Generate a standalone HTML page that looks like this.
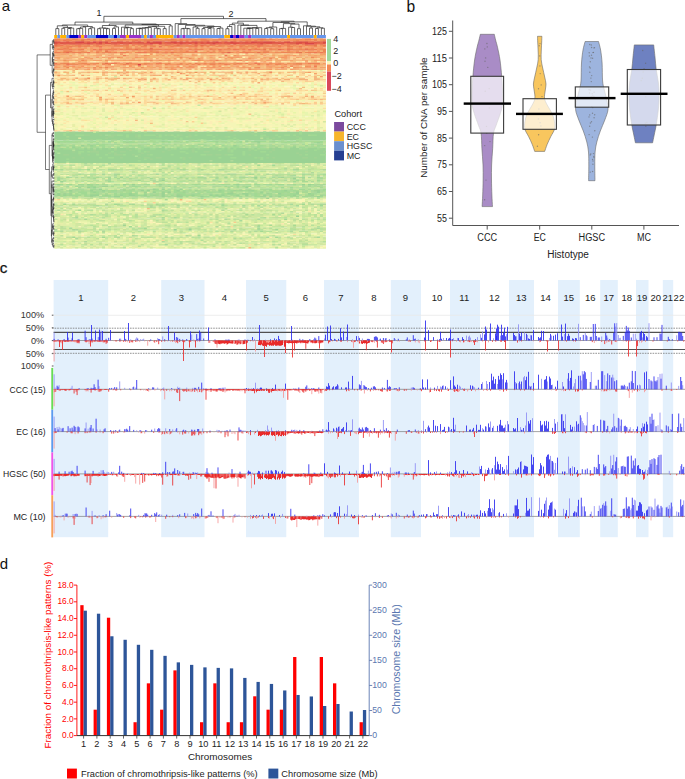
<!DOCTYPE html><html><head><meta charset="utf-8"><style>html,body{margin:0;padding:0;background:#fff;}svg{display:block;}text{font-family:"Liberation Sans",sans-serif;}</style></head><body>
<svg width="685" height="779" viewBox="0 0 685 779">
<rect width="685" height="779" fill="#fff"/>
<g font-family='"Liberation Sans", sans-serif' fill="#111">
<text x="1.80" y="11.20" font-size="15" text-anchor="start" fill="#111" >a</text>
<text x="406.60" y="11.60" font-size="15.6" text-anchor="start" fill="#111" >b</text>
<text x="-0.20" y="272.70" font-size="15.3" text-anchor="start" fill="#111" stroke="#111" stroke-width="0.25">c</text>
<text x="-0.30" y="569.00" font-size="15" text-anchor="start" fill="#111" >d</text>
</g>
<g transform="translate(54.3,38.6) scale(2.98462,1.50000)">
<path stroke="#ee8c5b" stroke-width="1" d="M0 0.5h91M0 1.5h91M0 5.5h91M0 17.5h91"/>
<path stroke="#e05b4d" stroke-width="1" d="M0 2.5h91"/>
<path stroke="#e05446" stroke-width="1" d="M0 3.5h91"/>
<path stroke="#ee8554" stroke-width="1" d="M0 4.5h91M0 9.5h91"/>
<path stroke="#f5a169" stroke-width="1" d="M0 6.5h91M0 8.5h91M0 12.5h91M0 14.5h91M0 18.5h91M0 19.5h91"/>
<path stroke="#ee7e54" stroke-width="1" d="M0 7.5h91"/>
<path stroke="#f5bd7e" stroke-width="1" d="M0 10.5h91"/>
<path stroke="#f5a870" stroke-width="1" d="M0 11.5h91M0 20.5h91"/>
<path stroke="#f5b67e" stroke-width="1" d="M0 13.5h91"/>
<path stroke="#fcd293" stroke-width="1" d="M0 15.5h91"/>
<path stroke="#f59a62" stroke-width="1" d="M0 16.5h91"/>
<path stroke="#f5f5b6" stroke-width="1" d="M0 21.5h91M0 30.5h91M0 31.5h91M0 33.5h91M0 35.5h91M0 41.5h91M0 44.5h91M0 45.5h91M0 47.5h91M0 48.5h91M0 49.5h91M0 50.5h91M0 52.5h91M0 53.5h91M0 54.5h91M0 55.5h91M0 56.5h91M0 57.5h91M0 58.5h91M0 60.5h91M0 107.5h91M0 115.5h91"/>
<path stroke="#f5c485" stroke-width="1" d="M0 22.5h91M0 24.5h91"/>
<path stroke="#fcf5b6" stroke-width="1" d="M0 23.5h91M0 25.5h91M0 28.5h91M0 29.5h91M0 32.5h91M0 36.5h91M0 37.5h91"/>
<path stroke="#fcd99a" stroke-width="1" d="M0 26.5h91M0 27.5h91M0 38.5h91"/>
<path stroke="#fceeaf" stroke-width="1" d="M0 34.5h91"/>
<path stroke="#fce7a8" stroke-width="1" d="M0 39.5h91M0 40.5h91M0 61.5h91"/>
<path stroke="#fce0a1" stroke-width="1" d="M0 42.5h91M0 43.5h91"/>
<path stroke="#eef5af" stroke-width="1" d="M0 46.5h91M0 51.5h91M0 59.5h91M0 108.5h91M0 130.5h91M0 138.5h91"/>
<path stroke="#9ad293" stroke-width="1" d="M0 62.5h91M0 63.5h91M0 64.5h91M0 65.5h91M0 66.5h91M0 67.5h91M0 73.5h91M0 74.5h91M0 75.5h91M0 76.5h91M0 77.5h91M0 78.5h91M0 79.5h91M0 80.5h91M0 81.5h91M0 82.5h91"/>
<path stroke="#a1d993" stroke-width="1" d="M0 68.5h91M0 71.5h91M0 72.5h91M0 101.5h91M0 102.5h91M0 103.5h91M0 104.5h91"/>
<path stroke="#b6e09a" stroke-width="1" d="M0 69.5h91M0 94.5h91M0 95.5h91M0 128.5h91"/>
<path stroke="#afd99a" stroke-width="1" d="M0 70.5h91M0 92.5h91M0 100.5h91"/>
<path stroke="#d2e7a1" stroke-width="1" d="M0 83.5h91M0 85.5h91M0 86.5h91M0 88.5h91M0 91.5h91M0 106.5h91M0 120.5h91M0 125.5h91M0 135.5h91M0 137.5h91"/>
<path stroke="#cbe7a1" stroke-width="1" d="M0 84.5h91M0 110.5h91M0 112.5h91M0 114.5h91M0 116.5h91M0 117.5h91M0 118.5h91M0 119.5h91M0 126.5h91M0 127.5h91M0 132.5h91"/>
<path stroke="#bde09a" stroke-width="1" d="M0 87.5h91M0 90.5h91M0 93.5h91M0 98.5h91M0 99.5h91M0 111.5h91"/>
<path stroke="#e0eea8" stroke-width="1" d="M0 89.5h91M0 96.5h91M0 109.5h91M0 121.5h91M0 122.5h91M0 123.5h91M0 124.5h91M0 129.5h91M0 131.5h91M0 133.5h91M0 134.5h91M0 136.5h91M0 139.5h91"/>
<path stroke="#a8d993" stroke-width="1" d="M0 97.5h91M0 105.5h91"/>
<path stroke="#e7eea8" stroke-width="1" d="M0 113.5h91"/>
<path stroke="#ee8554" stroke-width="1" d="M0 0.5h2M7 0.5h1M13 0.5h1M21 0.5h1M23 0.5h1M30 0.5h1M40 0.5h1M44 0.5h2M65 0.5h1M68 0.5h1M72 0.5h1M78 0.5h1M84 0.5h2M87 0.5h1M4 1.5h2M17 1.5h1M26 1.5h1M30 1.5h1M38 1.5h3M49 1.5h1M60 1.5h1M63 1.5h1M65 1.5h1M69 1.5h1M81 1.5h1M87 1.5h1M90 1.5h1M4 5.5h1M10 5.5h1M14 5.5h1M24 5.5h1M29 5.5h2M33 5.5h1M45 5.5h2M49 5.5h1M51 5.5h1M59 5.5h1M66 5.5h1M79 5.5h1M87 5.5h1M4 6.5h1M24 6.5h1M58 6.5h1M67 6.5h1M78 6.5h1M8 7.5h1M17 7.5h1M19 7.5h1M26 7.5h1M28 7.5h2M31 7.5h1M33 7.5h1M38 7.5h1M48 7.5h1M72 7.5h1M82 7.5h1M85 7.5h2M90 7.5h1M3 8.5h2M32 8.5h1M90 8.5h1M9 14.5h1M3 16.5h1M9 16.5h2M14 16.5h1M18 16.5h1M25 16.5h1M30 16.5h1M38 16.5h1M42 16.5h1M50 16.5h1M62 16.5h1M81 16.5h2M86 16.5h2M11 17.5h1M18 17.5h1M23 17.5h1M37 17.5h1M52 17.5h2M71 17.5h1M74 17.5h1M4 19.5h1M17 19.5h1"/>
<path stroke="#f59a62" stroke-width="1" d="M2 0.5h1M12 0.5h1M17 0.5h1M41 0.5h1M46 0.5h1M52 0.5h1M74 0.5h1M11 1.5h1M14 1.5h1M25 1.5h1M48 1.5h1M73 1.5h1M75 1.5h1M77 1.5h1M5 4.5h1M29 4.5h1M35 4.5h1M57 4.5h1M79 4.5h1M81 4.5h2M16 5.5h1M18 5.5h1M25 5.5h1M60 5.5h1M67 5.5h1M80 5.5h1M83 5.5h1M89 5.5h1M5 6.5h1M8 6.5h3M12 6.5h1M23 6.5h1M34 6.5h1M38 6.5h1M49 6.5h1M53 6.5h2M68 6.5h1M71 6.5h1M73 6.5h1M75 6.5h1M81 6.5h1M85 6.5h1M88 6.5h1M12 7.5h1M43 7.5h1M54 7.5h1M64 7.5h1M88 7.5h1M0 8.5h1M12 8.5h1M15 8.5h1M31 8.5h1M40 8.5h1M43 8.5h1M56 8.5h1M65 8.5h1M79 8.5h1M15 9.5h1M25 9.5h1M48 9.5h1M60 9.5h1M72 9.5h2M32 10.5h1M31 11.5h1M40 11.5h1M77 11.5h1M80 11.5h1M22 12.5h1M58 12.5h2M77 12.5h1M12 13.5h1M59 13.5h1M10 14.5h1M23 14.5h1M25 14.5h2M28 14.5h1M49 14.5h1M17 17.5h1M22 17.5h1M25 17.5h2M29 17.5h1M34 17.5h1M39 17.5h2M55 17.5h2M62 17.5h1M72 17.5h1M76 17.5h1M87 17.5h2M14 18.5h1M25 18.5h1M28 18.5h1M46 18.5h1M53 18.5h1M0 19.5h1M8 19.5h1M39 19.5h1M44 19.5h1M52 19.5h1M56 19.5h1M58 19.5h1M63 19.5h1M65 19.5h1M81 19.5h1M7 20.5h1M11 20.5h1M27 20.5h1M39 20.5h1M72 20.5h1M79 20.5h1M85 22.5h1M1 24.5h1M44 24.5h1M26 38.5h1"/>
<path stroke="#ee935b" stroke-width="1" d="M3 0.5h1M5 0.5h1M15 0.5h1M28 0.5h1M37 0.5h1M48 0.5h1M51 0.5h1M56 0.5h1M63 0.5h1M76 0.5h1M80 0.5h1M89 0.5h1M12 1.5h1M21 1.5h1M29 1.5h1M56 1.5h1M58 1.5h1M68 1.5h1M71 1.5h1M80 1.5h1M84 1.5h1M89 1.5h1M6 4.5h1M9 4.5h1M16 4.5h1M28 4.5h1M33 4.5h1M39 4.5h1M46 4.5h1M66 4.5h1M89 4.5h1M2 5.5h2M7 5.5h1M23 5.5h1M38 5.5h1M43 5.5h1M56 5.5h1M63 5.5h1M65 5.5h1M70 5.5h1M1 6.5h2M62 6.5h1M66 6.5h1M79 6.5h1M82 6.5h1M6 7.5h1M16 7.5h1M40 7.5h1M46 7.5h1M74 7.5h1M89 7.5h1M9 8.5h1M33 8.5h1M42 8.5h1M51 8.5h1M53 8.5h1M55 8.5h1M78 8.5h1M81 8.5h1M2 9.5h1M38 9.5h1M67 9.5h1M69 9.5h1M75 9.5h1M30 11.5h1M60 11.5h1M3 14.5h1M17 14.5h1M35 14.5h1M61 14.5h1M6 16.5h1M8 16.5h1M12 16.5h1M37 16.5h1M48 16.5h1M60 16.5h1M78 16.5h1M27 17.5h1M65 17.5h1M81 17.5h1M3 18.5h1M45 18.5h1M84 18.5h1M15 19.5h1M29 19.5h1M37 19.5h1M67 19.5h1M80 19.5h1M47 22.5h1M11 26.5h1"/>
<path stroke="#ee7e54" stroke-width="1" d="M4 0.5h1M6 0.5h1M9 0.5h1M20 0.5h1M32 0.5h1M34 0.5h1M42 0.5h1M49 0.5h2M55 0.5h1M60 0.5h1M70 0.5h1M0 1.5h1M18 1.5h1M31 1.5h2M42 1.5h1M44 1.5h1M50 1.5h2M64 1.5h1M67 1.5h1M30 2.5h1M1 4.5h1M8 4.5h1M14 4.5h1M20 4.5h1M24 4.5h1M37 4.5h1M40 4.5h1M52 4.5h1M69 4.5h1M78 4.5h1M84 4.5h1M90 4.5h1M0 5.5h1M5 5.5h1M8 5.5h1M39 5.5h1M62 5.5h1M75 5.5h1M78 5.5h1M82 5.5h1M3 6.5h1M5 8.5h1M44 8.5h1M0 9.5h2M3 9.5h1M6 9.5h1M8 9.5h1M14 9.5h1M18 9.5h1M20 9.5h1M22 9.5h2M29 9.5h1M37 9.5h1M52 9.5h1M56 9.5h1M63 9.5h1M70 9.5h1M85 9.5h1M23 11.5h1M54 14.5h1M4 16.5h1M20 16.5h1M34 16.5h2M47 16.5h1M55 16.5h1M61 16.5h1M64 16.5h1M68 16.5h1M85 16.5h1M88 16.5h1M48 17.5h1M57 17.5h1M68 17.5h1M87 18.5h1"/>
<path stroke="#f59362" stroke-width="1" d="M8 0.5h1M16 0.5h1M19 0.5h1M43 0.5h1M61 0.5h2M64 0.5h1M66 0.5h2M83 0.5h1M2 1.5h1M6 1.5h1M10 1.5h1M23 1.5h2M45 1.5h1M52 1.5h1M55 1.5h1M59 1.5h1M61 1.5h1M66 1.5h1M74 1.5h1M76 1.5h1M78 1.5h2M82 1.5h2M85 1.5h1M3 4.5h1M15 4.5h1M19 4.5h1M31 4.5h1M48 4.5h1M58 4.5h1M60 4.5h1M76 4.5h1M83 4.5h1M12 5.5h2M19 5.5h1M27 5.5h1M74 5.5h1M76 5.5h1M86 5.5h1M0 6.5h1M15 6.5h1M20 6.5h2M30 6.5h1M40 6.5h1M45 6.5h1M60 6.5h1M64 6.5h1M89 6.5h1M0 7.5h1M7 7.5h1M14 7.5h1M21 7.5h1M41 7.5h1M44 7.5h1M56 7.5h1M59 7.5h1M62 7.5h1M77 7.5h1M18 8.5h1M30 8.5h1M37 8.5h1M61 8.5h1M88 8.5h1M35 9.5h1M51 9.5h1M55 9.5h1M61 9.5h1M80 9.5h1M41 11.5h1M27 12.5h1M76 12.5h1M48 13.5h1M65 13.5h1M30 14.5h1M38 14.5h1M52 14.5h1M64 14.5h1M21 16.5h1M26 16.5h2M49 16.5h1M57 16.5h1M74 16.5h1M76 16.5h1M84 16.5h1M0 17.5h2M10 17.5h1M13 17.5h1M38 17.5h1M50 17.5h1M80 17.5h1M6 18.5h1M9 18.5h1M41 18.5h1M55 18.5h1M77 18.5h1M85 18.5h1M42 19.5h1M46 19.5h1M53 19.5h1M40 20.5h1M55 20.5h1M42 23.5h1M52 27.5h1M28 42.5h1"/>
<path stroke="#ee7754" stroke-width="1" d="M11 0.5h1M39 0.5h1M3 1.5h1M27 1.5h1M18 2.5h1M77 3.5h1M2 4.5h1M68 4.5h1M15 5.5h1M47 5.5h1M68 5.5h1M13 7.5h1M15 7.5h1M55 7.5h1M60 7.5h1M65 7.5h1M78 7.5h1M47 8.5h1M11 9.5h1M28 9.5h1M30 9.5h1M64 9.5h1M81 9.5h1M87 9.5h1M89 9.5h1M57 11.5h1M0 16.5h1M19 16.5h1M67 16.5h1M4 17.5h1"/>
<path stroke="#f5a169" stroke-width="1" d="M14 0.5h1M36 0.5h1M88 0.5h1M86 1.5h1M88 1.5h1M27 4.5h1M34 4.5h1M54 4.5h1M64 4.5h1M17 5.5h1M36 5.5h1M48 5.5h1M50 5.5h1M53 5.5h1M77 5.5h1M88 5.5h1M50 7.5h1M12 9.5h2M54 9.5h1M69 10.5h1M89 10.5h2M9 11.5h1M34 11.5h1M36 11.5h1M38 11.5h1M46 11.5h2M52 11.5h1M61 11.5h1M66 11.5h1M78 11.5h1M87 11.5h1M18 13.5h1M30 13.5h1M40 13.5h1M42 13.5h1M57 13.5h1M77 13.5h1M89 13.5h1M8 15.5h1M53 15.5h1M1 16.5h1M7 16.5h1M23 16.5h1M33 16.5h1M41 16.5h1M43 16.5h2M65 16.5h1M70 16.5h1M3 17.5h1M9 17.5h1M12 17.5h1M35 17.5h1M47 17.5h1M54 17.5h1M61 17.5h1M66 17.5h1M69 17.5h1M79 17.5h1M85 17.5h1M35 20.5h1M51 20.5h1M66 20.5h2M24 22.5h1M87 23.5h1M9 24.5h1M89 25.5h1M28 27.5h1M30 27.5h1M4 38.5h1M15 39.5h1M70 42.5h1"/>
<path stroke="#e77754" stroke-width="1" d="M33 0.5h1M69 0.5h1M35 5.5h1M32 7.5h1M84 7.5h1M34 9.5h1"/>
<path stroke="#f59a69" stroke-width="1" d="M79 0.5h1M20 1.5h1M72 1.5h1M72 4.5h1M85 5.5h1M36 6.5h1M39 6.5h1M38 8.5h1M21 9.5h1M22 10.5h1M10 12.5h1M14 12.5h1M19 12.5h1M61 12.5h1M31 14.5h1M46 14.5h1M53 14.5h1M71 14.5h1M87 14.5h1M90 14.5h1M58 16.5h1M66 16.5h1M83 16.5h1M8 17.5h1M31 17.5h2M45 19.5h1M13 20.5h1M87 20.5h1M32 22.5h1"/>
<path stroke="#e7774d" stroke-width="1" d="M9 1.5h1M30 4.5h1M87 4.5h1M70 7.5h1M17 8.5h1M82 9.5h1"/>
<path stroke="#f5a869" stroke-width="1" d="M16 1.5h1M12 4.5h1M25 4.5h1M28 5.5h1M37 5.5h1M57 5.5h1M6 6.5h1M17 6.5h1M69 6.5h1M83 9.5h1M5 11.5h1M73 11.5h1M29 12.5h2M75 12.5h1M87 12.5h1M1 13.5h1M9 13.5h1M46 13.5h1M83 13.5h1M7 14.5h1M68 14.5h1M89 14.5h1M43 17.5h1M45 17.5h1M51 17.5h1M84 17.5h1M76 18.5h1M6 19.5h1M32 19.5h1M38 19.5h1M57 19.5h1M62 19.5h1M3 20.5h1M28 20.5h1M30 20.5h1M71 20.5h1M74 20.5h1M21 22.5h1M33 26.5h1"/>
<path stroke="#d94d46" stroke-width="1" d="M0 2.5h1M7 2.5h1M17 2.5h1M33 2.5h1M39 2.5h1M42 2.5h1M47 2.5h1M51 2.5h1M67 2.5h1M70 2.5h3M78 2.5h1M82 2.5h1M84 2.5h1M90 2.5h1M11 3.5h1M15 3.5h1M42 3.5h1M47 3.5h1M60 3.5h1M69 3.5h1M81 3.5h1"/>
<path stroke="#e05446" stroke-width="1" d="M1 2.5h1M4 2.5h1M11 2.5h1M21 2.5h2M28 2.5h1M44 2.5h1M46 2.5h1M49 2.5h1M57 2.5h1M60 2.5h1M64 2.5h1M68 2.5h2M73 2.5h1M77 2.5h1M81 2.5h1M83 2.5h1"/>
<path stroke="#e7624d" stroke-width="1" d="M6 2.5h1M14 2.5h1M50 2.5h1M65 2.5h1M86 2.5h1M9 3.5h1M21 3.5h1M30 3.5h1M41 3.5h1M44 3.5h1M55 3.5h1M62 3.5h1M66 3.5h1M87 3.5h1"/>
<path stroke="#d94646" stroke-width="1" d="M8 2.5h2M13 2.5h1M15 2.5h1M31 2.5h1M34 2.5h2M40 2.5h1M54 2.5h1M59 2.5h1M66 2.5h1M32 3.5h1M35 3.5h1M53 3.5h1M84 3.5h3M28 17.5h1"/>
<path stroke="#e7694d" stroke-width="1" d="M10 2.5h1M56 2.5h1M85 2.5h1M89 2.5h1M1 3.5h1M13 3.5h1M26 3.5h2M37 3.5h1M39 3.5h1M46 3.5h1M56 3.5h1M67 3.5h1M78 3.5h1M83 3.5h1M88 3.5h2M75 7.5h1M4 9.5h1"/>
<path stroke="#e0624d" stroke-width="1" d="M16 2.5h1M24 2.5h1M26 2.5h1M48 2.5h1M62 2.5h1M75 2.5h1M80 2.5h1M88 2.5h1M19 3.5h1M23 3.5h2M28 3.5h2M38 3.5h1M50 3.5h1M54 3.5h1M57 3.5h1M63 3.5h1M68 3.5h1M70 3.5h1M73 3.5h2M79 3.5h2M58 9.5h1"/>
<path stroke="#e7704d" stroke-width="1" d="M36 2.5h1M16 3.5h1M36 3.5h1M48 3.5h1M0 4.5h1M41 4.5h1M47 4.5h1M49 4.5h1M32 6.5h1M27 7.5h1M39 9.5h1M68 9.5h1M17 16.5h1M24 16.5h1"/>
<path stroke="#d95446" stroke-width="1" d="M53 2.5h1M0 3.5h1"/>
<path stroke="#e05b4d" stroke-width="1" d="M3 3.5h6M10 3.5h1M12 3.5h1M14 3.5h1M20 3.5h1M31 3.5h1M43 3.5h1M52 3.5h1M58 3.5h1M64 3.5h2M76 3.5h1"/>
<path stroke="#ee8c5b" stroke-width="1" d="M4 4.5h1M10 4.5h1M13 4.5h1M17 4.5h2M36 4.5h1M43 4.5h1M51 4.5h1M56 4.5h1M61 4.5h1M65 4.5h1M70 4.5h2M73 4.5h2M77 4.5h1M80 4.5h1M19 6.5h1M25 6.5h1M27 6.5h2M42 6.5h1M47 6.5h1M52 6.5h1M63 6.5h1M70 6.5h1M72 6.5h1M84 6.5h1M86 6.5h1M3 7.5h2M23 7.5h1M36 7.5h1M42 7.5h1M53 7.5h1M57 7.5h2M66 7.5h1M69 7.5h1M73 7.5h1M80 7.5h2M83 7.5h1M14 8.5h1M34 8.5h1M63 8.5h1M70 8.5h2M5 9.5h1M9 9.5h1M16 9.5h1M19 9.5h1M31 9.5h2M36 9.5h1M41 9.5h2M49 9.5h2M53 9.5h1M74 9.5h1M79 9.5h1M88 9.5h1M90 9.5h1M21 12.5h1M42 12.5h1M86 12.5h1M45 13.5h1M72 13.5h1M32 14.5h1M47 14.5h2M62 14.5h1M2 16.5h1M13 16.5h1M16 16.5h1M31 16.5h1M45 16.5h1M52 16.5h2M56 16.5h1M72 16.5h1M75 16.5h1M79 18.5h1M13 19.5h1M68 19.5h1M76 19.5h1M65 20.5h1M41 22.5h1M72 22.5h1"/>
<path stroke="#f5a870" stroke-width="1" d="M88 4.5h1M31 5.5h1M34 5.5h1M61 5.5h1M84 5.5h1M13 6.5h2M43 6.5h1M48 6.5h1M55 6.5h1M65 6.5h1M80 6.5h1M87 6.5h1M51 7.5h1M2 8.5h1M20 8.5h1M36 8.5h1M52 8.5h1M57 8.5h1M60 8.5h1M68 8.5h1M72 8.5h1M74 8.5h1M87 8.5h1M2 10.5h2M39 10.5h1M42 10.5h1M46 10.5h1M11 12.5h1M49 12.5h1M62 12.5h1M65 12.5h1M4 13.5h1M11 13.5h1M26 13.5h1M34 13.5h1M38 13.5h1M49 13.5h1M66 13.5h1M69 13.5h1M20 14.5h1M33 14.5h1M43 14.5h1M50 14.5h1M57 14.5h1M60 14.5h1M63 14.5h1M69 14.5h1M75 14.5h3M88 14.5h1M70 15.5h1M84 15.5h1M39 16.5h2M2 17.5h1M21 17.5h1M49 17.5h1M73 17.5h1M78 17.5h1M35 18.5h1M39 18.5h1M43 18.5h1M47 18.5h1M51 18.5h1M73 18.5h1M7 19.5h1M18 19.5h1M54 19.5h1M61 19.5h1M71 19.5h1M16 22.5h1M30 22.5h1M45 22.5h1M64 22.5h1M22 24.5h1M24 24.5h1M33 24.5h1M35 24.5h1M70 24.5h1M7 26.5h1M23 26.5h1M44 26.5h1M56 26.5h1M44 27.5h1M69 27.5h1M78 27.5h1M68 29.5h1M86 38.5h1M24 39.5h1"/>
<path stroke="#f5af70" stroke-width="1" d="M26 5.5h1M11 7.5h1M71 7.5h1M50 8.5h1M66 8.5h1M77 8.5h1M35 10.5h1M13 11.5h1M75 11.5h2M86 11.5h1M88 11.5h2M31 12.5h1M41 12.5h1M71 12.5h1M37 13.5h1M70 13.5h1M74 13.5h1M40 14.5h1M65 14.5h1M74 14.5h1M43 15.5h1M50 15.5h1M46 16.5h1M14 17.5h1M59 17.5h1M70 17.5h1M86 17.5h1M89 17.5h1M8 18.5h1M21 18.5h1M32 18.5h1M59 18.5h1M16 19.5h1M31 19.5h1M23 20.5h1M56 20.5h1M70 20.5h1M23 21.5h1M0 22.5h1M14 22.5h1M84 22.5h1M43 23.5h1M17 26.5h1M77 27.5h1M82 27.5h1M15 40.5h1"/>
<path stroke="#f5af77" stroke-width="1" d="M52 5.5h1M1 8.5h1M7 8.5h1M25 8.5h1M29 8.5h1M59 8.5h1M82 8.5h1M1 10.5h1M4 10.5h1M15 10.5h1M19 10.5h1M27 10.5h1M82 10.5h1M85 10.5h1M1 11.5h1M19 11.5h1M29 11.5h1M42 11.5h1M51 11.5h1M67 11.5h1M4 12.5h4M17 12.5h1M24 12.5h1M43 12.5h1M45 12.5h1M66 12.5h1M78 12.5h1M82 12.5h1M84 12.5h1M88 12.5h1M3 13.5h1M8 13.5h1M32 13.5h1M53 13.5h1M80 13.5h1M2 14.5h1M5 14.5h1M8 14.5h1M18 14.5h1M44 14.5h1M59 14.5h1M83 14.5h1M9 15.5h2M74 15.5h1M77 16.5h1M33 17.5h1M83 17.5h1M90 17.5h1M7 18.5h1M17 18.5h2M20 18.5h1M44 18.5h1M60 18.5h1M81 18.5h1M3 19.5h1M9 19.5h1M19 19.5h1M22 19.5h1M25 19.5h1M30 19.5h1M55 19.5h1M77 19.5h1M86 19.5h1M14 20.5h1M17 20.5h1M20 20.5h1M32 20.5h1M52 20.5h1M57 20.5h1M77 20.5h1M81 20.5h1M89 20.5h1M11 22.5h1M17 22.5h1M22 22.5h1M44 22.5h1M53 22.5h1M59 22.5h1M61 22.5h1M67 22.5h1M23 23.5h1M68 23.5h1M34 24.5h1M14 26.5h1M21 26.5h1M29 26.5h1M45 26.5h1M38 27.5h1M43 27.5h1M83 27.5h2M33 33.5h1M62 37.5h1M78 38.5h1M84 38.5h1M60 39.5h1"/>
<path stroke="#ee8c54" stroke-width="1" d="M64 5.5h1"/>
<path stroke="#ee9362" stroke-width="1" d="M81 5.5h1M74 6.5h1M80 16.5h1"/>
<path stroke="#f5b677" stroke-width="1" d="M11 6.5h1M10 7.5h1M16 8.5h1M27 8.5h1M54 8.5h1M62 8.5h1M89 8.5h1M26 9.5h1M34 10.5h1M40 10.5h2M73 10.5h1M78 10.5h1M84 10.5h1M32 11.5h2M35 11.5h1M49 11.5h1M58 11.5h1M65 11.5h1M83 11.5h1M2 12.5h2M25 12.5h2M32 12.5h2M37 12.5h1M39 12.5h1M46 12.5h1M53 12.5h1M67 12.5h2M22 13.5h1M24 13.5h1M44 13.5h1M52 13.5h1M58 13.5h1M76 13.5h1M6 14.5h1M12 14.5h1M29 14.5h1M56 14.5h1M58 14.5h1M70 14.5h1M78 14.5h1M80 14.5h1M86 14.5h1M3 15.5h2M17 15.5h1M52 15.5h1M75 15.5h1M87 15.5h1M15 16.5h1M20 17.5h1M63 17.5h1M67 17.5h1M1 18.5h1M15 18.5h1M26 18.5h1M37 18.5h1M54 18.5h1M66 18.5h3M74 18.5h1M12 19.5h1M14 19.5h1M73 19.5h1M1 20.5h1M4 20.5h1M42 20.5h1M47 20.5h1M49 20.5h1M59 20.5h1M88 20.5h1M6 21.5h1M3 22.5h2M13 22.5h1M50 22.5h1M78 22.5h1M29 23.5h1M59 23.5h1M32 24.5h1M39 25.5h1M81 25.5h1M2 26.5h2M20 26.5h1M51 26.5h1M66 26.5h1M74 26.5h1M6 27.5h1M19 27.5h1M71 27.5h1M87 27.5h1M51 38.5h1M77 38.5h1M55 39.5h1M83 43.5h1M42 107.5h1"/>
<path stroke="#f5c485" stroke-width="1" d="M11 8.5h1M5 10.5h1M38 10.5h1M50 10.5h1M55 10.5h1M70 10.5h1M74 10.5h1M87 10.5h2M37 11.5h1M43 11.5h1M54 11.5h1M68 11.5h2M72 11.5h1M8 12.5h1M23 12.5h1M38 12.5h1M48 12.5h1M57 12.5h1M89 12.5h2M19 13.5h1M21 13.5h1M47 13.5h1M84 13.5h2M42 14.5h1M45 14.5h1M85 14.5h1M16 15.5h1M48 15.5h1M57 15.5h1M80 15.5h1M86 15.5h1M90 15.5h1M36 17.5h1M64 17.5h1M22 18.5h1M29 18.5h1M70 18.5h1M78 18.5h1M20 19.5h1M70 19.5h1M6 20.5h1M26 20.5h1M63 20.5h1M83 20.5h1M4 23.5h1M8 23.5h1M45 23.5h1M50 23.5h1M53 23.5h1M75 23.5h1M83 23.5h1M15 26.5h1M19 26.5h1M24 26.5h1M30 26.5h1M37 26.5h1M49 26.5h1M52 26.5h1M69 26.5h1M88 26.5h1M18 27.5h1M20 27.5h1M32 28.5h1M66 28.5h1M10 32.5h1M75 34.5h1M86 34.5h1M7 38.5h1M45 38.5h1M8 40.5h1M19 40.5h1M71 40.5h1M81 40.5h1M24 42.5h1M40 43.5h1M84 43.5h1M23 61.5h1M67 61.5h1M50 107.5h1"/>
<path stroke="#f5b67e" stroke-width="1" d="M13 8.5h1M75 8.5h1M84 8.5h1M0 10.5h1M6 10.5h1M14 10.5h1M2 11.5h1M20 11.5h1M26 11.5h1M28 11.5h1M44 11.5h1M62 11.5h1M81 11.5h1M90 11.5h1M20 12.5h1M35 12.5h1M40 12.5h1M56 12.5h1M1 14.5h1M81 14.5h2M51 15.5h1M66 15.5h1M69 15.5h1M89 16.5h1M23 18.5h1M38 18.5h1M80 18.5h1M2 19.5h1M47 19.5h1M83 19.5h1M0 20.5h1M15 20.5h1M29 20.5h1M31 20.5h1M33 20.5h1M58 20.5h1M62 20.5h1M84 20.5h1M19 22.5h1M39 22.5h1M49 22.5h1M58 22.5h1M66 22.5h1M80 22.5h1M6 24.5h1M87 25.5h1M10 26.5h1M40 26.5h1M42 26.5h1M57 26.5h1M71 26.5h1M87 26.5h1M10 27.5h1M29 27.5h1M32 27.5h1M75 27.5h1M88 27.5h1M76 28.5h1M86 39.5h1M17 40.5h1M69 40.5h1M87 40.5h1M89 40.5h1M4 43.5h1M24 43.5h1M39 43.5h1M67 43.5h1M27 54.5h1M65 139.5h1"/>
<path stroke="#f5bd7e" stroke-width="1" d="M21 8.5h1M23 8.5h1M49 8.5h1M73 8.5h1M3 11.5h1M8 11.5h1M11 11.5h2M21 11.5h2M25 11.5h1M39 11.5h1M50 11.5h1M74 11.5h1M15 12.5h1M34 12.5h1M36 12.5h1M51 12.5h1M85 12.5h1M23 13.5h1M27 13.5h2M36 13.5h1M39 13.5h1M51 13.5h1M60 13.5h1M71 13.5h1M86 13.5h1M11 14.5h1M16 14.5h1M38 15.5h1M79 15.5h1M15 17.5h1M11 18.5h1M40 18.5h1M64 18.5h1M69 18.5h1M75 18.5h1M88 18.5h2M27 19.5h2M36 19.5h1M69 19.5h1M88 19.5h1M5 20.5h1M8 20.5h1M34 20.5h1M43 20.5h1M82 20.5h1M90 20.5h1M6 22.5h1M29 22.5h1M36 22.5h1M52 22.5h1M71 22.5h1M75 22.5h1M16 23.5h1M28 23.5h1M16 24.5h1M37 24.5h1M60 24.5h1M78 24.5h1M25 26.5h1M54 26.5h1M58 26.5h1M76 26.5h1M83 26.5h1M2 27.5h1M4 27.5h1M33 27.5h1M49 27.5h1M55 27.5h1M67 27.5h1M48 28.5h1M83 32.5h1M39 34.5h1M52 34.5h1M4 35.5h1M60 38.5h1M65 38.5h1M6 40.5h1M9 40.5h1M4 42.5h1M19 42.5h1M19 43.5h1M70 43.5h1M32 56.5h1M5 61.5h1"/>
<path stroke="#f5bd85" stroke-width="1" d="M22 8.5h1M9 10.5h1M11 10.5h1M17 10.5h2M57 10.5h1M67 10.5h1M79 10.5h1M4 11.5h1M17 11.5h1M45 11.5h1M55 11.5h1M12 12.5h2M15 13.5h1M25 13.5h1M32 15.5h1M63 15.5h1M2 18.5h1M33 18.5h1M57 18.5h1M82 18.5h1M86 18.5h1M34 19.5h1M43 19.5h1M59 19.5h2M9 20.5h1M25 20.5h1M37 20.5h1M44 20.5h1M85 20.5h1M9 22.5h1M23 22.5h1M26 22.5h1M42 22.5h1M57 22.5h1M62 22.5h1M21 23.5h1M36 23.5h1M62 23.5h1M64 23.5h1M82 26.5h1M14 27.5h1M58 27.5h1M70 27.5h1M45 28.5h1M82 33.5h1M14 34.5h1M51 34.5h1M59 36.5h1M8 38.5h1M48 38.5h1M67 38.5h1M76 38.5h1M79 38.5h1M34 40.5h1M26 42.5h1M33 42.5h1M63 42.5h1M66 42.5h1M71 42.5h1M22 43.5h1M34 43.5h1M76 43.5h1M82 43.5h1M31 113.5h1"/>
<path stroke="#f5cb8c" stroke-width="1" d="M48 8.5h1M83 12.5h1M14 13.5h1M17 13.5h1M54 15.5h3M58 18.5h1M21 19.5h1M66 19.5h1M22 20.5h1M57 23.5h1M71 23.5h1M4 24.5h1M48 24.5h1M79 24.5h1M90 24.5h1M18 26.5h1M79 26.5h1M42 27.5h1M47 27.5h1M0 29.5h1M87 34.5h1M90 36.5h1M50 38.5h1M76 39.5h1M83 39.5h1M64 40.5h1M69 41.5h1M31 42.5h1M89 42.5h1M59 61.5h1"/>
<path stroke="#fccb8c" stroke-width="1" d="M7 10.5h1M23 10.5h1M51 10.5h4M58 10.5h2M65 10.5h1M75 10.5h2M48 11.5h1M69 12.5h1M80 12.5h1M2 13.5h1M6 13.5h1M29 13.5h1M35 13.5h1M87 13.5h1M1 15.5h1M28 15.5h1M36 15.5h1M42 15.5h1M89 15.5h1M10 18.5h1M36 18.5h1M52 18.5h1M65 18.5h1M24 20.5h1M36 20.5h1M61 20.5h1M73 20.5h1M1 22.5h1M12 22.5h1M25 22.5h1M76 22.5h1M82 22.5h1M0 23.5h1M26 23.5h1M33 23.5h1M72 23.5h1M2 24.5h1M20 24.5h1M26 24.5h1M30 24.5h1M53 24.5h1M74 24.5h1M55 25.5h1M9 26.5h1M27 26.5h1M39 26.5h1M48 26.5h1M61 26.5h1M63 26.5h1M81 26.5h1M1 27.5h1M8 27.5h2M37 27.5h1M72 27.5h1M74 27.5h1M53 29.5h1M9 34.5h1M43 34.5h1M67 37.5h1M14 38.5h1M43 38.5h1M52 38.5h1M58 38.5h1M61 38.5h1M63 38.5h1M66 38.5h1M5 39.5h1M32 39.5h1M64 39.5h1M5 40.5h1M36 40.5h1M48 40.5h1M86 40.5h1M90 40.5h1M15 41.5h1M7 42.5h1M49 42.5h1M72 42.5h1M87 42.5h1M5 43.5h1M53 43.5h1M89 43.5h1M49 56.5h1M60 122.5h1"/>
<path stroke="#fcd99a" stroke-width="1" d="M10 10.5h1M21 10.5h1M33 10.5h1M72 10.5h1M80 10.5h2M50 12.5h1M7 13.5h1M16 13.5h1M82 13.5h1M88 13.5h1M19 15.5h1M24 15.5h1M26 15.5h2M30 15.5h1M44 15.5h1M58 15.5h1M24 18.5h1M30 18.5h1M56 18.5h1M62 18.5h1M48 20.5h1M60 20.5h1M31 21.5h1M41 21.5h1M44 21.5h1M82 21.5h1M15 22.5h1M31 22.5h1M54 22.5h1M65 22.5h1M86 22.5h1M37 23.5h1M61 23.5h1M63 23.5h1M76 23.5h1M82 23.5h1M10 24.5h1M23 24.5h1M27 24.5h1M41 24.5h1M45 24.5h1M57 24.5h1M82 24.5h2M1 25.5h1M15 25.5h1M40 25.5h1M57 25.5h1M70 25.5h1M17 28.5h1M59 28.5h1M63 28.5h1M73 28.5h1M86 28.5h1M13 29.5h2M81 29.5h1M30 30.5h1M5 32.5h1M56 32.5h1M18 33.5h1M69 33.5h1M87 33.5h1M89 33.5h1M10 34.5h1M22 34.5h1M25 34.5h1M31 34.5h1M35 34.5h1M62 34.5h1M82 34.5h1M22 35.5h1M68 35.5h1M1 36.5h1M27 36.5h1M77 36.5h2M14 37.5h1M69 37.5h1M1 39.5h1M4 39.5h1M9 39.5h2M37 39.5h1M45 39.5h1M82 39.5h1M0 40.5h1M37 40.5h1M41 40.5h1M44 40.5h1M50 40.5h1M67 40.5h1M25 41.5h1M27 41.5h1M30 41.5h1M67 41.5h1M12 42.5h1M18 42.5h1M30 42.5h1M34 42.5h1M50 42.5h1M61 42.5h1M64 42.5h1M68 42.5h1M77 42.5h1M81 42.5h1M2 43.5h1M17 43.5h1M25 43.5h1M30 43.5h1M33 43.5h1M55 43.5h1M60 43.5h1M74 43.5h1M80 43.5h1M80 44.5h1M1 45.5h1M31 47.5h1M76 52.5h1M82 54.5h1M9 58.5h1M0 61.5h1M3 61.5h1M13 61.5h1M33 61.5h1M74 61.5h1M45 108.5h1M59 125.5h1M36 134.5h1"/>
<path stroke="#fcd293" stroke-width="1" d="M12 10.5h2M20 10.5h1M24 10.5h1M28 10.5h1M44 10.5h2M60 10.5h1M66 10.5h1M7 11.5h1M47 12.5h1M64 12.5h1M43 13.5h1M54 13.5h1M56 13.5h1M62 13.5h1M79 13.5h1M81 13.5h1M27 18.5h1M5 19.5h1M12 20.5h1M16 20.5h1M18 20.5h1M21 20.5h1M53 20.5h1M64 20.5h1M16 21.5h1M33 22.5h1M40 22.5h1M69 22.5h1M73 22.5h1M1 23.5h1M22 23.5h1M24 23.5h1M30 23.5h2M46 23.5h1M48 23.5h1M58 23.5h1M67 23.5h1M80 23.5h1M0 24.5h1M19 24.5h1M49 24.5h1M52 24.5h1M65 24.5h1M71 24.5h1M87 24.5h1M14 25.5h1M46 25.5h1M56 25.5h1M77 25.5h1M4 26.5h1M6 26.5h1M8 26.5h1M47 26.5h1M78 26.5h1M80 26.5h1M11 27.5h1M54 27.5h1M56 27.5h2M73 27.5h1M80 27.5h1M89 27.5h2M25 28.5h1M28 28.5h1M34 28.5h1M56 28.5h1M67 28.5h1M69 28.5h1M85 28.5h1M50 29.5h1M66 29.5h1M22 32.5h1M65 32.5h1M28 33.5h1M11 34.5h1M13 34.5h1M53 34.5h1M58 34.5h1M63 34.5h1M81 34.5h1M84 34.5h1M69 35.5h1M63 36.5h2M18 37.5h1M23 37.5h1M68 37.5h1M84 37.5h1M0 38.5h1M9 38.5h1M22 38.5h2M30 38.5h1M32 38.5h1M39 38.5h1M62 38.5h1M70 38.5h1M26 39.5h1M39 39.5h1M42 39.5h1M78 39.5h1M7 40.5h1M18 40.5h1M38 40.5h1M42 40.5h2M54 40.5h3M61 40.5h1M65 40.5h1M68 40.5h1M79 40.5h2M85 40.5h1M88 40.5h1M17 41.5h1M47 41.5h1M0 42.5h1M3 42.5h1M17 42.5h1M22 42.5h1M37 42.5h2M45 42.5h1M48 42.5h1M67 42.5h1M69 42.5h1M78 42.5h1M23 43.5h1M41 43.5h1M43 43.5h1M54 43.5h1M69 43.5h1M85 43.5h1M47 52.5h1M18 53.5h1M46 55.5h1M4 61.5h1M25 61.5h1M45 61.5h1M47 61.5h1M73 61.5h1M90 61.5h1M33 96.5h1M1 107.5h1M30 108.5h1M33 109.5h1"/>
<path stroke="#fce0a1" stroke-width="1" d="M29 10.5h1M16 11.5h1M56 11.5h1M54 12.5h1M74 12.5h1M20 13.5h1M33 13.5h1M41 13.5h1M61 13.5h1M75 13.5h1M5 15.5h1M14 15.5h1M29 15.5h1M37 15.5h1M39 15.5h1M45 15.5h1M59 15.5h1M62 15.5h1M78 15.5h1M82 15.5h1M85 15.5h1M48 18.5h2M48 19.5h1M46 20.5h1M10 21.5h2M18 21.5h1M32 21.5h1M43 22.5h1M81 22.5h1M89 22.5h1M5 23.5h1M11 23.5h1M66 23.5h1M70 23.5h1M89 23.5h1M31 24.5h1M47 24.5h1M50 24.5h1M66 24.5h2M72 24.5h1M89 24.5h1M4 25.5h1M48 25.5h1M51 25.5h1M71 25.5h2M86 25.5h1M5 26.5h1M13 26.5h1M64 26.5h1M67 26.5h2M70 26.5h1M89 26.5h1M17 27.5h1M27 27.5h1M36 27.5h1M59 27.5h1M62 27.5h1M66 27.5h1M81 27.5h1M11 28.5h1M14 28.5h1M23 28.5h1M26 28.5h1M36 28.5h1M52 28.5h1M58 28.5h1M64 28.5h1M77 28.5h2M3 29.5h1M10 29.5h1M55 29.5h1M62 29.5h1M87 30.5h1M2 31.5h1M17 31.5h1M23 31.5h1M28 31.5h1M47 31.5h1M8 32.5h2M26 32.5h1M30 32.5h1M35 32.5h1M63 32.5h1M69 32.5h1M28 34.5h1M46 34.5h1M50 34.5h1M69 34.5h1M72 34.5h1M83 34.5h1M89 34.5h1M30 35.5h1M32 35.5h2M55 35.5h1M66 35.5h1M90 35.5h1M28 36.5h1M40 36.5h1M44 36.5h1M71 36.5h1M82 36.5h1M85 36.5h1M0 37.5h1M39 37.5h2M42 37.5h1M53 37.5h1M77 37.5h1M12 38.5h1M24 38.5h1M29 38.5h1M35 38.5h1M49 38.5h1M54 38.5h1M59 38.5h1M68 38.5h1M82 38.5h2M85 38.5h1M3 39.5h1M30 39.5h1M34 39.5h1M43 39.5h1M46 39.5h2M53 39.5h1M57 39.5h2M67 39.5h1M85 39.5h1M87 39.5h2M16 40.5h1M20 40.5h1M28 40.5h1M31 40.5h1M40 40.5h1M59 40.5h1M62 40.5h1M66 40.5h1M72 40.5h1M75 40.5h1M77 40.5h2M82 40.5h1M0 41.5h1M4 41.5h1M8 41.5h1M50 41.5h1M60 41.5h1M71 41.5h1M4 45.5h1M38 45.5h1M71 45.5h1M90 46.5h1M0 48.5h1M19 52.5h1M9 54.5h1M20 54.5h1M24 54.5h1M79 54.5h1M6 61.5h1M9 61.5h1M11 61.5h1M14 61.5h1M16 61.5h1M21 61.5h1M24 61.5h1M58 61.5h1M44 108.5h1M52 122.5h1M80 130.5h1M65 137.5h1"/>
<path stroke="#fcd29a" stroke-width="1" d="M30 10.5h1M50 13.5h1M68 13.5h1M50 20.5h1M17 23.5h1M23 27.5h1M51 35.5h1M90 38.5h1"/>
<path stroke="#fce7a1" stroke-width="1" d="M31 10.5h1M49 15.5h1M74 22.5h1M63 24.5h1M83 28.5h1M8 29.5h1M37 32.5h1M2 34.5h1M74 36.5h1M64 37.5h1M42 38.5h1M44 38.5h1M19 39.5h1M24 40.5h1M27 40.5h1M35 40.5h1M30 44.5h1M87 48.5h1M71 54.5h1M87 54.5h1"/>
<path stroke="#f5c48c" stroke-width="1" d="M43 10.5h1M49 10.5h1M68 10.5h1M6 11.5h1M10 11.5h1M71 11.5h1M84 11.5h1M13 13.5h1M34 15.5h1M12 18.5h1M90 18.5h1M41 20.5h1M48 22.5h1M55 22.5h2M83 22.5h1M39 23.5h1M56 24.5h1M73 26.5h1M48 27.5h1M53 27.5h1M47 29.5h1M25 32.5h1M28 32.5h1M17 34.5h1M21 34.5h1M40 34.5h1M34 38.5h1M38 38.5h1M72 38.5h1M4 40.5h1M39 40.5h1M49 40.5h1M44 42.5h1M52 42.5h1M9 43.5h1M65 50.5h1M44 55.5h1M12 61.5h1M81 61.5h1"/>
<path stroke="#fceeb6" stroke-width="1" d="M48 10.5h1M13 15.5h1M18 15.5h1M47 15.5h1M68 15.5h1M83 15.5h1M1 21.5h1M8 21.5h2M15 21.5h1M43 21.5h1M56 23.5h1M13 24.5h1M39 24.5h2M68 24.5h1M81 24.5h1M0 25.5h1M5 25.5h1M8 25.5h2M25 25.5h1M27 25.5h1M33 25.5h1M42 25.5h1M74 25.5h1M76 25.5h1M41 26.5h1M25 27.5h2M35 27.5h1M46 27.5h1M51 27.5h1M7 28.5h1M13 28.5h1M18 28.5h1M21 28.5h1M24 28.5h1M47 28.5h1M49 28.5h1M74 28.5h1M11 29.5h1M25 29.5h1M27 29.5h1M29 29.5h1M37 29.5h1M60 29.5h1M87 29.5h1M32 30.5h2M35 30.5h1M47 30.5h1M78 30.5h1M83 30.5h1M35 31.5h1M48 31.5h1M67 31.5h1M39 32.5h1M57 32.5h1M1 33.5h1M8 33.5h1M22 33.5h1M29 33.5h1M31 33.5h1M51 33.5h1M56 33.5h1M66 33.5h1M71 33.5h1M78 33.5h1M3 34.5h1M6 34.5h1M8 34.5h1M15 34.5h1M26 34.5h1M38 34.5h1M56 34.5h1M64 34.5h3M9 35.5h1M23 35.5h1M39 35.5h1M42 35.5h1M45 35.5h1M58 35.5h1M70 35.5h1M78 35.5h2M81 35.5h1M10 36.5h1M18 36.5h1M24 36.5h1M33 36.5h1M35 36.5h1M37 36.5h1M46 36.5h1M53 36.5h1M87 36.5h1M5 37.5h1M21 37.5h1M35 37.5h1M50 37.5h1M56 37.5h1M60 37.5h1M66 37.5h1M71 37.5h1M73 37.5h1M2 38.5h1M13 38.5h1M16 38.5h1M74 38.5h1M80 38.5h1M87 38.5h1M89 38.5h1M17 39.5h1M31 39.5h1M44 39.5h1M50 39.5h1M56 39.5h1M63 39.5h1M69 39.5h1M72 39.5h1M29 40.5h1M58 40.5h1M70 40.5h1M7 41.5h1M10 41.5h1M14 41.5h1M19 41.5h1M33 41.5h2M58 41.5h1M72 41.5h1M74 41.5h1M84 41.5h1M88 41.5h1M29 42.5h1M83 42.5h1M90 42.5h1M20 43.5h1M32 43.5h1M34 44.5h1M50 44.5h1M68 44.5h1M64 45.5h1M35 47.5h1M44 47.5h1M82 47.5h1M3 48.5h1M19 48.5h1M33 48.5h1M21 50.5h1M28 50.5h1M59 50.5h1M70 50.5h1M15 51.5h1M13 52.5h1M25 52.5h1M43 52.5h1M71 52.5h1M26 53.5h1M30 53.5h1M68 53.5h1M78 53.5h1M12 54.5h1M30 54.5h1M49 54.5h1M51 54.5h1M58 54.5h1M64 54.5h2M69 54.5h1M81 54.5h1M84 54.5h2M19 55.5h1M27 55.5h1M30 55.5h1M52 55.5h1M54 55.5h1M59 55.5h1M74 55.5h1M43 56.5h1M52 56.5h1M76 56.5h1M82 56.5h1M34 57.5h1M14 58.5h1M37 58.5h1M55 58.5h1M70 58.5h1M10 61.5h1M19 61.5h1M36 61.5h1M39 61.5h1M69 61.5h1M85 61.5h1M20 107.5h1M74 107.5h1M57 108.5h1M75 118.5h1M32 122.5h1M14 130.5h1M53 131.5h1M55 139.5h1"/>
<path stroke="#fce7a8" stroke-width="1" d="M62 10.5h1M59 11.5h1M55 13.5h1M0 15.5h1M6 15.5h1M12 15.5h1M31 15.5h1M61 15.5h1M76 15.5h2M81 15.5h1M88 15.5h1M42 18.5h1M50 18.5h1M83 18.5h1M5 21.5h1M12 21.5h1M39 21.5h1M42 21.5h1M49 21.5h1M61 21.5h1M67 21.5h1M35 22.5h1M63 22.5h1M68 22.5h1M88 22.5h1M9 23.5h2M19 23.5h1M35 23.5h1M44 23.5h1M69 23.5h1M77 23.5h2M88 23.5h1M25 24.5h1M38 24.5h1M76 24.5h2M3 25.5h1M13 25.5h1M21 25.5h1M26 25.5h1M29 25.5h1M32 25.5h1M49 25.5h2M61 25.5h1M66 25.5h1M1 26.5h1M22 26.5h1M26 26.5h1M50 26.5h1M53 26.5h1M62 26.5h1M85 26.5h1M12 27.5h1M15 27.5h1M41 27.5h1M64 27.5h1M79 27.5h1M86 27.5h1M1 28.5h1M41 28.5h1M79 28.5h1M1 29.5h1M9 29.5h1M16 29.5h1M48 29.5h1M70 29.5h1M72 29.5h1M78 29.5h2M83 29.5h1M1 30.5h1M15 30.5h1M17 30.5h1M25 30.5h1M31 30.5h1M55 30.5h1M70 30.5h1M40 31.5h1M11 32.5h1M18 32.5h1M33 32.5h1M45 32.5h1M47 32.5h1M51 32.5h1M53 32.5h1M62 32.5h1M70 32.5h1M90 32.5h1M10 33.5h1M21 33.5h1M23 33.5h1M32 33.5h1M35 33.5h1M40 33.5h1M47 33.5h1M55 33.5h1M7 34.5h1M12 34.5h1M16 34.5h1M19 34.5h1M34 34.5h1M48 34.5h1M55 34.5h1M59 34.5h1M68 34.5h1M70 34.5h2M77 34.5h1M88 34.5h1M0 35.5h1M3 35.5h1M12 35.5h1M19 35.5h1M25 35.5h1M38 35.5h1M47 35.5h1M49 35.5h2M53 35.5h1M59 35.5h1M82 35.5h1M9 36.5h1M13 36.5h2M38 36.5h2M45 36.5h1M56 36.5h1M58 36.5h1M68 36.5h1M70 36.5h1M84 36.5h1M86 36.5h1M10 37.5h1M24 37.5h1M36 37.5h2M48 37.5h2M57 37.5h1M74 37.5h1M76 37.5h1M3 38.5h1M5 38.5h1M17 38.5h1M25 38.5h1M28 38.5h1M31 38.5h1M36 38.5h1M57 38.5h1M64 38.5h1M81 38.5h1M2 41.5h2M5 41.5h1M9 41.5h1M38 41.5h1M77 41.5h1M89 41.5h1M1 42.5h1M5 42.5h2M14 42.5h1M16 42.5h1M40 42.5h1M54 42.5h2M59 42.5h2M62 42.5h1M74 42.5h1M0 43.5h1M3 43.5h1M14 43.5h1M16 43.5h1M21 43.5h1M26 43.5h2M35 43.5h2M45 43.5h1M47 43.5h1M51 43.5h1M68 43.5h1M72 43.5h2M86 43.5h1M41 44.5h1M7 45.5h1M9 45.5h1M32 45.5h1M20 47.5h1M1 48.5h1M44 48.5h1M0 52.5h1M75 52.5h1M77 52.5h1M14 53.5h1M0 54.5h1M3 54.5h1M11 54.5h1M32 54.5h1M42 54.5h1M4 55.5h1M55 55.5h1M3 56.5h1M33 58.5h1M9 59.5h1M84 59.5h1M46 60.5h1M82 60.5h1M64 85.5h1M0 107.5h1M55 107.5h1M24 108.5h1M85 115.5h1M55 130.5h1"/>
<path stroke="#fceeaf" stroke-width="1" d="M63 10.5h1M19 17.5h1M4 21.5h1M14 21.5h1M19 21.5h1M25 21.5h1M33 21.5h1M38 21.5h1M51 21.5h1M58 21.5h1M65 21.5h1M74 21.5h1M85 21.5h1M2 22.5h1M34 22.5h1M77 22.5h1M6 23.5h1M14 23.5h1M20 23.5h1M25 23.5h1M38 23.5h1M41 23.5h1M65 23.5h1M8 24.5h1M12 24.5h1M18 24.5h1M21 24.5h1M42 24.5h2M64 24.5h1M37 25.5h1M41 25.5h1M52 25.5h1M63 25.5h1M82 25.5h1M38 26.5h1M43 26.5h1M55 26.5h1M75 26.5h1M86 26.5h1M0 27.5h1M39 27.5h1M65 27.5h1M85 27.5h1M0 28.5h1M37 28.5h1M40 28.5h1M53 28.5h1M68 28.5h1M18 29.5h1M22 29.5h1M32 29.5h1M36 29.5h1M38 29.5h1M40 29.5h1M43 29.5h1M52 29.5h1M4 30.5h2M45 30.5h1M79 30.5h1M14 32.5h1M38 32.5h1M43 32.5h1M59 32.5h1M74 32.5h1M76 32.5h1M3 33.5h1M20 33.5h1M34 33.5h1M38 33.5h1M49 33.5h1M53 33.5h1M57 33.5h1M59 33.5h1M63 33.5h1M74 33.5h2M77 33.5h1M8 35.5h1M26 35.5h1M52 35.5h1M54 35.5h1M74 35.5h1M83 35.5h1M15 36.5h1M17 36.5h1M23 36.5h1M31 36.5h1M51 36.5h1M55 36.5h1M1 37.5h1M8 37.5h1M13 37.5h1M17 37.5h1M20 37.5h1M28 37.5h1M32 37.5h1M65 37.5h1M80 37.5h2M87 37.5h1M18 38.5h1M27 38.5h1M40 38.5h1M0 39.5h1M8 39.5h1M21 39.5h1M35 39.5h1M81 39.5h1M84 39.5h1M3 40.5h1M25 40.5h1M32 40.5h1M73 40.5h1M76 40.5h1M16 41.5h1M22 41.5h1M37 41.5h1M43 41.5h1M51 41.5h1M53 41.5h1M57 41.5h1M78 41.5h1M21 42.5h1M47 42.5h1M65 42.5h1M73 42.5h1M85 42.5h2M29 43.5h1M42 43.5h1M62 43.5h1M88 43.5h1M39 44.5h1M51 44.5h1M19 45.5h1M26 45.5h1M47 45.5h1M54 45.5h1M59 45.5h1M55 47.5h1M59 47.5h1M74 47.5h1M14 48.5h1M18 48.5h1M27 48.5h1M74 48.5h1M59 49.5h1M22 52.5h1M45 52.5h1M38 54.5h3M59 54.5h1M21 55.5h1M31 55.5h1M15 56.5h1M19 56.5h1M27 56.5h1M30 56.5h1M70 56.5h1M25 57.5h1M3 58.5h1M48 58.5h1M67 58.5h1M30 59.5h1M25 60.5h1M45 60.5h1M63 60.5h1M87 60.5h1M2 61.5h1M15 61.5h1M17 61.5h1M35 61.5h1M41 61.5h1M44 61.5h1M68 61.5h1M71 61.5h1M80 61.5h1M72 107.5h1M9 131.5h1M72 132.5h1"/>
<path stroke="#fce09a" stroke-width="1" d="M9 12.5h1M78 20.5h1M87 22.5h1M40 23.5h1M68 25.5h1M9 28.5h1M30 34.5h1M74 34.5h1M45 37.5h1M61 37.5h1M30 40.5h1M24 41.5h1M10 54.5h1M22 61.5h1M65 61.5h1"/>
<path stroke="#fcf5b6" stroke-width="1" d="M63 12.5h1M46 15.5h1M7 21.5h1M22 21.5h1M28 21.5h1M30 21.5h1M35 21.5h1M40 21.5h1M45 21.5h2M53 21.5h1M57 21.5h1M62 21.5h1M66 21.5h1M69 21.5h2M73 21.5h1M75 21.5h4M84 21.5h1M7 22.5h1M51 22.5h1M14 24.5h2M28 24.5h1M36 24.5h1M58 24.5h1M61 24.5h1M84 24.5h1M90 26.5h1M16 27.5h1M45 27.5h1M60 27.5h1M68 27.5h1M0 30.5h1M3 30.5h1M9 30.5h1M11 30.5h2M26 30.5h1M28 30.5h1M39 30.5h1M41 30.5h1M43 30.5h1M49 30.5h1M54 30.5h1M58 30.5h1M60 30.5h1M71 30.5h1M74 30.5h1M90 30.5h1M0 31.5h1M4 31.5h1M15 31.5h1M20 31.5h1M27 31.5h1M36 31.5h1M49 31.5h1M53 31.5h1M56 31.5h1M59 31.5h1M84 31.5h1M0 33.5h1M6 33.5h1M9 33.5h1M17 33.5h1M25 33.5h2M37 33.5h1M39 33.5h1M46 33.5h1M48 33.5h1M54 33.5h1M65 33.5h1M72 33.5h1M76 33.5h1M88 33.5h1M1 34.5h1M5 34.5h1M20 34.5h1M32 34.5h2M41 34.5h1M49 34.5h1M76 34.5h1M79 34.5h2M6 35.5h1M11 35.5h1M14 35.5h1M16 35.5h3M21 35.5h1M34 35.5h1M41 35.5h1M44 35.5h1M46 35.5h1M62 35.5h1M64 35.5h1M84 35.5h1M89 35.5h1M1 38.5h1M10 38.5h2M33 38.5h1M41 38.5h1M55 38.5h1M73 38.5h1M7 39.5h1M11 39.5h3M20 39.5h1M22 39.5h1M49 39.5h1M51 39.5h1M61 39.5h1M66 39.5h1M73 39.5h1M75 39.5h1M1 40.5h1M13 40.5h1M26 40.5h1M46 40.5h1M18 41.5h1M20 41.5h2M26 41.5h1M28 41.5h2M41 41.5h1M45 41.5h1M54 41.5h1M63 41.5h1M66 41.5h1M68 41.5h1M73 41.5h1M76 41.5h1M79 41.5h2M87 41.5h1M36 42.5h1M43 42.5h1M46 42.5h1M51 42.5h1M1 43.5h1M11 43.5h1M31 43.5h1M38 43.5h1M46 43.5h1M77 43.5h1M79 43.5h1M4 44.5h1M12 44.5h3M18 44.5h1M35 44.5h1M40 44.5h1M43 44.5h1M45 44.5h2M49 44.5h1M52 44.5h2M55 44.5h1M58 44.5h1M66 44.5h1M70 44.5h2M82 44.5h1M87 44.5h1M6 45.5h1M10 45.5h2M15 45.5h1M17 45.5h2M20 45.5h1M23 45.5h3M27 45.5h3M34 45.5h1M39 45.5h1M43 45.5h1M45 45.5h1M48 45.5h1M50 45.5h1M60 45.5h1M62 45.5h1M67 45.5h1M69 45.5h1M76 45.5h1M78 45.5h1M82 45.5h1M85 45.5h1M87 45.5h1M90 45.5h1M8 46.5h1M28 46.5h1M43 46.5h1M48 46.5h1M3 47.5h1M5 47.5h1M7 47.5h2M12 47.5h1M14 47.5h1M17 47.5h1M19 47.5h1M28 47.5h2M37 47.5h2M42 47.5h1M45 47.5h2M49 47.5h2M53 47.5h1M65 47.5h2M68 47.5h1M70 47.5h1M72 47.5h1M76 47.5h1M78 47.5h1M84 47.5h2M87 47.5h1M10 48.5h1M22 48.5h1M24 48.5h1M26 48.5h1M28 48.5h1M34 48.5h1M39 48.5h1M50 48.5h2M64 48.5h1M67 48.5h1M78 48.5h1M82 48.5h1M22 49.5h1M78 49.5h1M82 49.5h1M22 50.5h1M51 50.5h1M53 50.5h1M64 50.5h1M69 50.5h1M71 50.5h1M79 50.5h1M0 51.5h1M2 51.5h1M18 51.5h1M29 51.5h1M32 51.5h1M39 51.5h1M63 51.5h1M74 51.5h1M90 51.5h1M1 52.5h2M9 52.5h1M29 52.5h2M39 52.5h1M42 52.5h1M44 52.5h1M65 52.5h1M67 52.5h1M72 52.5h1M78 52.5h1M87 52.5h1M4 53.5h1M25 53.5h1M32 53.5h1M34 53.5h1M40 53.5h2M59 53.5h2M69 53.5h1M14 54.5h2M17 54.5h1M19 54.5h1M21 54.5h2M26 54.5h1M28 54.5h1M44 54.5h1M46 54.5h2M52 54.5h2M61 54.5h1M66 54.5h3M73 54.5h1M77 54.5h1M80 54.5h1M89 54.5h2M0 55.5h3M5 55.5h3M10 55.5h2M20 55.5h1M23 55.5h1M25 55.5h1M37 55.5h1M43 55.5h1M45 55.5h1M51 55.5h1M53 55.5h1M60 55.5h2M63 55.5h2M68 55.5h1M71 55.5h1M75 55.5h1M77 55.5h1M89 55.5h1M1 56.5h1M4 56.5h1M14 56.5h1M18 56.5h1M23 56.5h1M34 56.5h1M39 56.5h2M54 56.5h1M57 56.5h1M61 56.5h2M71 56.5h2M77 56.5h1M87 56.5h1M13 57.5h1M31 57.5h1M43 57.5h1M51 57.5h2M54 57.5h1M63 57.5h1M2 58.5h1M10 58.5h1M18 58.5h1M32 58.5h1M42 58.5h1M52 58.5h2M58 58.5h1M66 58.5h1M68 58.5h1M72 58.5h1M81 58.5h2M85 58.5h1M87 58.5h1M1 59.5h3M8 59.5h1M10 59.5h1M14 59.5h1M17 59.5h1M23 59.5h1M38 59.5h1M53 59.5h1M59 59.5h1M66 59.5h1M77 59.5h1M1 60.5h1M8 60.5h1M18 60.5h1M28 60.5h2M31 60.5h1M34 60.5h1M37 60.5h1M40 60.5h1M49 60.5h1M51 60.5h1M64 60.5h1M68 60.5h1M72 60.5h1M77 60.5h1M29 61.5h1M34 61.5h1M38 61.5h1M43 61.5h1M48 61.5h1M52 61.5h1M55 61.5h2M62 61.5h3M86 61.5h1M4 83.5h1M34 85.5h1M32 96.5h1M39 96.5h1M44 96.5h1M8 107.5h1M17 107.5h1M45 107.5h1M53 107.5h2M57 107.5h1M65 107.5h2M81 107.5h1M83 107.5h1M3 108.5h2M23 108.5h1M43 108.5h1M69 108.5h1M82 108.5h2M90 108.5h1M26 109.5h1M3 113.5h1M30 114.5h1M7 115.5h1M15 115.5h1M45 116.5h1M33 122.5h1M85 122.5h1M34 123.5h2M1 127.5h1M5 130.5h1M18 130.5h1M25 130.5h1M35 130.5h1M40 130.5h2M53 130.5h1M63 130.5h1M62 131.5h1M68 136.5h1M76 137.5h1M90 138.5h1M24 139.5h1"/>
<path stroke="#fccb93" stroke-width="1" d="M79 12.5h1M73 14.5h1M2 15.5h1M41 15.5h1M13 18.5h1M16 18.5h1M32 23.5h1M29 24.5h1M54 24.5h1M85 24.5h1M84 25.5h1M34 27.5h1M84 28.5h1M60 32.5h1M60 34.5h1M80 36.5h1M63 37.5h1M53 40.5h1M70 41.5h1M32 42.5h1M39 42.5h1M49 43.5h1M87 43.5h1M8 61.5h1M30 61.5h1M84 61.5h1"/>
<path stroke="#f5f5b6" stroke-width="1" d="M64 15.5h1M3 23.5h1M54 23.5h1M60 23.5h1M81 23.5h1M51 24.5h1M10 25.5h1M18 25.5h1M23 25.5h2M31 25.5h1M34 25.5h1M38 25.5h1M43 25.5h1M45 25.5h1M47 25.5h1M62 25.5h1M78 25.5h1M80 25.5h1M90 25.5h1M31 26.5h1M35 26.5h1M60 26.5h1M7 27.5h1M15 28.5h2M20 28.5h1M33 28.5h1M35 28.5h1M42 28.5h1M51 28.5h1M54 28.5h1M61 28.5h2M72 28.5h1M80 28.5h1M7 29.5h1M12 29.5h1M19 29.5h1M21 29.5h1M28 29.5h1M33 29.5h1M35 29.5h1M41 29.5h1M44 29.5h1M61 29.5h1M63 29.5h1M65 29.5h1M69 29.5h1M74 29.5h1M77 29.5h1M82 29.5h1M88 29.5h1M1 32.5h4M17 32.5h1M21 32.5h1M34 32.5h1M46 32.5h1M55 32.5h1M64 32.5h1M68 32.5h1M75 32.5h1M84 32.5h1M89 32.5h1M36 34.5h1M67 34.5h1M73 34.5h1M3 36.5h2M12 36.5h1M20 36.5h1M26 36.5h1M29 36.5h2M34 36.5h1M43 36.5h1M47 36.5h1M52 36.5h1M61 36.5h1M69 36.5h1M72 36.5h2M75 36.5h1M88 36.5h1M2 37.5h1M7 37.5h1M15 37.5h2M22 37.5h1M26 37.5h1M29 37.5h1M34 37.5h1M44 37.5h1M72 37.5h1M79 37.5h1M82 37.5h2M85 37.5h1M14 39.5h1M16 39.5h1M23 39.5h1M29 39.5h1M33 39.5h1M38 39.5h1M41 39.5h1M77 39.5h1M89 39.5h1M10 40.5h1M52 40.5h1M79 42.5h2M88 42.5h1M18 43.5h1M57 43.5h1M2 46.5h2M5 46.5h1M11 46.5h1M15 46.5h1M17 46.5h3M21 46.5h1M24 46.5h2M27 46.5h1M30 46.5h1M34 46.5h1M37 46.5h1M39 46.5h1M41 46.5h2M45 46.5h2M53 46.5h1M57 46.5h1M61 46.5h1M66 46.5h1M68 46.5h1M76 46.5h1M83 46.5h1M87 46.5h3M3 51.5h2M8 51.5h1M11 51.5h4M20 51.5h3M34 51.5h1M42 51.5h1M46 51.5h2M55 51.5h1M59 51.5h1M61 51.5h2M64 51.5h2M67 51.5h1M72 51.5h1M77 51.5h1M81 51.5h2M87 51.5h1M0 59.5h1M6 59.5h1M11 59.5h1M16 59.5h1M19 59.5h1M21 59.5h2M25 59.5h2M31 59.5h3M39 59.5h1M56 59.5h1M58 59.5h1M60 59.5h2M71 59.5h2M75 59.5h2M79 59.5h1M81 59.5h1M90 59.5h1M26 61.5h2M49 61.5h1M51 61.5h1M54 61.5h1M75 61.5h1M77 61.5h1M79 61.5h1M89 61.5h1M6 85.5h1M10 85.5h1M47 85.5h1M81 85.5h1M10 86.5h1M45 88.5h1M8 89.5h1M18 89.5h1M39 89.5h1M82 89.5h1M3 91.5h1M49 91.5h1M4 96.5h1M28 96.5h1M79 96.5h1M7 108.5h1M11 108.5h1M15 108.5h1M27 108.5h1M41 108.5h1M63 108.5h1M65 108.5h1M35 109.5h1M41 109.5h2M44 109.5h1M57 109.5h1M77 109.5h1M82 109.5h1M87 111.5h1M8 112.5h1M21 113.5h1M30 113.5h1M39 113.5h2M44 113.5h1M47 113.5h1M49 113.5h1M63 113.5h1M69 113.5h1M82 113.5h1M85 113.5h1M87 113.5h1M87 114.5h1M10 116.5h1M82 116.5h1M87 116.5h1M89 116.5h1M3 117.5h1M0 119.5h1M20 120.5h1M4 121.5h1M76 121.5h1M78 121.5h1M8 122.5h1M14 122.5h1M23 122.5h2M47 122.5h1M72 122.5h1M77 122.5h1M87 122.5h1M10 123.5h1M13 123.5h1M17 123.5h1M41 123.5h2M52 123.5h1M56 123.5h1M67 123.5h3M18 124.5h1M41 124.5h1M45 124.5h2M57 124.5h1M8 125.5h1M55 125.5h1M66 125.5h1M14 126.5h1M39 126.5h1M54 127.5h1M61 127.5h1M32 129.5h1M45 129.5h1M60 129.5h1M63 129.5h1M0 130.5h1M15 130.5h2M27 130.5h3M47 130.5h1M49 130.5h1M64 130.5h1M67 130.5h1M75 130.5h1M79 130.5h1M83 130.5h1M87 130.5h1M38 131.5h2M46 131.5h1M49 131.5h1M65 131.5h1M67 131.5h1M77 131.5h2M66 132.5h1M80 132.5h1M15 133.5h1M20 133.5h1M32 133.5h1M30 134.5h1M33 134.5h1M67 134.5h1M53 135.5h1M3 136.5h1M19 136.5h2M50 136.5h1M77 136.5h1M34 137.5h1M58 137.5h1M61 137.5h2M70 137.5h1M4 138.5h1M17 138.5h1M22 138.5h1M25 138.5h1M33 138.5h2M36 138.5h1M45 138.5h1M60 138.5h1M75 138.5h1M86 138.5h1M37 139.5h1M64 139.5h1M85 139.5h1"/>
<path stroke="#fcf5bd" stroke-width="1" d="M73 15.5h1M79 19.5h1M2 21.5h1M55 21.5h1M68 21.5h1M88 21.5h1M60 22.5h1M27 23.5h1M49 23.5h1M74 23.5h1M85 23.5h2M7 24.5h1M62 24.5h1M80 24.5h1M86 24.5h1M64 25.5h1M73 25.5h1M83 25.5h1M31 27.5h1M61 27.5h1M12 28.5h1M31 28.5h1M44 28.5h1M60 28.5h1M4 29.5h1M51 29.5h1M67 29.5h1M71 29.5h1M89 29.5h2M18 30.5h1M56 30.5h1M73 30.5h1M30 31.5h1M61 31.5h1M74 31.5h1M23 32.5h1M27 32.5h1M40 32.5h1M71 32.5h1M43 33.5h1M84 33.5h1M86 33.5h1M90 33.5h1M28 35.5h1M8 36.5h1M25 37.5h1M33 37.5h1M41 37.5h1M46 37.5h1M58 37.5h1M75 37.5h1M25 39.5h1M52 39.5h1M74 40.5h1M25 42.5h1M56 42.5h1M15 43.5h1M64 43.5h1M75 43.5h1M17 44.5h1M27 44.5h1M78 44.5h1M16 45.5h1M44 45.5h1M53 45.5h1M31 46.5h2M11 47.5h1M32 47.5h1M47 47.5h2M58 47.5h1M62 47.5h1M29 48.5h1M52 50.5h1M25 51.5h1M23 54.5h1M43 54.5h1M60 54.5h1M8 55.5h1M17 55.5h1M84 55.5h1M5 56.5h1M9 56.5h1M20 56.5h1M37 56.5h1M66 56.5h1M69 56.5h1M84 56.5h1M56 57.5h1M5 58.5h1M30 58.5h1M87 59.5h1M5 60.5h1M53 60.5h1M84 60.5h1M28 61.5h1M37 61.5h1M40 61.5h1M42 61.5h1M61 61.5h1M76 61.5h1M87 61.5h1M39 108.5h1M30 110.5h1M28 113.5h1M25 118.5h1M32 121.5h1M72 123.5h1M78 123.5h1M9 130.5h1M37 130.5h1M46 130.5h1M74 130.5h1M43 134.5h1M89 139.5h1"/>
<path stroke="#fce7af" stroke-width="1" d="M13 21.5h1M48 21.5h1M34 23.5h1M73 24.5h1M2 25.5h1M60 25.5h1M85 25.5h1M12 26.5h1M84 26.5h1M21 27.5h2M30 28.5h1M43 28.5h1M46 28.5h1M70 28.5h1M82 28.5h1M88 28.5h1M90 28.5h1M24 29.5h1M34 29.5h1M13 30.5h1M76 30.5h1M39 31.5h1M48 32.5h1M52 32.5h1M5 33.5h1M73 33.5h1M23 34.5h1M42 34.5h1M57 34.5h1M13 35.5h1M15 35.5h1M67 36.5h1M76 36.5h1M43 37.5h1M70 37.5h1M19 38.5h1M21 38.5h1M47 38.5h1M27 39.5h2M36 39.5h1M59 39.5h1M80 39.5h1M12 40.5h1M31 41.5h1M75 41.5h1M13 42.5h1M20 42.5h1M27 42.5h1M53 42.5h1M6 43.5h1M50 43.5h1M59 43.5h1M66 43.5h1M22 45.5h1M70 45.5h1M64 46.5h1M40 47.5h1M35 48.5h1M78 50.5h1M32 55.5h1M78 55.5h1M0 56.5h1M46 61.5h1M83 61.5h1M56 96.5h1M39 107.5h1M2 117.5h1M76 123.5h1M28 125.5h1M31 130.5h1M25 133.5h1"/>
<path stroke="#f5f5af" stroke-width="1" d="M21 21.5h1M73 23.5h1M75 24.5h1M88 25.5h1M5 28.5h1M81 28.5h1M52 30.5h1M62 30.5h1M65 30.5h1M75 30.5h1M72 31.5h1M72 32.5h1M60 35.5h1M65 35.5h1M48 41.5h1M82 41.5h1M12 43.5h1M42 44.5h1M1 46.5h1M14 46.5h1M82 46.5h1M4 47.5h1M79 47.5h1M76 48.5h1M14 50.5h1M86 50.5h1M52 52.5h1M74 52.5h1M24 53.5h1M13 55.5h1M29 55.5h1M23 57.5h1M50 57.5h1M81 57.5h1M7 58.5h1M12 58.5h1M86 58.5h1M4 91.5h1M40 96.5h1M21 107.5h1M79 107.5h1M88 107.5h1M21 108.5h1M53 108.5h1M38 109.5h1M29 115.5h1M46 128.5h1M30 130.5h1M3 132.5h1M6 133.5h1M34 133.5h1M71 134.5h1M44 136.5h1M71 137.5h1"/>
<path stroke="#eef5af" stroke-width="1" d="M47 21.5h1M50 21.5h1M5 22.5h1M12 23.5h1M53 25.5h1M69 25.5h1M79 25.5h1M5 29.5h1M56 29.5h2M59 29.5h1M73 29.5h1M76 29.5h1M84 29.5h1M86 29.5h1M2 30.5h1M6 30.5h1M10 30.5h1M50 30.5h2M77 30.5h1M80 30.5h1M86 30.5h1M88 30.5h1M1 31.5h1M5 31.5h2M14 31.5h1M22 31.5h1M29 31.5h1M31 31.5h1M34 31.5h1M38 31.5h1M44 31.5h1M51 31.5h2M60 31.5h1M68 31.5h1M70 31.5h1M73 31.5h1M75 31.5h2M82 31.5h2M85 31.5h1M90 31.5h1M7 32.5h1M16 32.5h1M31 32.5h1M79 32.5h2M2 33.5h1M7 33.5h1M13 33.5h2M19 33.5h1M27 33.5h1M61 33.5h1M18 34.5h1M44 34.5h1M20 35.5h1M27 35.5h1M67 35.5h1M72 35.5h1M85 35.5h1M2 36.5h1M21 36.5h2M50 36.5h1M54 36.5h1M79 36.5h1M30 37.5h1M52 37.5h1M55 37.5h1M86 37.5h1M6 41.5h1M35 41.5h2M52 41.5h1M83 41.5h1M86 41.5h1M0 44.5h1M2 44.5h1M7 44.5h1M11 44.5h1M24 44.5h1M36 44.5h1M38 44.5h1M44 44.5h1M54 44.5h1M63 44.5h1M65 44.5h1M67 44.5h1M69 44.5h1M72 44.5h1M83 44.5h2M88 44.5h1M8 45.5h1M12 45.5h2M21 45.5h1M46 45.5h1M61 45.5h1M63 45.5h1M73 45.5h2M2 47.5h1M6 47.5h1M27 47.5h1M30 47.5h1M36 47.5h1M60 47.5h2M64 47.5h1M71 47.5h1M89 47.5h1M21 48.5h1M32 48.5h1M38 48.5h1M41 48.5h1M43 48.5h1M53 48.5h2M57 48.5h1M61 48.5h1M63 48.5h1M65 48.5h1M75 48.5h1M79 48.5h1M83 48.5h1M10 49.5h4M17 49.5h4M23 49.5h1M25 49.5h1M30 49.5h2M35 49.5h1M40 49.5h2M43 49.5h1M46 49.5h2M49 49.5h1M53 49.5h1M55 49.5h1M60 49.5h4M70 49.5h2M73 49.5h1M76 49.5h1M87 49.5h1M89 49.5h1M9 50.5h4M16 50.5h3M20 50.5h1M27 50.5h1M31 50.5h1M35 50.5h3M40 50.5h1M42 50.5h1M49 50.5h1M57 50.5h2M60 50.5h1M74 50.5h1M77 50.5h1M83 50.5h1M85 50.5h1M89 50.5h1M5 52.5h1M7 52.5h1M12 52.5h1M16 52.5h1M40 52.5h1M49 52.5h1M53 52.5h1M60 52.5h1M62 52.5h1M64 52.5h1M73 52.5h1M79 52.5h1M81 52.5h1M83 52.5h1M85 52.5h2M88 52.5h2M0 53.5h1M2 53.5h1M5 53.5h1M7 53.5h1M10 53.5h2M13 53.5h1M17 53.5h1M19 53.5h2M22 53.5h1M44 53.5h1M46 53.5h1M51 53.5h2M57 53.5h2M67 53.5h1M70 53.5h1M72 53.5h2M75 53.5h1M79 53.5h1M81 53.5h1M84 53.5h3M88 53.5h2M1 54.5h1M13 54.5h1M36 54.5h1M41 54.5h1M45 54.5h1M48 54.5h1M62 54.5h1M78 54.5h1M12 55.5h1M16 55.5h1M35 55.5h1M38 55.5h1M40 55.5h1M47 55.5h1M57 55.5h1M62 55.5h1M72 55.5h1M76 55.5h1M80 55.5h1M86 55.5h2M11 56.5h1M16 56.5h1M29 56.5h1M31 56.5h1M36 56.5h1M41 56.5h1M44 56.5h1M48 56.5h1M55 56.5h1M68 56.5h1M73 56.5h1M78 56.5h1M83 56.5h1M85 56.5h1M11 57.5h2M14 57.5h1M16 57.5h2M26 57.5h2M32 57.5h2M39 57.5h1M42 57.5h1M44 57.5h1M47 57.5h1M49 57.5h1M53 57.5h1M61 57.5h1M64 57.5h1M68 57.5h3M74 57.5h1M82 57.5h1M0 58.5h1M13 58.5h1M16 58.5h1M24 58.5h3M36 58.5h1M38 58.5h1M43 58.5h1M46 58.5h1M49 58.5h1M62 58.5h1M65 58.5h1M76 58.5h1M83 58.5h1M0 60.5h1M3 60.5h1M6 60.5h1M9 60.5h2M13 60.5h2M21 60.5h1M23 60.5h2M26 60.5h2M30 60.5h1M32 60.5h1M38 60.5h2M42 60.5h1M44 60.5h1M48 60.5h1M55 60.5h1M69 60.5h1M76 60.5h1M79 60.5h1M90 60.5h1M52 83.5h1M69 83.5h1M86 84.5h1M1 85.5h1M13 85.5h2M17 85.5h1M66 85.5h1M90 85.5h1M13 86.5h1M21 86.5h1M24 86.5h1M63 86.5h1M82 86.5h1M0 88.5h1M15 88.5h1M28 88.5h1M31 88.5h1M62 88.5h1M11 89.5h1M30 89.5h1M37 89.5h1M42 89.5h1M71 89.5h1M77 89.5h1M2 91.5h1M11 91.5h1M53 91.5h1M6 96.5h1M17 96.5h2M23 96.5h1M34 96.5h1M55 96.5h1M63 96.5h1M66 96.5h1M70 96.5h1M76 96.5h1M86 96.5h1M13 106.5h1M6 107.5h1M10 107.5h1M12 107.5h2M16 107.5h1M24 107.5h2M30 107.5h2M40 107.5h1M43 107.5h1M51 107.5h1M63 107.5h1M80 107.5h1M5 109.5h1M25 109.5h1M28 109.5h1M50 109.5h1M55 109.5h1M58 109.5h1M61 109.5h1M66 109.5h1M69 109.5h1M71 109.5h1M45 111.5h1M82 111.5h1M38 112.5h1M42 112.5h1M65 112.5h1M85 112.5h1M6 113.5h4M34 113.5h1M59 113.5h1M66 113.5h1M72 113.5h1M76 113.5h1M9 114.5h1M24 114.5h1M27 114.5h1M34 114.5h2M51 114.5h1M54 114.5h2M79 114.5h1M89 114.5h1M5 115.5h1M13 115.5h1M30 115.5h1M34 115.5h1M48 115.5h1M50 115.5h1M54 115.5h1M67 115.5h1M87 115.5h1M8 116.5h1M24 116.5h1M51 116.5h1M77 116.5h1M86 116.5h1M31 117.5h1M53 117.5h1M4 118.5h1M6 118.5h1M22 118.5h1M52 118.5h1M59 118.5h1M1 119.5h1M10 119.5h1M23 119.5h1M42 119.5h1M59 119.5h1M4 120.5h1M56 120.5h1M82 120.5h1M0 121.5h1M28 121.5h1M53 121.5h1M63 121.5h1M87 121.5h1M0 122.5h1M5 122.5h1M9 122.5h2M15 122.5h1M17 122.5h1M31 122.5h1M55 122.5h1M59 122.5h1M65 122.5h1M90 122.5h1M0 123.5h1M4 123.5h1M22 123.5h1M27 123.5h2M32 123.5h1M46 123.5h1M71 123.5h1M73 123.5h1M80 123.5h2M86 123.5h1M25 124.5h1M31 124.5h1M58 124.5h1M15 125.5h1M50 125.5h1M53 125.5h1M71 125.5h1M90 125.5h1M15 128.5h1M30 128.5h1M74 128.5h1M0 129.5h1M4 129.5h1M10 129.5h1M17 129.5h1M21 129.5h1M24 129.5h1M35 129.5h1M38 129.5h2M55 129.5h1M71 129.5h1M83 129.5h1M89 129.5h1M3 131.5h1M21 131.5h1M25 131.5h1M31 131.5h1M52 131.5h1M55 131.5h1M69 131.5h1M88 131.5h1M23 132.5h1M28 132.5h1M45 132.5h1M0 133.5h1M9 133.5h1M16 133.5h1M23 133.5h1M29 133.5h1M31 133.5h1M44 133.5h1M57 133.5h1M82 133.5h1M85 133.5h1M4 134.5h2M7 134.5h1M21 134.5h2M32 134.5h1M40 134.5h1M42 134.5h1M44 134.5h1M64 134.5h1M66 134.5h1M68 134.5h1M76 134.5h1M79 134.5h1M18 135.5h1M35 135.5h1M51 135.5h1M59 135.5h1M65 135.5h1M1 136.5h1M9 136.5h1M31 136.5h1M55 136.5h1M60 136.5h1M72 136.5h1M74 136.5h1M43 137.5h1M63 137.5h1M77 137.5h1M80 137.5h1M11 139.5h1M17 139.5h1M29 139.5h2M42 139.5h1M47 139.5h1M52 139.5h1M68 139.5h1M71 139.5h1M84 139.5h1M86 139.5h1M90 139.5h1"/>
<path stroke="#e0eea8" stroke-width="1" d="M89 21.5h1M31 29.5h1M36 30.5h1M42 30.5h1M48 30.5h1M12 31.5h1M18 31.5h1M80 31.5h1M42 33.5h1M5 35.5h1M13 46.5h1M16 47.5h1M57 47.5h1M16 48.5h1M72 48.5h1M88 48.5h1M21 49.5h1M67 50.5h1M88 50.5h1M7 51.5h1M56 51.5h1M68 51.5h1M76 51.5h1M88 51.5h1M8 53.5h1M42 53.5h1M48 53.5h1M61 53.5h1M74 54.5h1M50 56.5h1M20 57.5h1M36 57.5h1M67 57.5h1M76 57.5h1M78 57.5h1M80 57.5h1M44 58.5h1M77 58.5h1M29 59.5h1M54 59.5h1M65 59.5h1M89 59.5h1M20 60.5h1M41 60.5h1M74 60.5h1M44 70.5h1M5 83.5h1M19 83.5h1M23 83.5h1M39 83.5h1M50 83.5h1M55 83.5h1M71 83.5h1M77 83.5h1M90 83.5h1M8 84.5h1M31 84.5h1M34 84.5h1M40 84.5h1M46 84.5h2M55 84.5h1M69 84.5h2M7 85.5h1M11 85.5h1M28 85.5h1M36 85.5h2M45 85.5h1M56 85.5h1M60 85.5h1M67 85.5h1M82 85.5h1M88 85.5h1M15 86.5h2M33 86.5h1M42 86.5h1M44 86.5h1M52 86.5h2M60 86.5h1M71 86.5h2M79 86.5h1M90 86.5h1M6 88.5h2M24 88.5h1M30 88.5h1M40 88.5h1M42 88.5h1M47 88.5h1M51 88.5h1M59 88.5h1M66 88.5h1M71 88.5h1M73 88.5h1M14 91.5h1M17 91.5h1M24 91.5h1M35 91.5h1M40 91.5h1M48 91.5h1M71 91.5h2M81 91.5h1M84 92.5h1M5 93.5h2M37 93.5h1M84 93.5h1M86 93.5h1M15 94.5h1M52 94.5h1M67 94.5h1M78 94.5h1M6 95.5h1M47 95.5h1M2 98.5h1M7 99.5h1M65 99.5h1M31 102.5h1M8 106.5h1M19 106.5h1M29 106.5h1M44 106.5h1M56 106.5h1M79 106.5h1M87 106.5h1M90 106.5h1M18 107.5h2M26 107.5h1M49 107.5h1M58 107.5h2M76 107.5h3M86 107.5h1M89 107.5h1M8 108.5h1M10 108.5h1M17 108.5h1M31 108.5h1M33 108.5h1M46 108.5h1M49 108.5h1M71 108.5h1M75 108.5h1M14 110.5h2M20 111.5h1M40 111.5h1M62 111.5h1M69 111.5h1M71 111.5h1M90 111.5h1M16 112.5h1M23 112.5h1M28 112.5h1M34 112.5h1M47 112.5h1M76 112.5h1M80 112.5h1M20 113.5h1M24 113.5h3M41 113.5h2M60 113.5h1M75 113.5h1M90 113.5h1M5 114.5h1M28 114.5h1M31 114.5h1M40 114.5h2M57 114.5h1M59 114.5h1M65 114.5h1M67 114.5h1M75 114.5h2M78 114.5h1M16 115.5h1M25 115.5h2M41 115.5h1M52 115.5h1M60 115.5h1M62 115.5h1M76 115.5h1M89 115.5h1M0 116.5h1M4 116.5h1M11 116.5h3M26 116.5h1M28 116.5h1M31 116.5h2M49 116.5h1M69 116.5h1M78 116.5h1M19 117.5h1M29 117.5h1M32 117.5h1M43 117.5h1M51 117.5h1M57 117.5h1M3 118.5h1M15 118.5h1M39 118.5h1M46 118.5h1M53 118.5h1M61 118.5h1M72 118.5h2M80 118.5h1M8 119.5h1M20 119.5h1M53 119.5h1M60 119.5h1M68 119.5h1M71 119.5h1M89 119.5h1M17 120.5h1M26 120.5h1M41 120.5h2M45 120.5h1M47 120.5h2M51 120.5h1M55 120.5h1M59 120.5h1M78 120.5h1M85 120.5h1M5 125.5h2M24 125.5h1M33 125.5h1M44 125.5h1M52 125.5h1M61 125.5h1M63 125.5h1M70 125.5h1M87 125.5h1M0 126.5h1M11 126.5h2M15 126.5h1M53 126.5h1M55 126.5h1M76 126.5h1M14 127.5h1M22 127.5h1M35 127.5h1M70 127.5h1M3 128.5h1M21 128.5h1M35 128.5h1M37 128.5h1M39 128.5h1M48 128.5h1M63 128.5h1M80 128.5h2M1 130.5h1M4 130.5h1M11 130.5h1M23 130.5h1M33 130.5h1M39 130.5h1M45 130.5h1M52 130.5h1M57 130.5h1M88 130.5h1M2 132.5h1M59 132.5h1M21 135.5h1M25 135.5h1M32 135.5h1M39 135.5h1M47 135.5h1M56 135.5h1M61 135.5h1M75 135.5h2M87 135.5h1M4 137.5h1M7 137.5h1M13 137.5h1M27 137.5h2M30 137.5h2M33 137.5h1M38 137.5h2M54 137.5h1M59 137.5h1M66 137.5h1M69 137.5h1M0 138.5h1M12 138.5h1M14 138.5h1M26 138.5h1M29 138.5h1M42 138.5h1M49 138.5h1M52 138.5h1M58 138.5h1M65 138.5h3M69 138.5h1M88 138.5h1"/>
<path stroke="#e7eea8" stroke-width="1" d="M51 23.5h1M59 24.5h1M54 25.5h1M19 30.5h1M23 30.5h1M38 30.5h1M57 30.5h1M37 31.5h1M50 31.5h1M36 32.5h1M86 32.5h1M81 33.5h1M11 36.5h1M1 44.5h1M16 44.5h1M21 44.5h1M29 44.5h1M74 44.5h1M10 46.5h1M16 46.5h1M22 46.5h1M38 46.5h1M51 46.5h1M58 46.5h1M75 46.5h1M1 47.5h1M43 47.5h1M42 48.5h1M62 48.5h1M73 48.5h1M77 48.5h1M2 49.5h1M6 49.5h1M9 49.5h1M34 49.5h1M39 49.5h1M52 49.5h1M86 49.5h1M0 50.5h2M15 50.5h1M25 50.5h1M29 50.5h2M61 50.5h1M6 51.5h1M19 51.5h1M35 51.5h1M37 51.5h1M44 51.5h1M49 51.5h2M54 51.5h1M57 51.5h1M70 51.5h2M73 51.5h1M36 52.5h1M48 52.5h1M58 52.5h1M80 52.5h1M21 53.5h1M27 53.5h1M49 53.5h1M56 53.5h1M62 53.5h2M65 53.5h1M72 54.5h1M83 54.5h1M69 55.5h1M79 55.5h1M88 55.5h1M17 56.5h1M88 56.5h1M0 57.5h1M2 57.5h1M6 57.5h1M62 57.5h1M84 57.5h1M6 58.5h1M35 58.5h1M64 58.5h1M13 59.5h1M45 59.5h1M51 59.5h2M88 59.5h1M2 60.5h1M7 60.5h1M54 60.5h1M57 60.5h1M71 60.5h1M83 60.5h1M85 60.5h1M88 60.5h1M0 83.5h1M7 83.5h1M31 83.5h1M45 83.5h1M68 83.5h1M72 83.5h1M86 83.5h1M7 84.5h1M29 84.5h1M62 84.5h1M89 84.5h1M3 85.5h2M19 85.5h1M23 85.5h1M32 85.5h1M48 85.5h1M69 85.5h1M9 86.5h1M66 86.5h2M73 86.5h1M3 88.5h2M10 88.5h1M14 88.5h1M37 88.5h1M63 88.5h1M78 88.5h1M28 89.5h1M31 89.5h1M47 89.5h1M56 89.5h1M74 89.5h1M81 89.5h1M69 90.5h1M22 91.5h1M26 91.5h1M34 91.5h1M65 91.5h2M82 91.5h1M17 93.5h1M1 95.5h1M8 96.5h1M14 96.5h1M38 96.5h1M50 96.5h2M75 96.5h1M78 96.5h1M84 96.5h1M89 96.5h1M5 98.5h1M82 98.5h1M2 106.5h1M5 106.5h1M40 106.5h1M61 106.5h1M63 106.5h1M65 106.5h1M75 106.5h1M77 106.5h1M83 106.5h1M32 107.5h2M35 107.5h1M48 107.5h1M67 107.5h1M69 107.5h1M2 108.5h1M16 108.5h1M18 108.5h1M38 108.5h1M50 108.5h1M54 108.5h1M58 108.5h1M86 108.5h1M7 109.5h1M11 109.5h1M19 109.5h1M21 109.5h1M23 109.5h1M39 109.5h1M51 109.5h1M59 109.5h1M63 109.5h1M74 109.5h3M1 110.5h1M72 110.5h1M84 110.5h1M3 111.5h1M65 111.5h1M36 112.5h1M44 112.5h1M62 112.5h1M70 112.5h2M44 114.5h2M52 114.5h1M85 114.5h1M33 115.5h1M49 115.5h1M64 115.5h1M68 115.5h1M2 116.5h2M5 116.5h1M16 116.5h1M23 116.5h1M30 116.5h1M39 116.5h1M48 116.5h1M53 116.5h1M66 116.5h1M80 116.5h1M8 117.5h1M28 117.5h1M40 117.5h1M46 117.5h1M49 117.5h1M55 117.5h1M76 117.5h2M88 117.5h1M9 118.5h1M19 118.5h2M34 118.5h1M56 118.5h1M70 118.5h2M82 118.5h1M86 118.5h1M88 118.5h1M90 118.5h1M14 119.5h1M22 119.5h1M37 119.5h1M58 119.5h1M81 119.5h1M85 119.5h1M1 120.5h1M16 120.5h1M37 120.5h1M23 121.5h1M29 121.5h1M64 121.5h1M77 121.5h1M7 122.5h1M45 122.5h1M81 122.5h1M83 122.5h1M1 123.5h2M19 123.5h1M31 123.5h1M39 123.5h2M43 123.5h1M85 123.5h1M87 123.5h1M51 124.5h1M63 124.5h1M65 124.5h1M77 124.5h1M85 124.5h1M72 125.5h1M23 126.5h1M32 126.5h1M49 126.5h1M54 126.5h1M59 126.5h1M85 126.5h1M12 128.5h1M31 128.5h1M34 128.5h1M41 128.5h1M53 128.5h1M64 128.5h1M86 128.5h1M90 128.5h1M5 129.5h2M11 129.5h1M19 129.5h1M47 129.5h1M51 129.5h1M56 129.5h1M77 129.5h1M81 129.5h1M6 130.5h1M12 130.5h1M19 130.5h2M26 130.5h1M42 130.5h1M51 130.5h1M62 130.5h1M65 130.5h1M6 131.5h2M33 131.5h2M43 131.5h1M47 131.5h1M34 132.5h1M76 132.5h1M83 132.5h1M18 133.5h1M35 133.5h1M54 133.5h1M59 133.5h1M71 133.5h1M87 133.5h2M8 134.5h1M18 134.5h2M23 134.5h1M25 134.5h1M28 134.5h2M48 134.5h1M55 134.5h1M62 134.5h1M65 134.5h1M70 134.5h1M72 134.5h1M78 134.5h1M85 134.5h1M87 134.5h1M4 135.5h1M19 135.5h1M27 135.5h2M38 135.5h1M48 135.5h2M77 135.5h1M81 135.5h1M7 136.5h1M22 136.5h1M28 136.5h1M34 136.5h1M43 136.5h1M52 136.5h1M59 136.5h1M71 136.5h1M85 136.5h1M0 137.5h1M8 137.5h1M11 137.5h1M18 137.5h1M21 137.5h1M45 137.5h1M55 137.5h1M72 137.5h1M5 138.5h2M15 138.5h1M18 138.5h1M27 138.5h1M32 138.5h1M41 138.5h1M56 138.5h1M61 138.5h1M73 138.5h1M84 138.5h1M4 139.5h2M13 139.5h1M18 139.5h1M26 139.5h1M28 139.5h1M35 139.5h2M53 139.5h2M67 139.5h1M70 139.5h1M76 139.5h2M88 139.5h1"/>
<path stroke="#d2e7a1" stroke-width="1" d="M20 25.5h1M89 31.5h1M60 46.5h1M55 48.5h1M90 55.5h1M8 66.5h1M63 68.5h1M19 72.5h1M9 84.5h1M19 84.5h1M23 84.5h1M30 84.5h1M32 84.5h2M56 84.5h1M59 84.5h1M66 84.5h1M71 84.5h1M77 84.5h2M88 84.5h1M38 87.5h1M53 87.5h1M78 87.5h1M3 89.5h1M5 89.5h1M13 89.5h1M20 89.5h3M48 89.5h3M61 89.5h1M75 89.5h1M85 89.5h1M89 89.5h1M15 90.5h1M31 90.5h1M41 90.5h1M46 90.5h2M67 90.5h1M87 90.5h1M25 92.5h1M28 92.5h1M58 92.5h1M8 93.5h1M14 93.5h1M39 93.5h1M51 93.5h1M68 93.5h1M73 93.5h1M75 93.5h2M78 93.5h1M82 93.5h1M0 94.5h1M20 94.5h1M30 94.5h2M51 94.5h1M57 94.5h1M84 94.5h1M87 94.5h1M90 94.5h1M5 95.5h1M60 95.5h1M68 95.5h1M72 95.5h1M87 95.5h1M2 96.5h1M12 96.5h1M26 96.5h1M42 96.5h1M47 96.5h1M49 96.5h1M53 96.5h1M57 96.5h2M72 96.5h1M80 96.5h2M66 97.5h1M24 98.5h1M41 98.5h1M5 99.5h1M31 99.5h1M47 99.5h1M52 99.5h1M77 99.5h1M18 100.5h1M21 100.5h1M63 100.5h1M26 102.5h1M11 107.5h1M14 107.5h1M41 107.5h1M56 107.5h1M73 107.5h1M13 108.5h1M51 108.5h1M55 108.5h1M67 108.5h1M84 108.5h1M2 109.5h1M29 109.5h1M46 109.5h1M56 109.5h1M65 109.5h1M68 109.5h1M70 109.5h1M73 109.5h1M78 109.5h3M2 110.5h1M9 110.5h1M24 110.5h1M27 110.5h1M45 110.5h1M54 110.5h1M58 110.5h1M74 110.5h1M80 110.5h1M30 111.5h1M38 111.5h1M42 111.5h2M48 111.5h1M54 111.5h1M73 111.5h1M83 111.5h1M85 111.5h1M88 111.5h1M3 112.5h1M6 112.5h1M26 112.5h1M39 112.5h2M52 112.5h1M60 112.5h1M68 112.5h1M90 112.5h1M0 113.5h1M17 113.5h1M33 113.5h1M35 113.5h1M53 113.5h1M70 113.5h1M84 113.5h1M14 114.5h1M38 114.5h1M64 114.5h1M70 114.5h1M73 114.5h1M77 114.5h1M81 114.5h2M86 114.5h1M90 114.5h1M2 115.5h1M10 115.5h1M17 115.5h1M19 115.5h1M22 115.5h1M31 115.5h1M39 115.5h1M47 115.5h1M53 115.5h1M72 115.5h1M80 115.5h1M1 116.5h1M27 116.5h1M29 116.5h1M36 116.5h1M52 116.5h1M56 116.5h1M60 116.5h1M67 116.5h1M74 116.5h1M79 116.5h1M7 117.5h1M14 117.5h1M20 117.5h1M50 117.5h1M59 117.5h2M70 117.5h1M80 117.5h1M35 118.5h1M40 118.5h1M47 118.5h1M49 118.5h1M51 118.5h1M66 118.5h1M69 118.5h1M2 119.5h2M5 119.5h1M13 119.5h1M17 119.5h2M25 119.5h1M28 119.5h1M44 119.5h1M46 119.5h1M55 119.5h1M62 119.5h1M65 119.5h1M67 119.5h1M3 121.5h1M12 121.5h1M19 121.5h1M33 121.5h1M35 121.5h1M41 121.5h1M43 121.5h1M45 121.5h1M56 121.5h1M60 121.5h1M71 121.5h1M89 121.5h1M12 122.5h1M21 122.5h2M25 122.5h1M27 122.5h1M29 122.5h2M34 122.5h1M57 122.5h1M61 122.5h1M75 122.5h1M79 122.5h1M82 122.5h1M7 123.5h1M54 123.5h1M63 123.5h1M79 123.5h1M84 123.5h1M1 124.5h1M7 124.5h2M14 124.5h1M21 124.5h1M26 124.5h1M78 124.5h1M81 124.5h3M87 124.5h1M1 126.5h1M7 126.5h2M22 126.5h1M38 126.5h1M43 126.5h1M63 126.5h1M66 126.5h1M69 126.5h1M71 126.5h1M4 127.5h1M39 127.5h1M67 127.5h1M72 127.5h1M78 127.5h1M82 127.5h1M84 127.5h1M22 128.5h2M51 128.5h1M55 128.5h1M57 128.5h1M60 128.5h1M62 128.5h1M85 128.5h1M88 128.5h1M2 129.5h1M12 129.5h1M33 129.5h1M37 129.5h1M41 129.5h1M49 129.5h1M52 129.5h1M57 129.5h1M62 129.5h1M88 129.5h1M50 130.5h1M60 130.5h1M68 130.5h1M15 131.5h1M32 131.5h1M35 131.5h1M37 131.5h1M56 131.5h2M59 131.5h1M66 131.5h1M82 131.5h2M1 132.5h1M18 132.5h1M26 132.5h1M35 132.5h1M44 132.5h1M56 132.5h1M86 132.5h1M2 133.5h1M5 133.5h1M8 133.5h1M13 133.5h1M21 133.5h1M64 133.5h1M78 133.5h1M12 134.5h2M16 134.5h1M51 134.5h1M61 134.5h1M63 134.5h1M69 134.5h1M73 134.5h1M83 134.5h1M2 136.5h1M11 136.5h1M30 136.5h1M37 136.5h1M45 136.5h1M58 136.5h1M61 136.5h1M67 136.5h1M69 136.5h1M79 136.5h2M88 136.5h2M1 138.5h1M13 138.5h1M16 138.5h1M19 138.5h1M39 138.5h1M64 138.5h1M76 138.5h1M78 138.5h1M2 139.5h1M10 139.5h1M12 139.5h1M14 139.5h1M20 139.5h1M22 139.5h1M32 139.5h1M40 139.5h1M43 139.5h1M45 139.5h1M59 139.5h1M66 139.5h1M81 139.5h1"/>
<path stroke="#e7f5af" stroke-width="1" d="M6 29.5h1M14 30.5h1M7 31.5h1M55 31.5h1M86 31.5h1M88 31.5h1M61 32.5h1M66 32.5h1M24 33.5h1M67 33.5h1M80 33.5h1M87 35.5h1M81 41.5h1M61 44.5h1M65 45.5h1M72 45.5h1M9 46.5h1M40 46.5h1M44 46.5h1M65 46.5h1M74 46.5h1M77 46.5h1M24 47.5h2M75 47.5h1M6 48.5h1M12 48.5h1M20 48.5h1M27 49.5h1M50 49.5h1M54 49.5h1M67 49.5h1M84 49.5h1M88 49.5h1M90 49.5h1M33 50.5h1M43 50.5h2M46 50.5h1M48 50.5h1M50 50.5h1M54 50.5h2M68 50.5h1M84 50.5h1M9 51.5h2M58 51.5h1M83 51.5h1M15 52.5h1M20 52.5h1M24 52.5h1M16 53.5h1M35 53.5h2M54 53.5h1M56 56.5h1M83 57.5h1M88 57.5h1M88 58.5h1M36 59.5h1M47 59.5h1M60 60.5h1M34 83.5h1M37 83.5h1M66 83.5h1M58 84.5h1M22 85.5h1M30 85.5h1M33 85.5h1M53 85.5h1M55 85.5h1M77 85.5h1M84 85.5h1M29 86.5h1M74 86.5h1M32 89.5h1M73 89.5h1M34 93.5h1M59 93.5h1M49 95.5h1M31 96.5h1M62 96.5h1M71 96.5h1M55 106.5h1M72 106.5h1M84 106.5h1M2 107.5h1M9 107.5h1M22 107.5h1M38 107.5h1M1 108.5h1M5 108.5h1M12 108.5h1M20 108.5h1M36 108.5h1M61 108.5h1M64 108.5h1M14 109.5h1M17 109.5h1M49 109.5h1M81 109.5h1M86 109.5h1M16 110.5h1M14 112.5h1M25 112.5h1M43 112.5h1M66 112.5h1M73 112.5h1M82 112.5h1M12 113.5h1M18 113.5h1M13 114.5h1M15 114.5h1M11 115.5h1M45 115.5h1M58 115.5h1M73 115.5h1M75 115.5h1M84 115.5h1M90 115.5h1M20 116.5h1M54 116.5h1M38 117.5h1M12 118.5h1M31 118.5h1M82 119.5h1M22 121.5h1M73 121.5h1M11 122.5h1M48 122.5h1M63 122.5h1M11 123.5h2M16 123.5h1M20 123.5h1M60 123.5h1M0 124.5h1M28 124.5h1M26 125.5h1M35 126.5h1M7 128.5h1M32 128.5h1M1 129.5h1M13 129.5h1M29 129.5h1M31 129.5h1M34 129.5h1M8 130.5h1M10 130.5h1M34 130.5h1M5 131.5h1M14 131.5h1M17 131.5h1M61 131.5h1M57 134.5h1M19 137.5h1M23 137.5h1M2 138.5h1M8 138.5h1M24 138.5h1M62 138.5h1M82 138.5h1M0 139.5h1M3 139.5h1M44 139.5h1M48 139.5h1M82 139.5h1"/>
<path stroke="#e7f5a8" stroke-width="1" d="M10 31.5h1M13 31.5h1M24 31.5h1M66 31.5h1M10 35.5h1M20 44.5h1M80 49.5h1M83 49.5h1M2 50.5h1M4 50.5h1M32 50.5h1M75 50.5h1M27 51.5h1M4 52.5h1M68 52.5h1M64 53.5h1M48 55.5h1M13 56.5h1M34 58.5h1M46 59.5h1M70 59.5h1M74 59.5h1M86 59.5h1M11 60.5h1M13 83.5h1M18 85.5h1M1 86.5h1M25 86.5h1M11 96.5h1M22 96.5h1M46 107.5h1M64 107.5h1M25 108.5h1M20 109.5h1M67 109.5h1M67 111.5h1M37 113.5h1M29 114.5h1M55 115.5h1M43 116.5h1M23 118.5h1M19 119.5h1M27 121.5h1M31 121.5h1M40 121.5h1M61 121.5h1M38 122.5h1M50 123.5h1M66 123.5h1M89 123.5h1M67 126.5h1M51 127.5h1M19 128.5h1M7 129.5h1M15 129.5h1M58 130.5h1M71 130.5h1M76 130.5h1M89 130.5h1M87 131.5h1M42 133.5h1M3 134.5h1M15 134.5h1M56 134.5h1M81 134.5h1M13 135.5h1M36 136.5h1M87 136.5h1M37 138.5h1M34 139.5h1M75 139.5h1"/>
<path stroke="#d9eea8" stroke-width="1" d="M2 35.5h1M75 49.5h1M86 51.5h1M29 54.5h1M79 58.5h1M57 59.5h1M6 83.5h1M8 83.5h1M29 83.5h1M78 83.5h1M89 83.5h1M0 84.5h1M18 84.5h1M20 84.5h1M35 85.5h1M58 85.5h1M72 85.5h1M80 85.5h1M6 86.5h1M23 86.5h1M45 86.5h1M70 86.5h1M12 87.5h1M64 87.5h1M43 88.5h1M46 88.5h1M49 88.5h1M54 88.5h1M60 88.5h1M0 89.5h1M10 89.5h1M23 89.5h1M46 89.5h1M90 89.5h1M24 90.5h1M31 91.5h3M19 92.5h1M15 93.5h1M40 93.5h1M81 93.5h1M34 94.5h1M32 95.5h1M56 95.5h1M20 96.5h2M64 96.5h1M85 96.5h1M66 98.5h1M4 100.5h1M37 103.5h1M0 106.5h1M68 106.5h1M80 106.5h1M4 107.5h1M47 107.5h1M52 107.5h1M85 107.5h1M22 108.5h1M47 108.5h1M52 108.5h1M87 108.5h1M0 109.5h1M6 109.5h1M13 109.5h1M16 109.5h1M43 109.5h1M87 109.5h1M89 109.5h1M42 110.5h1M4 111.5h1M55 111.5h1M0 112.5h1M5 112.5h1M22 112.5h1M46 112.5h1M50 112.5h1M53 112.5h1M57 112.5h1M75 112.5h1M81 112.5h1M86 112.5h1M16 113.5h1M38 113.5h1M52 113.5h1M83 113.5h1M88 113.5h1M6 114.5h1M20 114.5h1M25 114.5h1M63 114.5h1M68 114.5h1M23 115.5h1M35 115.5h1M42 115.5h1M44 115.5h1M63 115.5h1M65 115.5h1M71 115.5h1M78 115.5h1M18 116.5h1M37 116.5h1M61 116.5h1M65 116.5h1M72 116.5h1M84 116.5h1M58 117.5h1M63 117.5h1M82 117.5h1M48 118.5h1M19 120.5h1M25 120.5h1M40 120.5h1M50 121.5h1M57 121.5h1M18 122.5h1M74 122.5h1M80 122.5h1M84 122.5h1M21 123.5h1M25 123.5h1M6 124.5h1M52 124.5h1M9 125.5h1M11 125.5h2M17 125.5h1M45 125.5h1M16 126.5h1M25 126.5h1M31 126.5h1M40 126.5h1M50 126.5h1M57 126.5h1M60 126.5h1M73 126.5h1M78 126.5h1M71 127.5h1M77 127.5h1M11 128.5h1M45 128.5h1M20 129.5h1M27 129.5h1M48 129.5h1M64 129.5h1M67 129.5h3M76 129.5h1M36 130.5h1M23 131.5h1M19 132.5h1M27 132.5h1M36 132.5h1M49 132.5h1M73 132.5h1M85 132.5h1M11 133.5h1M22 133.5h1M40 133.5h1M51 133.5h1M72 133.5h1M0 134.5h1M17 134.5h1M46 134.5h1M52 134.5h2M8 135.5h1M22 135.5h1M63 135.5h1M68 135.5h1M78 135.5h1M88 135.5h1M13 136.5h1M35 136.5h1M65 136.5h1M73 136.5h1M86 136.5h1M90 136.5h1M16 137.5h1M44 137.5h1M64 137.5h1M82 137.5h1M88 137.5h1M11 138.5h1M46 138.5h1M74 138.5h1M87 138.5h1M21 139.5h1M58 139.5h1M79 139.5h1"/>
<path stroke="#c4e7a1" stroke-width="1" d="M48 44.5h1M70 60.5h1M85 69.5h1M22 72.5h1M24 83.5h1M13 84.5h1M39 84.5h1M48 84.5h1M53 84.5h1M90 84.5h1M2 85.5h1M56 86.5h1M85 86.5h1M52 87.5h1M16 88.5h1M48 88.5h1M81 88.5h1M6 89.5h1M27 89.5h1M65 89.5h1M88 89.5h1M19 90.5h1M22 90.5h1M36 90.5h1M19 91.5h1M37 91.5h1M39 91.5h1M54 91.5h1M62 91.5h1M16 92.5h1M38 92.5h1M41 92.5h1M59 92.5h1M72 92.5h1M9 93.5h1M19 93.5h1M7 94.5h2M64 94.5h1M74 94.5h1M20 95.5h1M22 95.5h1M67 95.5h1M76 95.5h1M89 95.5h1M36 96.5h1M87 96.5h1M18 97.5h2M59 97.5h1M21 98.5h1M45 98.5h1M69 98.5h1M18 99.5h1M71 99.5h1M73 99.5h1M85 99.5h1M35 100.5h1M75 100.5h1M7 106.5h1M24 106.5h1M68 108.5h1M0 110.5h1M55 110.5h1M70 110.5h1M1 111.5h1M80 111.5h1M79 112.5h1M14 113.5h1M56 113.5h1M62 113.5h1M89 113.5h1M74 114.5h1M88 114.5h1M44 116.5h1M1 117.5h1M15 117.5h1M68 117.5h1M78 117.5h1M14 118.5h1M50 118.5h1M74 118.5h1M12 119.5h1M32 119.5h1M47 119.5h1M90 119.5h1M14 120.5h1M43 120.5h1M67 121.5h1M42 122.5h1M58 122.5h1M50 124.5h1M18 126.5h1M16 127.5h1M31 127.5h1M33 127.5h1M29 128.5h1M50 128.5h1M78 128.5h1M43 129.5h1M53 132.5h1M65 132.5h1M17 133.5h1M36 133.5h1M48 133.5h1M53 133.5h1M75 133.5h1M54 135.5h1M66 135.5h1M48 136.5h1M9 137.5h1M36 137.5h1M41 137.5h1"/>
<path stroke="#d9eea1" stroke-width="1" d="M52 45.5h1M36 46.5h1M50 46.5h1M90 48.5h1M26 49.5h1M76 50.5h1M66 51.5h1M55 71.5h1M17 83.5h1M25 83.5h4M43 83.5h1M51 83.5h1M53 83.5h1M58 83.5h3M70 83.5h1M82 83.5h1M84 83.5h1M24 84.5h1M27 84.5h1M37 84.5h1M45 84.5h1M49 84.5h1M61 84.5h1M67 84.5h1M87 84.5h1M8 85.5h1M16 85.5h1M21 85.5h1M24 85.5h1M27 85.5h1M39 85.5h1M46 85.5h1M49 85.5h1M52 85.5h1M54 85.5h1M63 85.5h1M68 85.5h1M76 85.5h1M89 85.5h1M0 86.5h1M17 86.5h1M26 86.5h1M32 86.5h1M34 86.5h1M49 86.5h2M54 86.5h2M58 86.5h1M65 86.5h1M83 86.5h1M89 86.5h1M14 87.5h1M34 87.5h1M45 87.5h1M11 88.5h1M17 88.5h1M21 88.5h1M23 88.5h1M32 88.5h1M34 88.5h1M38 88.5h1M50 88.5h1M52 88.5h1M56 88.5h1M65 88.5h1M74 88.5h1M79 88.5h1M88 88.5h1M1 89.5h1M17 89.5h1M29 89.5h1M41 89.5h1M43 89.5h3M51 89.5h2M54 89.5h1M63 89.5h2M68 89.5h3M87 89.5h1M1 90.5h1M38 90.5h1M9 91.5h1M47 91.5h1M58 91.5h1M87 91.5h1M3 92.5h1M51 92.5h1M71 92.5h1M52 93.5h2M64 93.5h1M56 94.5h1M59 94.5h1M10 95.5h1M28 95.5h1M82 95.5h1M5 96.5h1M27 96.5h1M29 96.5h1M54 96.5h1M59 96.5h2M69 96.5h1M83 96.5h1M7 97.5h1M38 99.5h1M59 99.5h1M43 100.5h1M82 103.5h1M28 106.5h1M43 106.5h1M53 106.5h1M60 106.5h1M89 106.5h1M27 107.5h1M36 107.5h1M75 107.5h1M84 107.5h1M32 108.5h1M88 108.5h1M31 109.5h1M34 109.5h1M40 109.5h1M45 109.5h1M62 109.5h1M46 110.5h2M25 111.5h1M78 111.5h1M9 112.5h1M11 112.5h1M20 112.5h2M24 112.5h1M27 112.5h1M30 112.5h1M58 112.5h1M67 112.5h1M88 112.5h1M32 113.5h1M43 113.5h1M48 113.5h1M50 113.5h2M73 113.5h2M77 113.5h1M18 114.5h1M50 114.5h1M60 114.5h1M83 114.5h1M0 115.5h1M4 115.5h1M12 115.5h1M14 115.5h1M18 115.5h1M32 115.5h1M40 115.5h1M57 115.5h1M66 115.5h1M86 115.5h1M9 116.5h1M14 116.5h1M21 116.5h1M33 116.5h3M41 116.5h2M57 116.5h3M90 116.5h1M6 117.5h1M21 117.5h1M26 117.5h1M37 117.5h1M39 117.5h1M42 117.5h1M72 117.5h1M74 117.5h1M81 117.5h1M90 117.5h1M2 118.5h1M8 118.5h1M11 118.5h1M13 118.5h1M36 118.5h1M42 118.5h1M45 118.5h1M55 118.5h1M57 118.5h1M64 118.5h1M76 118.5h1M79 118.5h1M4 119.5h1M11 119.5h1M21 119.5h1M29 119.5h2M33 119.5h1M51 119.5h1M78 119.5h1M80 119.5h1M84 119.5h1M12 120.5h1M15 120.5h1M22 120.5h1M27 120.5h1M32 120.5h1M39 120.5h1M46 120.5h1M76 120.5h1M6 121.5h2M11 121.5h1M13 121.5h1M17 121.5h1M37 121.5h1M52 121.5h1M54 121.5h1M59 121.5h1M68 121.5h1M72 121.5h1M85 121.5h1M2 122.5h1M4 122.5h1M19 122.5h2M26 122.5h1M49 122.5h1M62 122.5h1M64 122.5h1M66 122.5h1M70 122.5h1M73 122.5h1M76 122.5h1M6 123.5h1M18 123.5h1M29 123.5h1M37 123.5h1M65 123.5h1M77 123.5h1M9 124.5h1M24 124.5h1M54 124.5h1M56 124.5h1M88 124.5h1M1 125.5h1M16 125.5h1M30 125.5h1M43 125.5h1M47 125.5h1M78 125.5h1M86 125.5h1M89 125.5h1M4 126.5h1M6 126.5h1M33 126.5h1M37 126.5h1M51 126.5h1M56 126.5h1M61 126.5h1M84 126.5h1M25 127.5h1M41 127.5h1M53 127.5h1M56 127.5h1M65 127.5h1M75 127.5h1M88 127.5h1M17 128.5h2M26 128.5h1M38 128.5h1M43 128.5h2M47 128.5h1M49 128.5h1M58 128.5h1M73 128.5h1M87 128.5h1M30 129.5h1M61 129.5h1M66 129.5h1M85 129.5h1M13 130.5h1M82 130.5h1M84 130.5h1M0 131.5h2M13 131.5h1M24 131.5h1M40 131.5h3M54 131.5h1M58 131.5h1M64 131.5h1M70 131.5h1M84 131.5h1M86 131.5h1M89 131.5h1M14 132.5h1M22 132.5h1M54 132.5h1M58 132.5h1M61 132.5h1M63 132.5h1M67 132.5h1M89 132.5h1M4 133.5h1M12 133.5h1M24 133.5h1M26 133.5h1M37 133.5h2M43 133.5h1M46 133.5h1M56 133.5h1M65 133.5h1M76 133.5h1M80 133.5h1M31 134.5h1M47 134.5h1M59 134.5h1M74 134.5h1M90 134.5h1M5 135.5h1M17 135.5h1M29 135.5h2M52 135.5h1M62 135.5h1M72 135.5h1M84 135.5h1M86 135.5h1M4 136.5h3M12 136.5h1M24 136.5h1M32 136.5h1M39 136.5h1M41 136.5h1M56 136.5h1M66 136.5h1M76 136.5h1M3 137.5h1M25 137.5h1M57 137.5h1M38 138.5h1M48 138.5h1M50 138.5h1M57 138.5h1M77 138.5h1M9 139.5h1M38 139.5h2M41 139.5h1M46 139.5h1M56 139.5h2M83 139.5h1"/>
<path stroke="#c4e79a" stroke-width="1" d="M33 46.5h1M29 49.5h1M13 62.5h1M17 68.5h1M20 68.5h2M43 68.5h1M46 69.5h1M74 69.5h1M84 69.5h1M53 70.5h1M57 70.5h1M59 70.5h1M63 70.5h1M84 70.5h1M14 71.5h1M20 71.5h1M65 71.5h1M39 72.5h1M9 83.5h1M41 83.5h1M65 83.5h1M76 83.5h1M80 83.5h1M2 84.5h1M12 84.5h1M14 84.5h2M26 84.5h1M41 84.5h1M43 84.5h1M51 84.5h1M75 84.5h1M83 84.5h1M0 85.5h1M50 85.5h1M85 85.5h1M3 86.5h1M18 86.5h1M22 86.5h1M76 86.5h1M87 86.5h1M33 87.5h1M40 87.5h1M54 87.5h1M61 87.5h1M76 87.5h1M79 87.5h1M82 87.5h1M87 87.5h2M13 88.5h1M58 88.5h1M75 88.5h1M83 88.5h1M67 89.5h1M80 89.5h1M23 90.5h1M49 90.5h1M70 90.5h1M82 90.5h1M21 91.5h1M38 91.5h1M42 91.5h1M67 91.5h2M21 92.5h1M36 92.5h2M45 92.5h1M47 92.5h1M61 92.5h1M90 92.5h1M10 93.5h1M20 93.5h1M55 93.5h1M58 93.5h1M71 93.5h1M11 94.5h1M24 94.5h1M37 94.5h1M40 94.5h2M44 94.5h1M49 94.5h2M55 94.5h1M58 94.5h1M68 94.5h1M86 94.5h1M8 95.5h1M15 95.5h1M21 95.5h1M36 95.5h1M52 95.5h1M58 95.5h1M90 95.5h1M35 96.5h1M22 97.5h1M84 97.5h1M6 98.5h1M20 98.5h1M22 98.5h1M29 98.5h1M70 98.5h1M72 98.5h1M74 98.5h1M80 98.5h2M19 99.5h1M28 99.5h1M32 99.5h1M34 99.5h1M55 99.5h2M87 99.5h1M16 100.5h1M37 100.5h1M46 100.5h1M54 100.5h1M67 100.5h1M81 100.5h1M86 100.5h1M3 101.5h1M39 101.5h1M85 102.5h1M6 103.5h1M29 103.5h1M83 103.5h1M88 104.5h1M18 106.5h1M21 106.5h1M36 106.5h1M59 106.5h1M78 106.5h1M86 106.5h1M56 108.5h1M48 109.5h1M64 109.5h1M19 110.5h1M38 110.5h1M51 110.5h1M57 110.5h1M67 110.5h1M81 110.5h1M8 111.5h1M11 111.5h1M16 111.5h1M18 111.5h1M24 111.5h1M27 111.5h1M33 111.5h1M47 111.5h1M59 111.5h1M72 111.5h1M84 111.5h1M10 112.5h1M12 112.5h1M35 112.5h1M37 112.5h1M55 112.5h1M59 112.5h1M84 112.5h1M22 113.5h1M68 113.5h1M78 113.5h1M7 114.5h1M10 114.5h1M19 114.5h1M23 114.5h1M43 114.5h1M46 114.5h1M53 114.5h1M6 115.5h1M20 115.5h1M59 115.5h1M69 115.5h1M6 116.5h1M15 116.5h1M38 116.5h1M70 116.5h1M75 116.5h1M88 116.5h1M4 117.5h1M11 117.5h1M22 117.5h1M36 117.5h1M41 117.5h1M79 117.5h1M86 117.5h1M10 118.5h1M18 118.5h1M21 118.5h1M26 118.5h1M38 118.5h1M41 118.5h1M78 118.5h1M83 118.5h3M9 119.5h1M24 119.5h1M26 119.5h1M50 119.5h1M72 119.5h1M76 119.5h1M88 119.5h1M0 120.5h1M8 120.5h1M13 120.5h1M21 120.5h1M24 120.5h1M33 120.5h1M67 120.5h1M86 120.5h1M2 121.5h1M5 121.5h1M24 121.5h1M26 121.5h1M30 121.5h1M36 121.5h1M69 121.5h1M39 122.5h1M14 123.5h1M51 123.5h1M70 123.5h1M83 123.5h1M11 124.5h1M13 124.5h1M20 124.5h1M49 124.5h1M61 124.5h2M69 124.5h1M90 124.5h1M14 125.5h1M19 125.5h1M56 125.5h1M73 125.5h3M9 126.5h1M41 126.5h1M46 126.5h1M83 126.5h1M2 127.5h1M8 127.5h1M10 127.5h2M17 127.5h1M21 127.5h1M42 127.5h1M49 127.5h1M66 127.5h1M85 127.5h1M1 128.5h1M10 128.5h1M13 128.5h1M25 128.5h1M52 128.5h1M68 128.5h1M14 129.5h1M59 129.5h1M70 129.5h1M84 129.5h1M66 130.5h1M18 131.5h1M68 131.5h1M13 132.5h1M17 132.5h1M33 132.5h1M57 132.5h1M60 132.5h1M68 132.5h1M70 132.5h1M41 133.5h1M47 133.5h1M26 134.5h1M37 134.5h1M31 135.5h1M64 135.5h1M70 135.5h1M74 135.5h1M83 135.5h1M25 136.5h1M40 136.5h1M57 136.5h1M15 137.5h1M35 137.5h1M50 137.5h2M53 137.5h1M83 138.5h1M16 139.5h1M50 139.5h1M62 139.5h2"/>
<path stroke="#cbe7a1" stroke-width="1" d="M17 52.5h1M65 69.5h1M23 70.5h1M32 70.5h1M46 70.5h1M78 70.5h1M90 70.5h1M7 71.5h1M49 71.5h1M67 71.5h1M27 72.5h1M1 83.5h1M11 83.5h1M14 83.5h1M16 83.5h1M21 83.5h2M32 83.5h2M40 83.5h1M42 83.5h1M57 83.5h1M62 83.5h1M79 83.5h1M9 85.5h1M40 85.5h2M57 85.5h1M59 85.5h1M65 85.5h1M73 85.5h1M79 85.5h1M2 86.5h1M8 86.5h1M11 86.5h2M19 86.5h1M38 86.5h1M40 86.5h1M47 86.5h1M51 86.5h1M78 86.5h1M80 86.5h1M84 86.5h1M3 87.5h1M17 87.5h1M23 87.5h1M32 87.5h1M36 87.5h1M47 87.5h1M66 87.5h1M83 87.5h2M1 88.5h1M5 88.5h1M18 88.5h2M22 88.5h1M36 88.5h1M41 88.5h1M89 88.5h1M2 89.5h1M4 89.5h1M7 89.5h1M16 89.5h1M57 89.5h1M78 89.5h1M83 89.5h1M0 90.5h1M3 90.5h1M5 90.5h1M17 90.5h1M25 90.5h1M27 90.5h1M35 90.5h1M40 90.5h1M42 90.5h1M45 90.5h1M53 90.5h1M63 90.5h1M81 90.5h1M0 91.5h1M16 91.5h1M23 91.5h1M27 91.5h1M30 91.5h1M45 91.5h1M52 91.5h1M55 91.5h1M57 91.5h1M63 91.5h1M69 91.5h1M6 92.5h1M8 92.5h1M23 92.5h1M26 92.5h1M32 92.5h1M35 92.5h1M39 92.5h1M55 92.5h2M68 92.5h1M86 92.5h2M0 93.5h1M4 93.5h1M7 93.5h1M22 93.5h1M28 93.5h1M31 93.5h1M43 93.5h1M56 93.5h1M61 93.5h1M65 93.5h2M70 93.5h1M87 93.5h1M2 94.5h1M4 94.5h1M6 94.5h1M12 94.5h1M16 94.5h1M19 94.5h1M38 94.5h2M47 94.5h1M72 94.5h1M4 95.5h1M13 95.5h1M16 95.5h1M26 95.5h2M39 95.5h1M45 95.5h1M71 95.5h1M75 95.5h1M77 95.5h1M85 95.5h1M7 96.5h1M10 96.5h1M13 96.5h1M24 96.5h1M30 96.5h1M45 96.5h2M61 96.5h1M74 96.5h1M82 96.5h1M88 96.5h1M90 96.5h1M32 97.5h2M77 97.5h1M51 98.5h2M1 99.5h1M3 99.5h1M6 99.5h1M9 99.5h1M17 99.5h1M20 99.5h1M23 99.5h1M26 99.5h1M33 99.5h1M37 99.5h1M42 99.5h1M49 99.5h3M54 99.5h1M88 99.5h1M19 100.5h1M48 100.5h1M57 100.5h1M68 100.5h1M73 100.5h1M28 102.5h1M47 102.5h1M63 102.5h1M82 102.5h1M28 103.5h1M74 103.5h1M15 104.5h1M82 105.5h1M3 106.5h1M20 106.5h1M31 106.5h1M37 106.5h3M41 106.5h1M45 106.5h2M50 106.5h1M74 106.5h1M76 106.5h1M82 106.5h1M85 106.5h1M73 108.5h1M76 108.5h1M18 109.5h1M24 109.5h1M54 109.5h1M60 109.5h1M72 109.5h1M83 109.5h1M19 111.5h1M26 111.5h1M28 111.5h1M37 111.5h1M39 111.5h1M44 111.5h1M51 111.5h1M58 111.5h1M60 111.5h2M64 111.5h1M77 111.5h1M79 111.5h1M86 111.5h1M4 113.5h1M10 113.5h1M15 113.5h1M36 113.5h1M45 113.5h1M55 113.5h1M64 113.5h1M67 113.5h1M80 113.5h1M86 113.5h1M21 115.5h1M37 115.5h2M43 115.5h1M70 115.5h1M74 115.5h1M83 115.5h1M2 120.5h1M5 120.5h1M7 120.5h1M11 120.5h1M29 120.5h1M34 120.5h1M38 120.5h1M53 120.5h1M64 120.5h1M66 120.5h1M69 120.5h2M72 120.5h1M74 120.5h1M14 121.5h1M21 121.5h1M38 121.5h1M44 121.5h1M66 121.5h1M84 121.5h1M90 121.5h1M35 122.5h1M43 122.5h1M78 122.5h1M89 122.5h1M8 123.5h1M23 123.5h1M30 123.5h1M38 123.5h1M48 123.5h1M62 123.5h1M10 124.5h1M22 124.5h1M29 124.5h2M35 124.5h2M44 124.5h1M66 124.5h1M71 124.5h1M74 124.5h1M79 124.5h1M89 124.5h1M3 125.5h1M10 125.5h1M21 125.5h1M23 125.5h1M29 125.5h1M34 125.5h2M37 125.5h1M40 125.5h2M46 125.5h1M60 125.5h1M67 125.5h1M79 125.5h1M4 128.5h3M24 128.5h1M27 128.5h1M40 128.5h1M61 128.5h1M66 128.5h1M75 128.5h2M23 129.5h1M40 129.5h1M73 129.5h1M75 129.5h1M79 129.5h2M90 129.5h1M21 130.5h1M48 130.5h1M77 130.5h1M85 130.5h1M16 131.5h1M19 131.5h1M29 131.5h1M72 131.5h1M80 131.5h1M1 133.5h1M3 133.5h1M10 133.5h1M28 133.5h1M50 133.5h1M52 133.5h1M61 133.5h1M63 133.5h1M67 133.5h1M69 133.5h2M83 133.5h1M90 133.5h1M11 134.5h1M24 134.5h1M34 134.5h1M75 134.5h1M3 135.5h1M14 135.5h2M37 135.5h1M41 135.5h1M43 135.5h1M46 135.5h1M58 135.5h1M67 135.5h1M71 135.5h1M85 135.5h1M89 135.5h1M8 136.5h1M26 136.5h2M38 136.5h1M64 136.5h1M82 136.5h1M6 137.5h1M22 137.5h1M24 137.5h1M48 137.5h1M52 137.5h1M79 137.5h1M85 137.5h3M9 138.5h1M81 138.5h1M7 139.5h1M80 139.5h1"/>
<path stroke="#a1d993" stroke-width="1" d="M4 62.5h1M14 62.5h1M19 62.5h1M23 62.5h2M26 62.5h1M28 62.5h1M47 62.5h1M51 62.5h1M63 62.5h1M70 62.5h1M82 62.5h1M3 63.5h1M82 63.5h1M3 64.5h1M7 64.5h3M18 64.5h1M21 64.5h2M24 64.5h1M28 64.5h1M30 64.5h4M35 64.5h1M37 64.5h1M41 64.5h1M47 64.5h1M51 64.5h2M67 64.5h1M69 64.5h2M74 64.5h1M77 64.5h2M80 64.5h1M86 64.5h2M24 65.5h1M28 65.5h1M35 65.5h1M40 65.5h1M44 65.5h1M53 65.5h1M58 65.5h1M69 65.5h1M75 65.5h1M42 66.5h1M60 66.5h1M71 66.5h1M82 66.5h1M9 67.5h1M14 67.5h2M22 67.5h1M33 67.5h3M37 67.5h1M40 67.5h1M42 67.5h1M48 67.5h1M50 67.5h1M53 67.5h1M55 67.5h1M58 67.5h2M61 67.5h1M64 67.5h1M71 67.5h1M76 67.5h1M81 67.5h2M1 69.5h1M25 69.5h2M38 69.5h1M54 69.5h1M62 69.5h1M77 69.5h1M87 69.5h1M89 69.5h1M11 70.5h1M14 70.5h1M16 70.5h1M33 70.5h1M48 70.5h1M86 70.5h1M1 73.5h1M3 73.5h2M6 73.5h1M8 73.5h1M15 73.5h1M18 73.5h1M27 73.5h1M29 73.5h1M32 73.5h2M39 73.5h1M43 73.5h2M48 73.5h1M53 73.5h1M56 73.5h1M60 73.5h1M65 73.5h1M69 73.5h2M76 73.5h2M83 73.5h2M88 73.5h1M28 74.5h1M55 74.5h1M59 74.5h1M67 74.5h1M87 74.5h1M0 75.5h1M8 75.5h2M11 75.5h1M19 75.5h1M28 75.5h1M30 75.5h1M42 75.5h2M47 75.5h1M59 75.5h1M63 75.5h1M69 75.5h2M8 76.5h1M44 76.5h1M63 76.5h1M14 77.5h1M17 77.5h1M23 77.5h1M32 77.5h1M39 77.5h1M49 77.5h2M58 77.5h2M63 77.5h1M71 77.5h1M84 77.5h1M89 77.5h2M15 79.5h1M18 79.5h2M42 79.5h1M55 79.5h1M59 79.5h2M67 79.5h1M69 79.5h1M4 80.5h1M30 80.5h1M69 80.5h1M28 81.5h1M68 84.5h1M73 84.5h1M11 87.5h1M65 90.5h1M4 92.5h1M57 92.5h1M83 92.5h1M88 92.5h1M1 93.5h1M32 93.5h1M67 93.5h1M1 94.5h1M28 94.5h1M60 94.5h1M81 94.5h1M88 94.5h1M18 95.5h1M62 95.5h1M80 95.5h1M2 97.5h1M5 97.5h1M8 97.5h2M12 97.5h1M14 97.5h1M31 97.5h1M47 97.5h1M56 97.5h1M60 97.5h1M67 97.5h2M72 97.5h1M75 97.5h2M80 97.5h1M86 97.5h1M7 98.5h1M12 98.5h2M26 98.5h2M38 98.5h1M57 98.5h1M61 98.5h1M64 98.5h2M8 99.5h1M76 99.5h1M79 99.5h1M2 100.5h1M12 100.5h2M23 100.5h1M26 100.5h1M34 100.5h1M58 100.5h1M72 100.5h1M82 100.5h2M90 100.5h1M7 105.5h1M18 105.5h1M23 105.5h1M31 105.5h1M38 105.5h1M44 105.5h1M50 105.5h2M53 105.5h1M62 105.5h1M67 105.5h2M79 105.5h1M81 105.5h1M83 105.5h2M89 105.5h1M3 110.5h1M20 110.5h1M83 110.5h1M56 111.5h1M89 111.5h1M8 114.5h1M77 120.5h1M25 125.5h1M30 126.5h1M74 127.5h1M69 128.5h1M48 131.5h1M6 132.5h1M16 132.5h1M74 132.5h1"/>
<path stroke="#a1d293" stroke-width="1" d="M6 62.5h1M9 62.5h1M25 62.5h1M37 62.5h1M40 62.5h2M44 62.5h1M58 62.5h2M61 62.5h1M64 62.5h2M87 62.5h2M34 63.5h1M66 63.5h1M69 63.5h1M10 64.5h2M15 64.5h1M19 64.5h2M27 64.5h1M38 64.5h1M42 64.5h1M45 64.5h1M54 64.5h1M60 64.5h1M18 65.5h2M27 65.5h1M34 65.5h1M41 65.5h1M45 65.5h1M57 65.5h1M70 65.5h2M81 65.5h1M17 66.5h1M28 66.5h1M73 66.5h1M90 66.5h1M3 67.5h1M12 67.5h1M19 67.5h2M45 67.5h2M69 67.5h2M54 68.5h1M73 68.5h1M81 68.5h1M24 69.5h1M74 72.5h1M7 73.5h1M24 73.5h1M38 73.5h1M46 73.5h1M49 73.5h1M54 73.5h1M73 73.5h1M89 73.5h1M0 74.5h1M13 74.5h1M20 74.5h1M25 74.5h1M38 74.5h1M46 74.5h1M58 74.5h1M65 74.5h1M73 74.5h1M6 75.5h1M12 75.5h3M22 75.5h2M31 75.5h1M36 75.5h1M46 75.5h1M50 75.5h2M58 75.5h1M72 75.5h1M84 75.5h1M90 75.5h1M14 76.5h1M18 76.5h1M20 76.5h1M29 76.5h1M81 76.5h1M3 77.5h2M8 77.5h1M11 77.5h1M20 77.5h3M26 77.5h1M28 77.5h1M31 77.5h1M51 77.5h2M54 77.5h2M57 77.5h1M65 77.5h1M82 77.5h1M6 79.5h1M9 79.5h1M22 79.5h1M28 79.5h1M30 79.5h2M34 79.5h2M43 79.5h1M45 79.5h1M68 79.5h1M71 79.5h1M73 79.5h1M83 79.5h2M87 79.5h1M32 80.5h1M43 80.5h1M22 92.5h1M76 92.5h1M16 98.5h2M23 101.5h1M47 101.5h1M50 101.5h1M60 101.5h1M62 101.5h1M65 101.5h1M87 101.5h1M30 102.5h1M43 102.5h1M59 102.5h1M3 103.5h1M5 103.5h1M71 103.5h1M5 104.5h1M17 104.5h1M33 104.5h1M42 104.5h1M86 104.5h1M89 104.5h1M12 105.5h1M69 105.5h2M71 106.5h1M23 124.5h1"/>
<path stroke="#a8d993" stroke-width="1" d="M30 62.5h1M39 64.5h1M85 64.5h1M4 65.5h1M0 67.5h1M4 67.5h1M32 67.5h1M72 67.5h1M7 68.5h2M16 68.5h1M19 68.5h1M26 68.5h1M32 68.5h2M41 68.5h1M56 68.5h1M59 68.5h1M76 68.5h1M82 68.5h1M86 68.5h3M3 69.5h1M6 69.5h2M12 69.5h1M20 69.5h1M23 69.5h1M27 69.5h1M29 69.5h1M33 69.5h1M36 69.5h1M42 69.5h1M44 69.5h1M50 69.5h1M57 69.5h1M60 69.5h1M76 69.5h1M78 69.5h2M2 70.5h1M15 70.5h1M17 70.5h1M21 70.5h1M31 70.5h1M40 70.5h1M49 70.5h1M54 70.5h1M65 70.5h2M68 70.5h1M89 70.5h1M5 71.5h1M11 71.5h1M22 71.5h1M26 71.5h2M32 71.5h1M34 71.5h1M37 71.5h1M42 71.5h1M44 71.5h2M63 71.5h1M70 71.5h1M73 71.5h1M80 71.5h1M0 72.5h1M7 72.5h1M10 72.5h1M13 72.5h1M24 72.5h1M28 72.5h1M42 72.5h1M45 72.5h1M53 72.5h1M72 72.5h1M77 72.5h1M85 72.5h2M0 73.5h1M5 73.5h1M9 73.5h1M11 73.5h1M20 73.5h1M40 73.5h1M58 73.5h1M66 73.5h1M68 73.5h1M71 73.5h1M78 73.5h1M0 87.5h1M2 87.5h1M13 87.5h1M19 87.5h1M35 87.5h1M43 87.5h1M49 87.5h1M81 87.5h1M21 90.5h1M66 90.5h1M1 92.5h1M11 92.5h1M14 92.5h1M18 92.5h1M42 92.5h1M48 92.5h2M54 92.5h1M63 92.5h1M13 93.5h1M21 93.5h1M44 93.5h1M83 94.5h1M83 95.5h2M9 98.5h1M11 98.5h1M19 98.5h1M35 98.5h1M59 98.5h1M63 98.5h1M85 98.5h1M88 98.5h1M58 99.5h1M61 99.5h1M89 99.5h1M7 100.5h1M40 100.5h1M69 100.5h2M79 100.5h1M85 100.5h1M0 101.5h1M9 101.5h1M18 101.5h1M24 101.5h1M26 101.5h1M33 101.5h1M45 101.5h1M48 101.5h1M67 101.5h1M70 101.5h1M73 101.5h2M81 101.5h1M2 102.5h1M18 102.5h1M22 102.5h1M24 102.5h1M41 102.5h1M46 102.5h1M49 102.5h1M53 102.5h1M58 102.5h1M67 102.5h1M77 102.5h1M83 102.5h2M7 103.5h1M12 103.5h2M17 103.5h1M26 103.5h1M34 103.5h1M38 103.5h1M57 103.5h1M60 103.5h1M65 103.5h1M68 103.5h1M76 103.5h1M78 103.5h1M2 104.5h1M21 104.5h1M24 104.5h1M48 104.5h1M57 104.5h1M59 104.5h1M68 104.5h1M74 104.5h1M77 104.5h1M84 104.5h1M37 107.5h1M6 110.5h1M21 110.5h1M26 110.5h1M34 110.5h1M36 110.5h1M52 110.5h1M36 111.5h1M64 117.5h1M73 117.5h1M36 119.5h1M10 120.5h1M68 124.5h1M72 124.5h1M80 124.5h1M68 126.5h1M60 127.5h1"/>
<path stroke="#bde09a" stroke-width="1" d="M67 62.5h1M69 66.5h1M14 68.5h1M27 68.5h1M71 68.5h1M15 69.5h1M21 69.5h1M48 69.5h2M52 69.5h1M59 69.5h1M63 69.5h1M81 69.5h1M90 69.5h1M5 70.5h1M9 70.5h2M24 70.5h1M26 70.5h2M34 70.5h2M39 70.5h1M43 70.5h1M45 70.5h1M60 70.5h1M67 70.5h1M82 70.5h1M8 71.5h1M33 71.5h1M41 71.5h1M43 71.5h1M48 71.5h1M52 71.5h1M54 71.5h1M64 71.5h1M74 71.5h1M76 71.5h1M79 71.5h1M83 71.5h1M87 71.5h1M2 72.5h2M5 72.5h1M9 72.5h1M35 72.5h1M37 72.5h1M51 72.5h1M55 72.5h1M63 72.5h1M71 72.5h1M76 72.5h1M48 83.5h1M64 83.5h1M75 83.5h1M6 84.5h1M11 84.5h1M38 84.5h1M50 84.5h1M54 84.5h1M63 84.5h1M79 84.5h2M84 84.5h1M15 85.5h1M83 85.5h1M27 86.5h1M43 86.5h1M48 86.5h1M57 86.5h1M59 86.5h1M61 86.5h1M81 86.5h1M86 86.5h1M26 88.5h1M35 88.5h1M53 88.5h1M57 88.5h1M67 88.5h1M70 88.5h1M38 89.5h1M7 91.5h1M10 91.5h1M56 91.5h1M60 91.5h1M70 91.5h1M73 91.5h1M76 91.5h1M78 91.5h1M86 91.5h1M10 92.5h1M29 92.5h2M43 92.5h2M53 92.5h1M60 92.5h1M65 92.5h1M74 92.5h1M9 94.5h1M21 94.5h1M25 94.5h1M29 94.5h1M42 94.5h1M46 94.5h1M48 94.5h1M62 94.5h1M69 94.5h1M71 94.5h1M75 94.5h2M79 94.5h2M82 94.5h1M14 95.5h1M17 95.5h1M38 95.5h1M40 95.5h1M44 95.5h1M46 95.5h1M54 95.5h1M64 95.5h1M79 95.5h1M81 95.5h1M16 96.5h1M41 96.5h1M48 96.5h1M6 97.5h1M10 97.5h1M39 97.5h1M49 97.5h1M51 97.5h1M3 100.5h1M5 100.5h1M20 100.5h1M27 100.5h1M30 100.5h1M44 100.5h1M50 100.5h2M61 100.5h1M66 100.5h1M74 100.5h1M76 100.5h1M80 100.5h1M32 101.5h1M52 101.5h1M54 101.5h1M82 101.5h1M85 101.5h1M4 102.5h1M32 102.5h1M35 102.5h1M39 102.5h1M57 102.5h1M60 102.5h1M70 102.5h1M79 102.5h1M16 103.5h1M19 103.5h1M31 103.5h1M49 103.5h1M89 103.5h1M69 104.5h1M4 105.5h1M9 105.5h1M28 105.5h1M59 105.5h1M1 106.5h1M11 106.5h2M16 106.5h1M22 106.5h1M27 106.5h1M34 106.5h1M69 106.5h1M19 108.5h1M85 109.5h1M8 110.5h1M12 110.5h2M22 110.5h1M32 110.5h1M40 110.5h2M43 110.5h2M50 110.5h1M75 110.5h1M82 110.5h1M85 110.5h1M31 112.5h1M56 112.5h1M63 112.5h1M83 112.5h1M87 112.5h1M5 113.5h1M11 114.5h1M16 114.5h1M22 114.5h1M26 114.5h1M39 114.5h1M48 114.5h1M71 114.5h2M84 114.5h1M36 115.5h1M17 116.5h1M22 116.5h1M63 116.5h1M85 116.5h1M0 117.5h1M16 117.5h1M24 117.5h1M33 117.5h1M52 117.5h1M85 117.5h1M32 118.5h1M37 118.5h1M54 118.5h1M60 118.5h1M63 118.5h1M87 118.5h1M6 119.5h1M27 119.5h1M41 119.5h1M45 119.5h1M49 119.5h1M54 119.5h1M63 119.5h2M74 119.5h2M23 120.5h1M52 120.5h1M58 120.5h1M61 120.5h1M80 120.5h1M15 121.5h2M39 121.5h1M55 121.5h1M80 121.5h1M82 121.5h1M36 122.5h2M51 122.5h1M54 122.5h1M64 123.5h1M17 124.5h1M40 124.5h1M60 124.5h1M64 124.5h1M84 124.5h1M2 125.5h1M20 125.5h1M38 125.5h1M49 125.5h1M58 125.5h1M80 125.5h1M2 126.5h2M13 126.5h1M47 126.5h2M62 126.5h1M70 126.5h1M80 126.5h1M87 126.5h1M90 126.5h1M13 127.5h1M20 127.5h1M30 127.5h1M44 127.5h1M48 127.5h1M50 127.5h1M62 127.5h1M73 127.5h1M87 127.5h1M90 127.5h1M0 128.5h1M9 128.5h1M42 128.5h1M70 128.5h1M8 129.5h1M26 129.5h1M42 129.5h1M65 129.5h1M74 129.5h1M2 131.5h1M12 131.5h1M22 131.5h1M45 131.5h1M73 131.5h1M85 131.5h1M4 132.5h2M29 132.5h2M32 132.5h1M42 132.5h1M47 132.5h1M50 132.5h2M69 132.5h1M75 132.5h1M87 132.5h1M14 133.5h1M27 133.5h1M39 133.5h1M55 133.5h1M79 133.5h1M84 134.5h1M44 135.5h2M50 135.5h1M55 135.5h1M57 135.5h1M82 135.5h1M46 136.5h1M78 136.5h1M83 136.5h2M10 137.5h1M17 137.5h1M29 137.5h1M56 137.5h1M67 137.5h1M53 138.5h1"/>
<path stroke="#a8d99a" stroke-width="1" d="M17 64.5h1M0 68.5h1M6 68.5h1M9 68.5h1M11 68.5h2M24 68.5h1M35 68.5h1M51 68.5h1M57 68.5h1M75 68.5h1M79 68.5h1M84 68.5h2M2 69.5h1M4 69.5h2M14 69.5h1M18 69.5h1M30 69.5h1M34 69.5h1M61 69.5h1M73 69.5h1M13 70.5h1M20 70.5h1M36 70.5h1M83 70.5h1M88 70.5h1M3 71.5h1M29 71.5h1M47 71.5h1M61 71.5h1M72 71.5h1M86 71.5h1M89 71.5h2M14 72.5h1M26 72.5h1M30 72.5h1M66 72.5h2M69 72.5h1M88 72.5h1M37 73.5h1M42 73.5h1M82 73.5h1M18 87.5h1M55 87.5h2M67 87.5h1M80 87.5h1M8 90.5h1M16 90.5h1M20 90.5h1M34 90.5h1M58 90.5h1M64 90.5h1M83 90.5h1M90 90.5h1M80 91.5h1M20 92.5h1M62 92.5h1M73 92.5h1M75 92.5h1M18 93.5h1M36 93.5h1M54 93.5h1M89 93.5h1M18 94.5h1M53 94.5h1M55 95.5h1M71 97.5h1M4 98.5h1M28 98.5h1M40 98.5h1M12 99.5h1M36 99.5h1M40 99.5h1M45 99.5h1M8 100.5h2M38 100.5h1M55 100.5h2M65 100.5h1M71 100.5h1M7 101.5h1M14 101.5h2M17 101.5h1M22 101.5h1M35 101.5h1M44 101.5h1M51 101.5h1M58 101.5h1M75 101.5h1M78 101.5h2M84 101.5h1M86 101.5h1M89 101.5h1M16 102.5h1M19 102.5h2M27 102.5h1M44 102.5h1M48 102.5h1M54 102.5h1M65 102.5h1M73 102.5h1M87 102.5h1M4 103.5h1M32 103.5h1M46 103.5h2M52 103.5h1M66 103.5h1M77 103.5h1M87 103.5h1M11 104.5h1M49 104.5h1M66 104.5h1M90 104.5h1M13 105.5h1M15 105.5h1M19 105.5h1M27 105.5h1M57 105.5h1M86 105.5h1M49 106.5h1M56 110.5h1M79 110.5h1M89 110.5h1M63 111.5h1M68 111.5h1M81 111.5h1M36 114.5h1M7 119.5h1M40 119.5h1M62 121.5h1M68 125.5h1M5 126.5h1M88 126.5h1M6 127.5h1M68 127.5h1M71 132.5h1M88 132.5h1M37 137.5h1"/>
<path stroke="#afe09a" stroke-width="1" d="M49 67.5h1M22 68.5h1M34 68.5h1M10 69.5h1M55 69.5h1M83 69.5h1M4 70.5h1M56 70.5h1M61 70.5h2M17 71.5h2M58 71.5h1M43 72.5h1M47 72.5h1M89 72.5h1M1 76.5h1M27 78.5h1M16 84.5h1M41 86.5h1M8 87.5h1M12 90.5h2M48 90.5h1M78 90.5h1M84 90.5h1M89 90.5h1M28 91.5h1M13 92.5h1M24 92.5h1M69 92.5h1M41 93.5h1M88 93.5h1M3 94.5h1M7 95.5h1M19 95.5h1M42 95.5h1M88 95.5h1M21 97.5h1M25 97.5h1M52 97.5h1M82 97.5h1M14 98.5h1M47 98.5h2M86 98.5h1M27 99.5h1M43 99.5h1M74 99.5h1M83 99.5h1M41 100.5h1M27 101.5h1M30 101.5h1M34 102.5h1M72 102.5h1M8 103.5h1M21 103.5h1M39 103.5h1M88 103.5h1M50 104.5h1M81 104.5h1M3 105.5h1M25 105.5h1M56 105.5h1M26 106.5h1M88 106.5h1M13 111.5h1M54 112.5h1M23 117.5h1M35 117.5h1M80 127.5h1M54 128.5h1M49 134.5h1"/>
<path stroke="#b6e09a" stroke-width="1" d="M10 68.5h1M30 68.5h1M39 68.5h1M50 68.5h1M58 68.5h1M60 68.5h1M90 68.5h1M1 70.5h1M7 70.5h2M22 70.5h1M25 70.5h1M41 70.5h1M47 70.5h1M51 70.5h2M58 70.5h1M69 70.5h3M75 70.5h1M77 70.5h1M4 71.5h1M21 71.5h1M30 71.5h1M36 71.5h1M38 71.5h1M40 71.5h1M59 71.5h1M62 71.5h1M71 71.5h1M78 71.5h1M81 71.5h2M85 71.5h1M11 72.5h1M15 72.5h1M17 72.5h1M20 72.5h1M25 72.5h1M33 72.5h1M38 72.5h1M40 72.5h1M44 72.5h1M50 72.5h1M56 72.5h1M65 72.5h1M75 72.5h1M81 72.5h1M90 72.5h1M6 74.5h1M4 82.5h1M12 83.5h1M36 83.5h1M44 83.5h1M61 83.5h1M67 83.5h1M83 83.5h1M88 83.5h1M5 84.5h1M10 84.5h1M25 84.5h1M36 84.5h1M81 84.5h1M31 85.5h1M38 85.5h1M36 86.5h2M9 87.5h1M15 87.5h1M21 87.5h2M28 87.5h1M30 87.5h1M48 87.5h1M59 87.5h2M62 87.5h1M65 87.5h1M74 87.5h1M77 87.5h1M85 87.5h1M33 88.5h1M39 88.5h1M69 88.5h1M26 89.5h1M36 89.5h1M7 90.5h1M9 90.5h1M37 90.5h1M44 90.5h1M50 90.5h1M68 90.5h1M73 90.5h1M75 90.5h2M86 90.5h1M88 90.5h1M6 91.5h1M12 91.5h1M25 91.5h1M29 91.5h1M36 91.5h1M43 91.5h1M59 91.5h1M75 91.5h1M83 91.5h1M90 91.5h1M12 92.5h1M15 92.5h1M17 92.5h1M27 92.5h1M46 92.5h1M52 92.5h1M77 92.5h3M81 92.5h1M12 93.5h1M16 93.5h1M23 93.5h1M26 93.5h1M29 93.5h1M35 93.5h1M48 93.5h2M62 93.5h1M72 93.5h1M79 93.5h1M67 96.5h1M15 97.5h1M27 97.5h1M37 97.5h1M40 97.5h1M42 97.5h1M44 97.5h2M54 97.5h1M69 97.5h1M73 97.5h1M81 97.5h1M10 98.5h1M23 98.5h1M31 98.5h1M34 98.5h1M36 98.5h1M42 98.5h2M46 98.5h1M49 98.5h2M60 98.5h1M67 98.5h1M73 98.5h1M84 98.5h1M4 99.5h1M21 99.5h1M25 99.5h1M29 99.5h1M39 99.5h1M41 99.5h1M53 99.5h1M60 99.5h1M62 99.5h2M69 99.5h1M72 99.5h1M81 99.5h1M84 99.5h1M1 100.5h1M10 100.5h1M17 100.5h1M24 100.5h1M39 100.5h1M47 100.5h1M49 100.5h1M59 100.5h1M77 100.5h2M84 100.5h1M87 100.5h1M42 101.5h1M46 101.5h1M68 101.5h2M71 101.5h1M1 102.5h1M7 102.5h1M11 102.5h1M17 102.5h1M23 102.5h1M45 102.5h1M50 102.5h1M61 102.5h2M64 102.5h1M66 102.5h1M90 102.5h1M11 103.5h1M53 103.5h3M61 103.5h1M70 103.5h1M73 103.5h1M84 103.5h1M90 103.5h1M9 104.5h1M19 104.5h1M38 104.5h1M51 104.5h1M58 104.5h1M62 104.5h2M65 104.5h1M87 104.5h1M5 105.5h1M14 105.5h1M22 105.5h1M33 105.5h1M43 105.5h1M47 105.5h1M52 105.5h1M63 105.5h1M66 105.5h1M76 105.5h1M78 105.5h1M6 106.5h1M15 106.5h1M35 106.5h1M42 106.5h1M48 106.5h1M58 106.5h1M64 106.5h1M67 106.5h1M81 106.5h1M11 110.5h1M31 110.5h1M35 110.5h1M37 110.5h1M39 110.5h1M53 110.5h1M60 110.5h1M66 110.5h1M69 110.5h1M73 110.5h1M88 110.5h1M22 111.5h2M29 111.5h1M50 111.5h1M57 111.5h1M66 111.5h1M70 111.5h1M75 111.5h1M33 112.5h1M41 112.5h1M69 112.5h1M77 112.5h1M2 113.5h1M57 113.5h1M3 114.5h1M12 114.5h1M37 114.5h1M62 114.5h1M79 115.5h1M19 116.5h1M5 117.5h1M13 117.5h1M17 117.5h1M27 117.5h1M34 117.5h1M47 117.5h1M66 117.5h1M75 117.5h1M87 117.5h1M89 117.5h1M7 118.5h1M17 118.5h1M27 118.5h1M58 118.5h1M89 118.5h1M16 119.5h1M69 119.5h1M77 119.5h1M54 120.5h1M60 120.5h1M83 120.5h1M88 120.5h1M90 120.5h1M25 121.5h1M34 121.5h1M46 121.5h1M86 121.5h1M41 122.5h1M44 122.5h1M58 123.5h1M12 124.5h1M16 124.5h1M37 124.5h2M86 124.5h1M13 125.5h1M18 125.5h1M48 125.5h1M76 125.5h1M83 125.5h1M88 125.5h1M26 126.5h1M28 126.5h2M72 126.5h1M79 126.5h1M89 126.5h1M15 127.5h1M18 127.5h1M26 127.5h2M37 127.5h1M57 127.5h1M63 127.5h1M69 127.5h1M79 127.5h1M83 127.5h1M89 127.5h1M16 129.5h1M20 131.5h1M27 131.5h1M11 132.5h1M20 132.5h1M31 132.5h1M39 132.5h1M46 132.5h1M48 132.5h1M78 132.5h1M62 133.5h1M6 135.5h1M42 135.5h1M73 135.5h1M90 135.5h1M42 136.5h1M62 136.5h1M2 137.5h1M12 137.5h1M73 137.5h1M75 137.5h1M83 137.5h2M28 138.5h1M23 139.5h1M74 139.5h1"/>
<path stroke="#afd99a" stroke-width="1" d="M15 68.5h1M28 68.5h2M31 68.5h1M42 68.5h1M45 68.5h1M55 68.5h1M61 68.5h1M65 68.5h1M77 68.5h1M83 68.5h1M8 69.5h1M16 69.5h1M28 69.5h1M37 69.5h1M40 69.5h2M43 69.5h1M56 69.5h1M58 69.5h1M66 69.5h2M72 69.5h1M80 69.5h1M82 69.5h1M86 69.5h1M10 71.5h1M19 71.5h1M23 71.5h2M39 71.5h1M51 71.5h1M57 71.5h1M66 71.5h1M75 71.5h1M77 71.5h1M1 72.5h1M18 72.5h1M23 72.5h1M32 72.5h1M34 72.5h1M48 72.5h1M58 72.5h1M62 72.5h1M64 72.5h1M70 72.5h1M73 72.5h1M78 72.5h1M84 72.5h1M13 73.5h1M28 73.5h1M52 81.5h1M59 81.5h1M10 83.5h1M18 83.5h1M77 86.5h1M20 87.5h1M42 87.5h1M90 87.5h1M86 89.5h1M51 90.5h1M54 90.5h1M59 90.5h2M71 90.5h1M85 90.5h1M20 91.5h1M74 91.5h1M79 91.5h1M88 91.5h1M2 93.5h1M25 93.5h1M50 93.5h1M83 93.5h1M17 94.5h1M27 94.5h1M33 94.5h1M35 94.5h1M45 94.5h1M73 94.5h1M77 94.5h1M33 95.5h2M48 95.5h1M51 95.5h1M57 95.5h1M66 95.5h1M74 95.5h1M86 95.5h1M13 97.5h1M17 97.5h1M20 97.5h1M28 97.5h2M34 97.5h1M36 97.5h1M41 97.5h1M43 97.5h1M62 97.5h2M78 97.5h2M87 97.5h1M89 97.5h1M8 98.5h1M15 98.5h1M25 98.5h1M30 98.5h1M37 98.5h1M53 98.5h3M58 98.5h1M68 98.5h1M83 98.5h1M87 98.5h1M89 98.5h1M14 99.5h1M24 99.5h1M48 99.5h1M2 101.5h1M4 101.5h1M6 101.5h1M8 101.5h1M10 101.5h2M13 101.5h1M21 101.5h1M28 101.5h1M36 101.5h1M38 101.5h1M49 101.5h1M53 101.5h1M57 101.5h1M83 101.5h1M3 102.5h1M6 102.5h1M15 102.5h1M21 102.5h1M37 102.5h1M68 102.5h1M71 102.5h1M80 102.5h1M86 102.5h1M89 102.5h1M0 103.5h1M2 103.5h1M15 103.5h1M33 103.5h1M35 103.5h1M40 103.5h1M44 103.5h2M50 103.5h2M62 103.5h1M31 104.5h1M35 104.5h1M37 104.5h1M40 104.5h1M71 104.5h1M73 104.5h1M82 104.5h1M0 105.5h1M6 105.5h1M26 105.5h1M29 105.5h1M32 105.5h1M34 105.5h2M39 105.5h1M60 105.5h1M65 105.5h1M73 105.5h1M62 106.5h1M17 110.5h1M25 110.5h1M48 110.5h2M86 110.5h1M90 110.5h1M14 111.5h1M32 111.5h1M35 111.5h1M41 111.5h1M32 112.5h1M1 114.5h1M56 114.5h1M76 116.5h1M12 117.5h1M33 118.5h1M70 119.5h1M36 120.5h1M57 120.5h1M68 120.5h1M54 125.5h1M45 126.5h1M0 127.5h1M7 127.5h1M86 127.5h1M2 128.5h1M8 128.5h1M16 128.5h1M59 128.5h1M67 128.5h1M79 128.5h1M26 131.5h1M44 131.5h1M21 132.5h1M37 132.5h1M7 133.5h1M60 133.5h1M10 135.5h1M36 135.5h1"/>
<path stroke="#9ad293" stroke-width="1" d="M36 68.5h1M64 68.5h1M67 68.5h2M68 69.5h1M88 69.5h1M1 71.5h1M9 71.5h1M12 71.5h1M60 71.5h1M6 72.5h1M36 72.5h1M80 72.5h1M67 92.5h1M80 93.5h1M36 94.5h1M2 95.5h1M1 97.5h1M11 97.5h1M23 97.5h1M26 97.5h1M35 97.5h1M61 97.5h1M83 97.5h1M85 97.5h1M11 99.5h1M13 99.5h1M64 99.5h1M15 100.5h1M33 100.5h1M36 100.5h1M42 100.5h1M5 101.5h1M12 101.5h1M16 101.5h1M29 101.5h1M31 101.5h1M41 101.5h1M55 101.5h1M66 101.5h1M77 101.5h1M88 101.5h1M13 102.5h1M33 102.5h1M36 102.5h1M38 102.5h1M69 102.5h1M81 102.5h1M88 102.5h1M1 103.5h1M25 103.5h1M36 103.5h1M58 103.5h2M63 103.5h2M75 103.5h1M81 103.5h1M85 103.5h1M1 104.5h1M3 104.5h1M12 104.5h3M22 104.5h1M25 104.5h2M30 104.5h1M36 104.5h1M41 104.5h1M46 104.5h1M52 104.5h1M54 104.5h1M56 104.5h1M61 104.5h1M64 104.5h1M70 104.5h1M80 104.5h1M20 105.5h2M36 105.5h1M41 105.5h2M49 105.5h1M55 105.5h1M72 105.5h1M75 105.5h1M88 105.5h1M81 118.5h1M40 127.5h1M45 127.5h1"/>
<path stroke="#c4e09a" stroke-width="1" d="M49 68.5h1M19 69.5h1M47 69.5h1M0 70.5h1M73 70.5h1M31 71.5h1M56 83.5h1M74 83.5h1M57 84.5h1M85 84.5h1M62 85.5h1M5 86.5h1M14 86.5h1M4 87.5h1M24 87.5h1M27 87.5h1M37 87.5h1M86 87.5h1M85 88.5h1M6 90.5h1M29 90.5h1M33 90.5h1M55 90.5h1M79 90.5h1M13 91.5h1M51 91.5h1M0 92.5h1M2 92.5h1M33 92.5h2M24 93.5h1M47 93.5h1M25 95.5h1M41 95.5h1M50 95.5h1M59 95.5h1M63 95.5h1M78 95.5h1M3 97.5h1M35 99.5h1M57 99.5h1M11 100.5h1M60 100.5h1M29 102.5h1M18 103.5h1M83 104.5h1M1 105.5h1M8 105.5h1M45 105.5h1M71 105.5h1M90 105.5h1M10 106.5h1M25 106.5h1M73 106.5h1M78 110.5h1M87 110.5h1M0 111.5h1M5 111.5h1M10 111.5h1M13 112.5h1M18 112.5h1M66 114.5h1M69 114.5h1M54 117.5h1M69 117.5h1M0 118.5h1M65 118.5h1M39 119.5h1M73 119.5h1M79 119.5h1M3 120.5h1M81 120.5h1M84 120.5h1M75 121.5h1M67 122.5h1M88 123.5h1M55 124.5h1M67 124.5h1M75 124.5h1M27 125.5h1M31 125.5h1M44 126.5h1M12 127.5h1M23 127.5h1M58 127.5h1M81 127.5h1M8 132.5h1M25 132.5h1M55 132.5h1M82 134.5h1M20 135.5h1M26 135.5h1M33 135.5h1M40 135.5h1M10 136.5h1M15 136.5h1M54 136.5h1M63 136.5h1M49 137.5h1M60 137.5h1M80 138.5h1"/>
<path stroke="#d2eea1" stroke-width="1" d="M15 83.5h1M4 84.5h1M43 85.5h1M46 86.5h1M51 87.5h1M9 88.5h1M12 88.5h1M86 88.5h1M24 89.5h1M40 89.5h1M62 89.5h1M76 89.5h1M8 91.5h1M45 93.5h1M85 93.5h1M70 94.5h1M70 95.5h1M16 99.5h1M23 110.5h1M52 111.5h1M29 112.5h1M61 112.5h1M49 114.5h1M9 115.5h1M51 115.5h1M77 115.5h1M84 117.5h1M18 120.5h1M49 120.5h1M63 120.5h1M75 120.5h1M49 121.5h1M88 121.5h1M6 122.5h1M46 122.5h1M56 122.5h1M26 123.5h1M27 124.5h1M39 124.5h1M48 124.5h1M70 124.5h1M4 125.5h1M7 125.5h1M39 125.5h1M69 125.5h1M84 125.5h1M19 126.5h1M38 127.5h1M55 127.5h1M20 128.5h1M36 128.5h1M77 128.5h1M28 129.5h1M72 129.5h1M56 130.5h1M19 133.5h1M6 134.5h1M41 134.5h1M1 135.5h2M11 135.5h1M3 138.5h1M23 138.5h1M31 138.5h1M19 139.5h1M61 139.5h1"/>
</g>
<rect x="54.20" y="35.00" width="3.10" height="3.10" fill="#FFB300" />
<rect x="57.30" y="35.00" width="2.90" height="3.10" fill="#6495ED" />
<rect x="60.20" y="35.00" width="6.10" height="3.10" fill="#FFB300" />
<rect x="66.30" y="35.00" width="2.90" height="3.10" fill="#6495ED" />
<rect x="69.20" y="35.00" width="8.80" height="3.10" fill="#0000CD" />
<rect x="78.00" y="35.00" width="3.10" height="3.10" fill="#9932CC" />
<rect x="81.10" y="35.00" width="3.10" height="3.10" fill="#FFB300" />
<rect x="84.20" y="35.00" width="3.10" height="3.10" fill="#9932CC" />
<rect x="87.30" y="35.00" width="8.70" height="3.10" fill="#6495ED" />
<rect x="96.00" y="35.00" width="12.00" height="3.10" fill="#0000CD" />
<rect x="108.00" y="35.00" width="5.80" height="3.10" fill="#6495ED" />
<rect x="113.80" y="35.00" width="3.40" height="3.10" fill="#0000CD" />
<rect x="117.20" y="35.00" width="2.80" height="3.10" fill="#6495ED" />
<rect x="120.00" y="35.00" width="5.90" height="3.10" fill="#9932CC" />
<rect x="125.90" y="35.00" width="3.10" height="3.10" fill="#FFB300" />
<rect x="129.00" y="35.00" width="12.00" height="3.10" fill="#9932CC" />
<rect x="141.00" y="35.00" width="3.00" height="3.10" fill="#6495ED" />
<rect x="144.00" y="35.00" width="2.80" height="3.10" fill="#FFB300" />
<rect x="146.80" y="35.00" width="3.00" height="3.10" fill="#6495ED" />
<rect x="149.80" y="35.00" width="3.10" height="3.10" fill="#9932CC" />
<rect x="152.90" y="35.00" width="3.10" height="3.10" fill="#6495ED" />
<rect x="156.00" y="35.00" width="17.60" height="3.10" fill="#FFB300" />
<rect x="173.60" y="35.00" width="3.10" height="3.10" fill="#6495ED" />
<rect x="176.70" y="35.00" width="3.10" height="3.10" fill="#9932CC" />
<rect x="179.80" y="35.00" width="2.70" height="3.10" fill="#6495ED" />
<rect x="182.50" y="35.00" width="3.10" height="3.10" fill="#9932CC" />
<rect x="185.60" y="35.00" width="38.70" height="3.10" fill="#6495ED" />
<rect x="224.30" y="35.00" width="5.80" height="3.10" fill="#FFB300" />
<rect x="230.10" y="35.00" width="2.90" height="3.10" fill="#0000CD" />
<rect x="233.00" y="35.00" width="3.00" height="3.10" fill="#9932CC" />
<rect x="236.00" y="35.00" width="3.10" height="3.10" fill="#0000CD" />
<rect x="239.10" y="35.00" width="5.60" height="3.10" fill="#9932CC" />
<rect x="244.70" y="35.00" width="3.40" height="3.10" fill="#6495ED" />
<rect x="248.10" y="35.00" width="3.10" height="3.10" fill="#9932CC" />
<rect x="251.20" y="35.00" width="35.90" height="3.10" fill="#6495ED" />
<rect x="287.10" y="35.00" width="2.90" height="3.10" fill="#FFB300" />
<rect x="290.00" y="35.00" width="23.80" height="3.10" fill="#6495ED" />
<rect x="313.80" y="35.00" width="2.90" height="3.10" fill="#FFB300" />
<rect x="316.70" y="35.00" width="9.20" height="3.10" fill="#6495ED" />
<path d="M76.7 35.0V28.7H79.7V35.0M78.2 28.7V28.4H82.7V35.0M88.6 35.0V28.7H91.6V35.0M55.8 35.0V28.6H58.8V35.0M67.7 35.0V28.5H70.7V35.0M61.8 35.0V28.3H64.7V35.0M69.2 28.5V28.1H73.7V35.0M90.1 28.7V27.8H94.6V35.0M63.3 28.3V27.5H71.5V28.1M80.4 28.4V27.0H85.6V35.0M83.0 27.0V26.5H92.4V27.8M57.3 28.6V25.8H67.4V27.5M62.3 25.8V25.0H87.7V26.5M139.4 35.0V28.7H142.3V35.0M97.6 35.0V28.7H100.6V35.0M136.4 35.0V28.4H140.9V28.7M106.5 35.0V28.7H109.5V35.0M157.3 35.0V28.7H160.3V35.0M163.2 35.0V28.6H166.2V35.0M130.4 35.0V28.6H133.4V35.0M138.6 28.4V28.2H145.3V35.0M142.0 28.2V27.9H148.3V35.0M112.5 35.0V28.4H115.5V35.0M103.5 35.0V28.3H108.0V28.7M154.3 35.0V28.2H158.8V28.7M99.1 28.7V28.0H105.8V28.3M124.4 35.0V27.9H127.4V35.0M125.9 27.9V27.6H131.9V28.6M145.1 27.9V27.5H151.3V35.0M121.5 35.0V27.2H128.9V27.6M114.0 28.4V26.9H118.5V35.0M148.2 27.5V26.6H156.5V28.2M152.4 26.6V26.3H164.7V28.6M169.2 35.0V25.9H172.2V35.0M102.4 28.0V25.5H116.2V26.9M125.2 27.2V25.0H158.6V26.3M141.9 25.0V24.5H170.7V25.9M109.3 25.5V24.0H156.3V24.5M181.1 35.0V28.7H184.1V35.0M187.1 35.0V28.7H190.1V35.0M182.6 28.7V28.4H188.6V28.7M202.0 35.0V28.6H205.0V35.0M217.0 35.0V28.5H219.9V35.0M208.0 35.0V28.4H211.0V35.0M196.1 35.0V28.3H199.1V35.0M218.5 28.5V28.1H222.9V35.0M209.5 28.4V27.8H214.0V35.0M203.5 28.6V27.5H211.7V27.8M193.1 35.0V27.0H197.6V28.3M207.6 27.5V26.5H220.7V28.1M195.3 27.0V26.0H214.2V26.5M185.6 28.4V25.3H204.7V26.0M178.2 35.0V24.5H195.2V25.3M175.2 35.0V23.6H186.7V24.5M246.8 35.0V28.7H249.8V35.0M297.5 35.0V28.7H300.5V35.0M270.7 35.0V28.7H273.7V35.0M248.3 28.7V28.4H252.8V35.0M243.8 35.0V28.2H250.5V28.4M225.9 35.0V28.7H228.9V35.0M279.6 35.0V28.6H282.6V35.0M281.1 28.6V28.4H285.6V35.0M264.7 35.0V28.5H267.7V35.0M315.5 35.0V28.5H318.4V35.0M255.8 35.0V28.4H258.7V35.0M247.2 28.2V27.9H257.3V28.4M321.4 35.0V28.2H324.4V35.0M309.5 35.0V28.1H312.5V35.0M252.2 27.9V27.7H261.7V35.0M316.9 28.5V27.8H322.9V28.2M266.2 28.5V27.7H272.2V28.7M291.6 35.0V27.5H294.6V35.0M288.6 35.0V27.2H293.1V27.5M269.2 27.7V27.0H276.7V35.0M311.0 28.1V26.8H319.9V27.8M227.4 28.7V26.5H231.9V35.0M306.5 35.0V26.2H315.5V26.8M303.5 35.0V25.8H311.0V26.2M240.8 35.0V25.4H257.0V27.7M237.9 35.0V25.0H248.9V25.4M229.6 26.5V24.6H234.9V35.0M290.8 27.2V24.1H299.0V28.7M283.4 28.4V23.6H294.9V24.1M232.3 24.6V23.1H243.4V25.0M272.9 27.0V22.5H289.2V23.6M281.0 22.5V21.9H307.2V25.8M237.8 23.1V21.2H294.1V21.9M75.0 25.0V22.1H132.8V24.0M180.9 23.6V18.6H266.0V21.2M103.9 22.1V16.3H223.5V18.6" fill="none" stroke="#2a2a2a" stroke-width="0.7"/>
<g font-family='"Liberation Sans", sans-serif'>
<text x="99.00" y="15.94" font-size="9.0" text-anchor="middle" fill="#222" >1</text>
<text x="231.00" y="16.84" font-size="9.0" text-anchor="middle" fill="#222" >2</text>
</g>
<path d="M54.0 42.4H53.9V43.9H54.0M54.0 46.9H53.9V48.4H54.0M54.0 40.9H53.8V43.1H53.9M54.0 39.4H53.6V42.0H53.8M54.0 45.4H53.4V47.6H53.9M53.4 46.5H53.0V49.9H54.0M53.6 40.7H52.4V48.2H53.0M54.0 54.4H53.9V55.9H54.0M54.0 64.8H53.9V66.3H54.0M53.9 55.1H53.8V57.4H54.0M54.0 61.9H53.9V63.4H54.0M54.0 52.9H53.6V56.2H53.8M54.0 58.9H53.9V60.4H54.0M54.0 69.3H53.9V70.8H54.0M54.0 67.8H53.8V70.1H53.9M53.9 62.6H53.7V65.6H53.9M53.8 69.0H53.6V72.3H54.0M54.0 73.8H53.5V75.3H54.0M53.5 74.6H53.4V76.8H54.0M53.9 59.6H53.2V64.1H53.7M54.0 51.4H53.0V54.5H53.6M53.6 70.7H52.8V75.7H53.4M53.0 52.9H52.5V61.8H53.2M52.5 57.4H52.2V73.2H52.8M54.0 81.3H53.9V82.8H54.0M54.0 85.8H53.9V87.3H54.0M53.9 82.1H53.8V84.3H54.0M54.0 79.8H53.6V83.2H53.8M53.6 81.5H53.3V86.6H53.9M53.3 84.1H52.7V88.8H54.0M54.0 78.3H52.0V86.5H52.7M54.0 112.8H53.9V114.3H54.0M54.0 129.3H53.9V130.8H54.0M54.0 108.3H53.9V109.8H54.0M54.0 118.8H53.9V120.3H54.0M54.0 111.3H53.8V113.6H53.9M54.0 123.3H53.9V124.8H54.0M54.0 127.8H53.8V130.1H53.9M54.0 103.8H53.9V105.3H54.0M53.9 109.1H53.6V112.5H53.8M54.0 126.3H53.6V129.0H53.8M54.0 97.8H53.9V99.3H54.0M53.9 124.1H53.5V127.7H53.6M54.0 91.8H53.8V93.3H54.0M53.6 110.8H53.5V115.8H54.0M54.0 100.8H53.6V102.3H54.0M53.6 101.6H53.5V104.6H53.9M54.0 96.3H53.5V98.6H53.9M54.0 90.3H53.3V92.6H53.8M53.3 91.5H53.2V94.8H54.0M53.5 113.3H53.1V117.3H54.0M54.0 121.8H53.0V125.9H53.5M53.2 93.2H52.8V97.5H53.5M54.0 106.8H52.6V115.3H53.1M53.9 119.6H52.5V123.9H53.0M52.8 95.3H52.3V103.1H53.5M52.6 111.1H52.0V121.7H52.5M52.3 99.2H51.8V116.4H52.0M54.0 148.8H53.9V150.3H54.0M54.0 144.3H53.9V145.8H54.0M53.9 145.1H53.8V147.3H54.0M54.0 142.8H53.6V146.2H53.8M54.0 156.3H53.9V157.8H54.0M53.6 144.5H53.5V149.6H53.9M54.0 151.8H53.9V153.3H54.0M53.9 152.6H53.8V154.8H54.0M54.0 141.3H53.4V147.1H53.5M54.0 138.3H53.8V139.8H54.0M53.9 157.1H53.7V159.3H54.0M54.0 132.3H53.6V133.8H54.0M54.0 135.3H53.5V136.8H54.0M53.8 139.1H53.3V144.2H53.4M53.8 153.7H53.2V158.2H53.7M53.2 156.0H53.0V160.8H54.0M53.3 141.7H52.8V158.4H53.0M52.8 150.0H52.5V162.3H54.0M53.6 133.1H52.3V136.1H53.5M52.3 134.6H52.0V156.2H52.5M54.0 172.8H53.9V174.3H54.0M54.0 166.8H53.9V168.3H54.0M54.0 177.3H53.9V178.8H54.0M54.0 165.3H53.8V167.6H53.9M53.9 173.6H53.7V175.8H54.0M53.8 166.5H53.5V169.8H54.0M53.5 168.2H53.2V171.3H54.0M54.0 163.8H52.8V169.8H53.2M53.7 174.7H52.3V178.1H53.9M52.8 166.8H51.6V176.4H52.3M54.0 190.8H53.9V192.3H54.0M54.0 216.3H53.9V217.8H54.0M54.0 228.3H53.9V229.8H54.0M54.0 244.8H53.9V246.3H54.0M54.0 207.3H53.9V208.8H54.0M54.0 183.3H53.9V184.8H54.0M54.0 204.3H53.9V205.8H54.0M54.0 193.8H53.9V195.3H54.0M54.0 232.8H53.9V234.3H54.0M54.0 220.8H53.9V222.3H54.0M54.0 219.3H53.8V221.6H53.9M53.9 217.1H53.6V220.5H53.8M54.0 180.3H53.9V181.8H54.0M54.0 186.3H53.9V187.8H54.0M54.0 231.3H53.8V233.6H53.9M54.0 214.8H53.5V218.8H53.6M54.0 202.8H53.8V205.1H53.9M54.0 225.3H53.8V226.8H54.0M54.0 189.3H53.8V191.6H53.9M53.9 245.6H53.8V247.8H54.0M54.0 198.3H53.7V199.8H54.0M54.0 237.3H53.7V238.8H54.0M54.0 196.8H53.6V199.1H53.7M53.9 187.1H53.6V190.5H53.8M53.8 232.5H53.6V235.8H54.0M53.9 208.1H53.5V210.3H54.0M53.8 204.0H53.4V209.2H53.5M53.8 226.1H53.4V229.1H53.9M53.6 198.0H53.3V201.3H54.0M54.0 240.3H53.2V241.8H54.0M53.6 188.8H53.1V194.6H53.9M54.0 211.8H53.1V213.3H54.0M53.9 184.1H53.0V191.7H53.1M54.0 243.3H52.9V246.7H53.8M53.7 238.1H52.8V241.1H53.2M53.4 206.6H52.7V212.6H53.1M54.0 223.8H52.6V227.6H53.4M52.6 225.7H52.4V234.2H53.6M52.7 209.6H52.3V216.8H53.5M52.8 239.6H52.2V245.0H52.9M53.3 199.7H52.0V213.2H52.3M53.9 181.1H51.9V187.9H53.0M51.9 184.5H51.7V206.4H52.0M52.4 229.9H51.6V242.3H52.2M51.7 195.5H51.4V236.1H51.6M52.4 44.4H50.2V65.3H52.2M52.0 82.4H50.5V107.8H51.8M51.6 171.6H51.0V215.8H51.4M52.0 145.4H49.3V193.7H51.0M50.5 95.1H45.5V169.5H49.3M50.2 54.9H37.1V132.3H45.5" fill="none" stroke="#222" stroke-width="0.6"/>
<g font-family='"Liberation Sans", sans-serif'>
<rect x="327.00" y="38.90" width="4.00" height="22.40" fill="#A1D99B" />
<rect x="327.00" y="61.30" width="4.00" height="3.20" fill="#FFF6B8" />
<rect x="327.00" y="64.50" width="4.00" height="7.10" fill="#F58A55" />
<rect x="327.00" y="71.60" width="4.00" height="19.20" fill="#D9485A" />
<text x="333.30" y="41.94" font-size="9.0" text-anchor="start" fill="#222" >4</text>
<text x="333.30" y="53.94" font-size="9.0" text-anchor="start" fill="#222" >2</text>
<text x="333.30" y="66.44" font-size="9.0" text-anchor="start" fill="#222" >0</text>
<text x="331.60" y="79.04" font-size="9.0" text-anchor="start" fill="#222" >−2</text>
<text x="331.60" y="91.54" font-size="9.0" text-anchor="start" fill="#222" >−4</text>
<text x="334.40" y="116.70" font-size="9.2" text-anchor="start" fill="#222" >Cohort</text>
<rect x="334.10" y="122.00" width="9.90" height="9.60" fill="#7B4A9E" />
<text x="346.70" y="130.00" font-size="8.9" text-anchor="start" fill="#222" >CCC</text>
<rect x="334.10" y="131.60" width="9.90" height="9.60" fill="#F7B52C" />
<text x="346.70" y="139.60" font-size="8.9" text-anchor="start" fill="#222" >EC</text>
<rect x="334.10" y="141.20" width="9.90" height="9.60" fill="#6A8FCF" />
<text x="346.70" y="149.20" font-size="8.9" text-anchor="start" fill="#222" >HGSC</text>
<rect x="334.10" y="150.80" width="9.90" height="9.60" fill="#253F92" />
<text x="346.70" y="158.80" font-size="8.9" text-anchor="start" fill="#222" >MC</text>
</g>
<path d="M494.30,34.30 C494.52,35.25 495.07,37.85 495.60,40.00 C496.13,42.15 496.77,43.87 497.50,47.20 C498.23,50.53 499.30,55.15 500.00,60.00 C500.70,64.85 501.28,71.30 501.70,76.30 C502.12,81.30 502.37,85.38 502.50,90.00 C502.63,94.62 502.87,100.07 502.50,104.00 C502.13,107.93 501.37,110.03 500.30,113.60 C499.23,117.17 497.23,122.12 496.10,125.40 C494.97,128.68 494.07,129.47 493.50,133.30 C492.93,137.13 493.02,143.12 492.70,148.40 C492.38,153.68 491.80,159.73 491.60,165.00 C491.40,170.27 491.45,175.00 491.50,180.00 C491.55,185.00 491.73,190.57 491.90,195.00 C492.07,199.43 492.40,204.67 492.50,206.60 L482.10,206.60 C482.20,204.67 482.53,199.43 482.70,195.00 C482.87,190.57 483.05,185.00 483.10,180.00 C483.15,175.00 483.20,170.27 483.00,165.00 C482.80,159.73 482.22,153.68 481.90,148.40 C481.58,143.12 481.67,137.13 481.10,133.30 C480.53,129.47 479.63,128.68 478.50,125.40 C477.37,122.12 475.37,117.17 474.30,113.60 C473.23,110.03 472.47,107.93 472.10,104.00 C471.73,100.07 471.97,94.62 472.10,90.00 C472.23,85.38 472.48,81.30 472.90,76.30 C473.32,71.30 473.90,64.85 474.60,60.00 C475.30,55.15 476.37,50.53 477.10,47.20 C477.83,43.87 478.47,42.15 479.00,40.00 C479.53,37.85 480.08,35.25 480.30,34.30 Z" fill="#A98CC6" stroke="#6a6a6a" stroke-width="0.6"/>
<circle cx="485.2" cy="91.2" r="0.7" fill="#666" fill-opacity="0.6"/>
<circle cx="484.7" cy="145.6" r="0.7" fill="#666" fill-opacity="0.6"/>
<circle cx="486.5" cy="126.4" r="0.7" fill="#666" fill-opacity="0.6"/>
<circle cx="487.3" cy="46.9" r="0.7" fill="#666" fill-opacity="0.6"/>
<circle cx="486.9" cy="43.5" r="0.7" fill="#666" fill-opacity="0.6"/>
<circle cx="484.8" cy="48.9" r="0.7" fill="#666" fill-opacity="0.6"/>
<circle cx="489.3" cy="107.9" r="0.7" fill="#666" fill-opacity="0.6"/>
<circle cx="485.6" cy="57.9" r="0.7" fill="#666" fill-opacity="0.6"/>
<circle cx="490.0" cy="141.6" r="0.7" fill="#666" fill-opacity="0.6"/>
<circle cx="486.7" cy="133.3" r="0.7" fill="#666" fill-opacity="0.6"/>
<circle cx="484.6" cy="199.7" r="0.7" fill="#666" fill-opacity="0.6"/>
<circle cx="486.0" cy="180.1" r="0.7" fill="#666" fill-opacity="0.6"/>
<circle cx="485.0" cy="61.3" r="0.7" fill="#666" fill-opacity="0.6"/>
<circle cx="489.2" cy="88.6" r="0.7" fill="#666" fill-opacity="0.6"/>
<circle cx="487.8" cy="67.4" r="0.7" fill="#666" fill-opacity="0.6"/>
<rect x="470.8" y="76.3" width="32.80" height="56.80" fill="#fff" fill-opacity="0.7" stroke="#3a3a3a" stroke-width="1.1"/>
<rect x="463.7" y="102.40" width="47.30" height="2.4" fill="#000"/>
<path d="M541.90,36.30 C541.87,37.25 541.80,39.72 541.70,42.00 C541.60,44.28 541.38,47.05 541.30,50.00 C541.22,52.95 540.97,56.70 541.20,59.70 C541.43,62.70 542.12,65.12 542.70,68.00 C543.28,70.88 544.15,74.33 544.70,77.00 C545.25,79.67 545.90,81.83 546.00,84.00 C546.10,86.17 545.55,87.62 545.30,90.00 C545.05,92.38 544.18,95.80 544.50,98.30 C544.82,100.80 545.92,102.42 547.20,105.00 C548.48,107.58 550.98,111.02 552.20,113.80 C553.42,116.58 554.12,119.13 554.50,121.70 C554.88,124.27 555.13,126.70 554.50,129.20 C553.87,131.70 551.92,134.18 550.70,136.70 C549.48,139.22 548.20,141.85 547.20,144.30 C546.20,146.75 545.12,150.22 544.70,151.40 L534.70,151.40 C534.28,150.22 533.20,146.75 532.20,144.30 C531.20,141.85 529.92,139.22 528.70,136.70 C527.48,134.18 525.53,131.70 524.90,129.20 C524.27,126.70 524.52,124.27 524.90,121.70 C525.28,119.13 525.98,116.58 527.20,113.80 C528.42,111.02 530.92,107.58 532.20,105.00 C533.48,102.42 534.58,100.80 534.90,98.30 C535.22,95.80 534.35,92.38 534.10,90.00 C533.85,87.62 533.30,86.17 533.40,84.00 C533.50,81.83 534.15,79.67 534.70,77.00 C535.25,74.33 536.12,70.88 536.70,68.00 C537.28,65.12 537.97,62.70 538.20,59.70 C538.43,56.70 538.18,52.95 538.10,50.00 C538.02,47.05 537.80,44.28 537.70,42.00 C537.60,39.72 537.53,37.25 537.50,36.30 Z" fill="#F8C65E" stroke="#6a6a6a" stroke-width="0.6"/>
<circle cx="538.9" cy="109.0" r="0.7" fill="#666" fill-opacity="0.6"/>
<circle cx="537.1" cy="99.1" r="0.7" fill="#666" fill-opacity="0.6"/>
<circle cx="539.2" cy="45.8" r="0.7" fill="#666" fill-opacity="0.6"/>
<circle cx="539.3" cy="113.5" r="0.7" fill="#666" fill-opacity="0.6"/>
<circle cx="540.2" cy="73.6" r="0.7" fill="#666" fill-opacity="0.6"/>
<circle cx="538.5" cy="88.7" r="0.7" fill="#666" fill-opacity="0.6"/>
<circle cx="540.9" cy="126.0" r="0.7" fill="#666" fill-opacity="0.6"/>
<circle cx="539.9" cy="65.9" r="0.7" fill="#666" fill-opacity="0.6"/>
<circle cx="542.0" cy="96.6" r="0.7" fill="#666" fill-opacity="0.6"/>
<circle cx="538.4" cy="118.9" r="0.7" fill="#666" fill-opacity="0.6"/>
<circle cx="537.4" cy="146.2" r="0.7" fill="#666" fill-opacity="0.6"/>
<circle cx="541.2" cy="84.9" r="0.7" fill="#666" fill-opacity="0.6"/>
<circle cx="539.7" cy="55.9" r="0.7" fill="#666" fill-opacity="0.6"/>
<circle cx="540.0" cy="43.6" r="0.7" fill="#666" fill-opacity="0.6"/>
<circle cx="540.1" cy="122.7" r="0.7" fill="#666" fill-opacity="0.6"/>
<circle cx="538.6" cy="134.8" r="0.7" fill="#666" fill-opacity="0.6"/>
<rect x="523.0" y="98.7" width="33.40" height="30.60" fill="#fff" fill-opacity="0.7" stroke="#3a3a3a" stroke-width="1.1"/>
<rect x="516.0" y="112.70" width="46.90" height="2.4" fill="#000"/>
<path d="M598.50,41.50 C598.85,42.92 600.00,46.42 600.60,50.00 C601.20,53.58 601.77,57.83 602.10,63.00 C602.43,68.17 602.23,76.50 602.60,81.00 C602.97,85.50 603.60,86.83 604.30,90.00 C605.00,93.17 606.18,96.72 606.80,100.00 C607.42,103.28 608.33,106.37 608.00,109.70 C607.67,113.03 606.08,116.45 604.80,120.00 C603.52,123.55 601.63,127.33 600.30,131.00 C598.97,134.67 597.67,138.50 596.80,142.00 C595.93,145.50 595.43,148.17 595.10,152.00 C594.77,155.83 594.82,160.22 594.80,165.00 C594.78,169.78 594.97,178.08 595.00,180.70 L588.60,180.70 C588.63,178.08 588.82,169.78 588.80,165.00 C588.78,160.22 588.83,155.83 588.50,152.00 C588.17,148.17 587.67,145.50 586.80,142.00 C585.93,138.50 584.63,134.67 583.30,131.00 C581.97,127.33 580.08,123.55 578.80,120.00 C577.52,116.45 575.93,113.03 575.60,109.70 C575.27,106.37 576.18,103.28 576.80,100.00 C577.42,96.72 578.60,93.17 579.30,90.00 C580.00,86.83 580.63,85.50 581.00,81.00 C581.37,76.50 581.17,68.17 581.50,63.00 C581.83,57.83 582.40,53.58 583.00,50.00 C583.60,46.42 584.75,42.92 585.10,41.50 Z" fill="#9DB4DE" stroke="#6a6a6a" stroke-width="0.6"/>
<circle cx="592.4" cy="137.1" r="0.7" fill="#666" fill-opacity="0.6"/>
<circle cx="591.5" cy="121.7" r="0.7" fill="#666" fill-opacity="0.6"/>
<circle cx="593.8" cy="156.4" r="0.7" fill="#666" fill-opacity="0.6"/>
<circle cx="592.8" cy="107.6" r="0.7" fill="#666" fill-opacity="0.6"/>
<circle cx="593.0" cy="52.6" r="0.7" fill="#666" fill-opacity="0.6"/>
<circle cx="594.8" cy="130.7" r="0.7" fill="#666" fill-opacity="0.6"/>
<circle cx="590.8" cy="154.0" r="0.7" fill="#666" fill-opacity="0.6"/>
<circle cx="592.8" cy="95.9" r="0.7" fill="#666" fill-opacity="0.6"/>
<circle cx="591.6" cy="47.5" r="0.7" fill="#666" fill-opacity="0.6"/>
<circle cx="589.5" cy="66.9" r="0.7" fill="#666" fill-opacity="0.6"/>
<circle cx="593.4" cy="52.4" r="0.7" fill="#666" fill-opacity="0.6"/>
<circle cx="590.3" cy="61.7" r="0.7" fill="#666" fill-opacity="0.6"/>
<circle cx="594.0" cy="96.6" r="0.7" fill="#666" fill-opacity="0.6"/>
<circle cx="591.5" cy="55.2" r="0.7" fill="#666" fill-opacity="0.6"/>
<circle cx="594.1" cy="117.7" r="0.7" fill="#666" fill-opacity="0.6"/>
<circle cx="593.4" cy="153.6" r="0.7" fill="#666" fill-opacity="0.6"/>
<circle cx="591.3" cy="81.6" r="0.7" fill="#666" fill-opacity="0.6"/>
<circle cx="594.1" cy="92.3" r="0.7" fill="#666" fill-opacity="0.6"/>
<circle cx="590.3" cy="172.1" r="0.7" fill="#666" fill-opacity="0.6"/>
<circle cx="590.2" cy="68.0" r="0.7" fill="#666" fill-opacity="0.6"/>
<circle cx="591.7" cy="75.6" r="0.7" fill="#666" fill-opacity="0.6"/>
<circle cx="590.4" cy="123.0" r="0.7" fill="#666" fill-opacity="0.6"/>
<circle cx="591.3" cy="45.0" r="0.7" fill="#666" fill-opacity="0.6"/>
<circle cx="592.2" cy="93.7" r="0.7" fill="#666" fill-opacity="0.6"/>
<circle cx="592.6" cy="171.5" r="0.7" fill="#666" fill-opacity="0.6"/>
<circle cx="592.5" cy="113.2" r="0.7" fill="#666" fill-opacity="0.6"/>
<circle cx="589.1" cy="134.6" r="0.7" fill="#666" fill-opacity="0.6"/>
<circle cx="592.9" cy="164.3" r="0.7" fill="#666" fill-opacity="0.6"/>
<circle cx="593.0" cy="161.0" r="0.7" fill="#666" fill-opacity="0.6"/>
<circle cx="591.2" cy="96.8" r="0.7" fill="#666" fill-opacity="0.6"/>
<circle cx="592.6" cy="58.3" r="0.7" fill="#666" fill-opacity="0.6"/>
<circle cx="589.2" cy="52.8" r="0.7" fill="#666" fill-opacity="0.6"/>
<circle cx="589.8" cy="72.3" r="0.7" fill="#666" fill-opacity="0.6"/>
<circle cx="589.1" cy="89.8" r="0.7" fill="#666" fill-opacity="0.6"/>
<circle cx="589.7" cy="44.5" r="0.7" fill="#666" fill-opacity="0.6"/>
<circle cx="591.0" cy="58.0" r="0.7" fill="#666" fill-opacity="0.6"/>
<circle cx="594.0" cy="47.9" r="0.7" fill="#666" fill-opacity="0.6"/>
<circle cx="589.7" cy="126.3" r="0.7" fill="#666" fill-opacity="0.6"/>
<circle cx="590.9" cy="78.1" r="0.7" fill="#666" fill-opacity="0.6"/>
<circle cx="589.5" cy="93.0" r="0.7" fill="#666" fill-opacity="0.6"/>
<circle cx="593.9" cy="157.6" r="0.7" fill="#666" fill-opacity="0.6"/>
<circle cx="591.7" cy="106.6" r="0.7" fill="#666" fill-opacity="0.6"/>
<circle cx="589.4" cy="55.9" r="0.7" fill="#666" fill-opacity="0.6"/>
<circle cx="590.4" cy="90.1" r="0.7" fill="#666" fill-opacity="0.6"/>
<circle cx="590.3" cy="154.9" r="0.7" fill="#666" fill-opacity="0.6"/>
<circle cx="594.5" cy="47.6" r="0.7" fill="#666" fill-opacity="0.6"/>
<circle cx="589.7" cy="114.9" r="0.7" fill="#666" fill-opacity="0.6"/>
<circle cx="589.0" cy="116.9" r="0.7" fill="#666" fill-opacity="0.6"/>
<circle cx="594.7" cy="114.8" r="0.7" fill="#666" fill-opacity="0.6"/>
<circle cx="592.6" cy="159.5" r="0.7" fill="#666" fill-opacity="0.6"/>
<rect x="575.3" y="86.9" width="33.40" height="20.30" fill="#fff" fill-opacity="0.7" stroke="#3a3a3a" stroke-width="1.1"/>
<rect x="568.5" y="96.90" width="47.00" height="2.4" fill="#000"/>
<path d="M653.70,44.90 C653.92,46.92 654.58,52.90 655.00,57.00 C655.42,61.10 655.65,65.33 656.20,69.50 C656.75,73.67 657.80,77.75 658.30,82.00 C658.80,86.25 659.20,90.33 659.20,95.00 C659.20,99.67 658.80,105.00 658.30,110.00 C657.80,115.00 656.88,120.83 656.20,125.00 C655.52,129.17 654.80,132.03 654.20,135.00 C653.60,137.97 652.87,141.50 652.60,142.80 L635.40,142.80 C635.13,141.50 634.40,137.97 633.80,135.00 C633.20,132.03 632.48,129.17 631.80,125.00 C631.12,120.83 630.20,115.00 629.70,110.00 C629.20,105.00 628.80,99.67 628.80,95.00 C628.80,90.33 629.20,86.25 629.70,82.00 C630.20,77.75 631.25,73.67 631.80,69.50 C632.35,65.33 632.58,61.10 633.00,57.00 C633.42,52.90 634.08,46.92 634.30,44.90 Z" fill="#6E81C1" stroke="#6a6a6a" stroke-width="0.6"/>
<circle cx="643.2" cy="71.9" r="0.7" fill="#666" fill-opacity="0.6"/>
<circle cx="645.6" cy="63.3" r="0.7" fill="#666" fill-opacity="0.6"/>
<circle cx="645.7" cy="96.8" r="0.7" fill="#666" fill-opacity="0.6"/>
<circle cx="642.3" cy="78.2" r="0.7" fill="#666" fill-opacity="0.6"/>
<circle cx="646.9" cy="122.5" r="0.7" fill="#666" fill-opacity="0.6"/>
<circle cx="645.8" cy="126.3" r="0.7" fill="#666" fill-opacity="0.6"/>
<circle cx="645.4" cy="123.1" r="0.7" fill="#666" fill-opacity="0.6"/>
<circle cx="644.1" cy="68.7" r="0.7" fill="#666" fill-opacity="0.6"/>
<circle cx="641.2" cy="80.6" r="0.7" fill="#666" fill-opacity="0.6"/>
<circle cx="642.7" cy="50.5" r="0.7" fill="#666" fill-opacity="0.6"/>
<rect x="627.3" y="69.5" width="33.30" height="55.50" fill="#fff" fill-opacity="0.7" stroke="#3a3a3a" stroke-width="1.1"/>
<rect x="620.7" y="92.60" width="46.80" height="2.4" fill="#000"/>
<g font-family='"Liberation Sans", sans-serif'>
<line x1="452.70" y1="20.50" x2="452.70" y2="225.50" stroke="#555" stroke-width="1" />
<line x1="452.70" y1="225.50" x2="679.00" y2="225.50" stroke="#555" stroke-width="1" />
<line x1="448.90" y1="31.30" x2="452.70" y2="31.30" stroke="#555" stroke-width="1" />
<text x="446.90" y="34.97" font-size="10.2" text-anchor="end" fill="#222" textLength="14.9" lengthAdjust="spacingAndGlyphs">125</text>
<line x1="448.90" y1="58.00" x2="452.70" y2="58.00" stroke="#555" stroke-width="1" />
<text x="446.90" y="61.67" font-size="10.2" text-anchor="end" fill="#222" textLength="14.9" lengthAdjust="spacingAndGlyphs">115</text>
<line x1="448.90" y1="84.70" x2="452.70" y2="84.70" stroke="#555" stroke-width="1" />
<text x="446.90" y="88.37" font-size="10.2" text-anchor="end" fill="#222" textLength="14.9" lengthAdjust="spacingAndGlyphs">105</text>
<line x1="448.90" y1="111.40" x2="452.70" y2="111.40" stroke="#555" stroke-width="1" />
<text x="446.90" y="115.07" font-size="10.2" text-anchor="end" fill="#222" textLength="9.9" lengthAdjust="spacingAndGlyphs">95</text>
<line x1="448.90" y1="138.10" x2="452.70" y2="138.10" stroke="#555" stroke-width="1" />
<text x="446.90" y="141.77" font-size="10.2" text-anchor="end" fill="#222" textLength="9.9" lengthAdjust="spacingAndGlyphs">85</text>
<line x1="448.90" y1="164.80" x2="452.70" y2="164.80" stroke="#555" stroke-width="1" />
<text x="446.90" y="168.47" font-size="10.2" text-anchor="end" fill="#222" textLength="9.9" lengthAdjust="spacingAndGlyphs">75</text>
<line x1="448.90" y1="191.50" x2="452.70" y2="191.50" stroke="#555" stroke-width="1" />
<text x="446.90" y="195.17" font-size="10.2" text-anchor="end" fill="#222" textLength="9.9" lengthAdjust="spacingAndGlyphs">65</text>
<line x1="448.90" y1="218.20" x2="452.70" y2="218.20" stroke="#555" stroke-width="1" />
<text x="446.90" y="221.87" font-size="10.2" text-anchor="end" fill="#222" textLength="9.9" lengthAdjust="spacingAndGlyphs">55</text>
<line x1="487.20" y1="225.50" x2="487.20" y2="229.60" stroke="#555" stroke-width="1" />
<text x="487.20" y="241.00" font-size="10.0" text-anchor="middle" fill="#222" textLength="19.8" lengthAdjust="spacingAndGlyphs">CCC</text>
<line x1="539.70" y1="225.50" x2="539.70" y2="229.60" stroke="#555" stroke-width="1" />
<text x="539.70" y="241.00" font-size="10.0" text-anchor="middle" fill="#222" textLength="12.1" lengthAdjust="spacingAndGlyphs">EC</text>
<line x1="591.80" y1="225.50" x2="591.80" y2="229.60" stroke="#555" stroke-width="1" />
<text x="591.80" y="241.00" font-size="10.0" text-anchor="middle" fill="#222" textLength="26.5" lengthAdjust="spacingAndGlyphs">HGSC</text>
<line x1="643.90" y1="225.50" x2="643.90" y2="229.60" stroke="#555" stroke-width="1" />
<text x="643.90" y="241.00" font-size="10.0" text-anchor="middle" fill="#222" textLength="14.0" lengthAdjust="spacingAndGlyphs">MC</text>
<text x="568.00" y="258.20" font-size="10" text-anchor="middle" fill="#222" >Histotype</text>
<text transform="translate(427.3,117.6) rotate(-90)" font-size="9.85" text-anchor="middle" fill="#222">Number of CNA per sample</text>
</g>
<rect x="53.60" y="280.00" width="54.60" height="257.20" fill="#E3F0FC" />
<rect x="161.20" y="280.00" width="43.30" height="257.20" fill="#E3F0FC" />
<rect x="246.00" y="280.00" width="40.30" height="257.20" fill="#E3F0FC" />
<rect x="324.00" y="280.00" width="34.90" height="257.20" fill="#E3F0FC" />
<rect x="390.80" y="280.00" width="30.20" height="257.20" fill="#E3F0FC" />
<rect x="450.00" y="280.00" width="30.00" height="257.20" fill="#E3F0FC" />
<rect x="509.00" y="280.00" width="25.00" height="257.20" fill="#E3F0FC" />
<rect x="558.00" y="280.00" width="21.80" height="257.20" fill="#E3F0FC" />
<rect x="600.20" y="280.00" width="17.60" height="257.20" fill="#E3F0FC" />
<rect x="636.00" y="280.00" width="12.50" height="257.20" fill="#E3F0FC" />
<rect x="662.80" y="280.00" width="10.40" height="257.20" fill="#E3F0FC" />
<g font-family='"Liberation Sans", sans-serif'>
<text x="81.00" y="300.92" font-size="9.5" text-anchor="middle" fill="#222" >1</text>
<text x="133.40" y="300.92" font-size="9.5" text-anchor="middle" fill="#222" >2</text>
<text x="181.40" y="300.92" font-size="9.5" text-anchor="middle" fill="#222" >3</text>
<text x="224.40" y="300.92" font-size="9.5" text-anchor="middle" fill="#222" >4</text>
<text x="266.20" y="300.92" font-size="9.5" text-anchor="middle" fill="#222" >5</text>
<text x="305.50" y="300.92" font-size="9.5" text-anchor="middle" fill="#222" >6</text>
<text x="341.00" y="300.92" font-size="9.5" text-anchor="middle" fill="#222" >7</text>
<text x="374.00" y="300.92" font-size="9.5" text-anchor="middle" fill="#222" >8</text>
<text x="405.50" y="300.92" font-size="9.5" text-anchor="middle" fill="#222" >9</text>
<text x="437.10" y="300.92" font-size="9.5" text-anchor="middle" fill="#222" >10</text>
<text x="464.30" y="300.92" font-size="9.5" text-anchor="middle" fill="#222" >11</text>
<text x="494.40" y="300.92" font-size="9.5" text-anchor="middle" fill="#222" >12</text>
<text x="521.20" y="300.92" font-size="9.5" text-anchor="middle" fill="#222" >13</text>
<text x="545.50" y="300.92" font-size="9.5" text-anchor="middle" fill="#222" >14</text>
<text x="568.80" y="300.92" font-size="9.5" text-anchor="middle" fill="#222" >15</text>
<text x="590.20" y="300.92" font-size="9.5" text-anchor="middle" fill="#222" >16</text>
<text x="608.80" y="300.92" font-size="9.5" text-anchor="middle" fill="#222" >17</text>
<text x="626.70" y="300.92" font-size="9.5" text-anchor="middle" fill="#222" >18</text>
<text x="642.00" y="300.92" font-size="9.5" text-anchor="middle" fill="#222" >19</text>
<text x="655.70" y="300.92" font-size="9.5" text-anchor="middle" fill="#222" >20</text>
<text x="667.80" y="300.92" font-size="9.5" text-anchor="middle" fill="#222" >21</text>
<text x="678.90" y="300.92" font-size="9.5" text-anchor="middle" fill="#222" >22</text>
<text x="44.20" y="318.21" font-size="9.2" text-anchor="end" fill="#333" >100%</text>
<line x1="51.80" y1="315.20" x2="53.50" y2="315.20" stroke="#444" stroke-width="0.9" />
<text x="44.20" y="330.81" font-size="9.2" text-anchor="end" fill="#333" >50%</text>
<line x1="51.80" y1="327.80" x2="53.50" y2="327.80" stroke="#444" stroke-width="0.9" />
<text x="44.20" y="343.61" font-size="9.2" text-anchor="end" fill="#333" >0%</text>
<line x1="51.80" y1="340.60" x2="53.50" y2="340.60" stroke="#444" stroke-width="0.9" />
<text x="44.20" y="356.61" font-size="9.2" text-anchor="end" fill="#333" >50%</text>
<line x1="51.80" y1="353.60" x2="53.50" y2="353.60" stroke="#444" stroke-width="0.9" />
<text x="44.20" y="369.01" font-size="9.2" text-anchor="end" fill="#333" >100%</text>
<line x1="51.80" y1="366.00" x2="53.50" y2="366.00" stroke="#444" stroke-width="0.9" />
<text x="45.60" y="392.65" font-size="9.3" text-anchor="end" fill="#222" textLength="36.0" lengthAdjust="spacingAndGlyphs">CCC (15)</text>
<text x="45.60" y="434.95" font-size="9.3" text-anchor="end" fill="#222" textLength="29.3" lengthAdjust="spacingAndGlyphs">EC (16)</text>
<text x="45.60" y="477.25" font-size="9.3" text-anchor="end" fill="#222" textLength="42.6" lengthAdjust="spacingAndGlyphs">HGSC (50)</text>
<text x="45.60" y="519.75" font-size="9.3" text-anchor="end" fill="#222" textLength="32.2" lengthAdjust="spacingAndGlyphs">MC (10)</text>
</g>
<line x1="53.60" y1="315.30" x2="685.00" y2="315.30" stroke="#e9e9e9" stroke-width="0.8" />
<line x1="52.00" y1="328.20" x2="685.00" y2="328.20" stroke="#777" stroke-width="0.8" stroke-dasharray="1.6 1"/>
<line x1="53.60" y1="332.40" x2="685.00" y2="332.40" stroke="#505050" stroke-width="1.1" />
<line x1="52.00" y1="353.30" x2="685.00" y2="353.30" stroke="#777" stroke-width="0.8" stroke-dasharray="1.6 1"/>
<line x1="53.60" y1="349.50" x2="685.00" y2="349.50" stroke="#505050" stroke-width="1.1" />
<line x1="53.60" y1="340.50" x2="685.00" y2="340.50" stroke="#666" stroke-width="0.6" />
<line x1="53.60" y1="389.30" x2="685.00" y2="389.30" stroke="#666" stroke-width="0.6" />
<line x1="53.60" y1="431.60" x2="685.00" y2="431.60" stroke="#666" stroke-width="0.6" />
<line x1="53.60" y1="473.90" x2="685.00" y2="473.90" stroke="#666" stroke-width="0.6" />
<line x1="53.60" y1="516.40" x2="685.00" y2="516.40" stroke="#666" stroke-width="0.6" />
<rect x="51.30" y="367.90" width="1.90" height="41.80" fill="#66DD55" />
<rect x="51.30" y="409.70" width="1.90" height="42.70" fill="#5B9BEF" />
<rect x="51.30" y="452.40" width="1.90" height="42.80" fill="#F055E8" />
<rect x="51.30" y="495.20" width="1.90" height="42.20" fill="#F5A05A" />
<path d="M54.1 340.5v1.0M55.1 340.5v1.1M56.1 340.5v1.1M57.1 340.5v0.8M58.1 340.5v0.7M59.1 340.5v1.1M60.1 340.5v0.7M61.1 340.5v1.1M62.1 340.5v0.7M63.1 340.5v0.8M64.1 340.5v1.0M65.1 340.5v1.2M66.1 340.5v1.1M67.1 340.5v1.1M68.1 340.5v1.1M69.1 340.5v1.1M70.1 340.5v0.7M71.1 340.5v1.0M72.1 340.5v0.8M73.1 340.5v0.8M74.1 340.5v1.1M75.1 340.5v0.9M76.1 340.5v0.9M77.1 340.5v0.7M78.1 340.5v1.2M79.1 340.5v1.1M85.1 340.5v1.0M86.1 340.5v1.0M87.1 340.5v0.9M88.1 340.5v1.1M89.1 340.5v0.7M90.1 340.5v1.2M91.1 340.5v0.9M92.1 340.5v0.8M93.1 340.5v0.8M94.1 340.5v0.9M95.1 340.5v1.0M97.1 340.5v1.1M98.1 340.5v1.1M99.1 340.5v0.8M100.1 340.5v0.7M101.1 340.5v0.9M102.1 340.5v0.9M103.1 340.5v1.1M104.1 340.5v1.2M105.1 340.5v1.0M106.1 340.5v1.1M107.1 340.5v1.0M215.0 340.5v3.1M216.0 340.5v3.4M217.0 340.5v3.7M218.0 340.5v3.1M219.0 340.5v3.4M220.0 340.5v3.7M221.0 340.5v3.1M222.0 340.5v3.2M223.0 340.5v2.6M224.0 340.5v3.3M225.0 340.5v3.3M226.0 340.5v2.6M227.0 340.5v4.1M228.0 340.5v3.4M229.0 340.5v2.6M230.0 340.5v3.0M231.0 340.5v2.7M232.0 340.5v3.3M233.0 340.5v2.9M235.0 340.5v3.4M236.0 340.5v2.8M237.0 340.5v4.2M238.0 340.5v3.7M239.0 340.5v2.6M240.0 340.5v3.8M241.0 340.5v3.2M243.0 340.5v3.8M244.0 340.5v3.6M245.0 340.5v3.3M258.5 340.5v4.6M259.5 340.5v4.4M260.5 340.5v4.7M261.5 340.5v4.1M262.5 340.5v4.9M263.5 340.5v5.6M264.5 340.5v4.5M265.5 340.5v5.4M266.5 340.5v6.2M267.5 340.5v4.3M268.5 340.5v4.2M269.5 340.5v5.3M270.5 340.5v4.8M271.5 340.5v5.2M272.5 340.5v5.1M273.5 340.5v5.2M274.5 340.5v4.3M275.5 340.5v5.2M276.5 340.5v5.3M277.5 340.5v4.9M278.5 340.5v4.9M279.5 340.5v5.3M280.5 340.5v5.2M281.5 340.5v5.1M282.5 340.5v4.4M284.5 340.5v6.2M285.5 340.5v6.0M286.8 340.5v2.5M287.8 340.5v2.6M288.8 340.5v3.0M289.8 340.5v2.5M290.8 340.5v2.6M291.8 340.5v2.8M292.8 340.5v2.7M293.8 340.5v2.5M294.8 340.5v2.5M295.8 340.5v2.4M296.8 340.5v2.9M297.8 340.5v2.3M298.8 340.5v2.2M299.8 340.5v2.0M300.8 340.5v2.7M301.8 340.5v1.9M302.8 340.5v1.8M303.8 340.5v2.4M304.8 340.5v2.3M305.8 340.5v2.5M306.8 340.5v2.8M307.8 340.5v2.9M308.8 340.5v1.8M310.8 340.5v2.1M311.8 340.5v1.9M312.8 340.5v2.8M313.8 340.5v2.2M314.8 340.5v2.8M315.8 340.5v2.5M316.8 340.5v2.3M319.8 340.5v2.0M320.8 340.5v2.7M321.8 340.5v2.0M322.8 340.5v2.0M359.4 340.5v3.1M361.4 340.5v3.1M362.4 340.5v3.4M363.4 340.5v2.6M364.4 340.5v2.9M365.4 340.5v2.6M366.4 340.5v3.4M367.4 340.5v2.9M368.4 340.5v2.4M369.4 340.5v2.3" stroke="#E82A2A" stroke-width="1.05" fill="none"/>
<path d="M89.1 340.5v-1.4M98.1 340.5v-3.3M101.1 340.5v-9.8M120.7 340.5v-1.9M130.7 340.5v-1.2M135.7 340.5v-1.8M136.7 340.5v-3.1M140.7 340.5v-1.5M142.7 340.5v-1.2M143.7 340.5v-1.8M157.7 340.5v-2.4M162.7 340.5v-4.1M174.7 340.5v-2.8M191.7 340.5v-6.0M193.7 340.5v-1.0M198.7 340.5v-2.1M199.7 340.5v-1.9M208.0 340.5v-0.9M238.0 340.5v-0.7M239.0 340.5v-1.2M247.5 340.5v-0.9M254.5 340.5v-1.6M265.5 340.5v-0.8M291.8 340.5v-1.4M324.5 340.5v-2.0M330.5 340.5v-5.6M346.5 340.5v-3.5M347.5 340.5v-7.2M352.5 340.5v-1.2M358.5 340.5v-4.5M362.4 340.5v-2.0M379.4 340.5v-1.1M386.4 340.5v-2.5M395.3 340.5v-1.5M409.3 340.5v-1.3M418.3 340.5v-1.2M443.5 340.5v-2.5M451.5 340.5v-1.2M453.5 340.5v-2.4M457.5 340.5v-2.6M466.5 340.5v-4.9M468.5 340.5v-3.8M469.5 340.5v-4.9M470.5 340.5v-2.9M477.5 340.5v-3.4M480.5 340.5v-6.2M482.5 340.5v-9.0M489.5 340.5v-7.2M493.5 340.5v-2.2M500.5 340.5v-4.9M506.5 340.5v-6.3M516.5 340.5v-4.2M518.5 340.5v-16.2M524.5 340.5v-8.2M527.5 340.5v-5.5M530.5 340.5v-5.3M549.5 340.5v-2.6M551.5 340.5v-5.0M564.5 340.5v-6.5M578.5 340.5v-16.7M585.3 340.5v-7.8M587.3 340.5v-4.2M601.7 340.5v-4.0M607.7 340.5v-2.9M615.7 340.5v-13.9M616.7 340.5v-17.4M618.3 340.5v-5.5M619.3 340.5v-2.4M620.3 340.5v-2.7M633.3 340.5v-6.8M635.3 340.5v-6.8M636.5 340.5v-1.8M639.5 340.5v-7.3M642.5 340.5v-3.1M649.0 340.5v-17.3M676.7 340.5v-5.2M54.1 340.5v-8.0" stroke="#8C8CF4" stroke-width="0.85" fill="none"/>
<path d="M54.1 340.5v-1.6M58.1 340.5v-1.2M64.1 340.5v-1.5M68.1 340.5v-2.9M72.1 340.5v-2.2M78.1 340.5v-1.3M79.1 340.5v-1.2M85.1 340.5v-9.8M86.1 340.5v-3.3M90.1 340.5v-1.4M92.1 340.5v-1.9M99.1 340.5v-3.6M100.1 340.5v-8.3M106.1 340.5v-1.7M108.7 340.5v-2.7M119.7 340.5v-1.8M125.7 340.5v-1.6M137.7 340.5v-2.0M150.7 340.5v-1.1M158.7 340.5v-1.5M159.7 340.5v-1.4M164.7 340.5v-1.3M176.7 340.5v-3.5M177.7 340.5v-2.7M179.7 340.5v-1.6M182.7 340.5v-1.1M186.7 340.5v-1.5M196.7 340.5v-6.4M197.7 340.5v-1.6M200.7 340.5v-8.4M203.7 340.5v-2.0M215.0 340.5v-1.1M226.0 340.5v-1.0M228.0 340.5v-0.9M229.0 340.5v-1.0M245.0 340.5v-1.0M248.5 340.5v-0.6M252.5 340.5v-3.5M259.5 340.5v-1.5M270.5 340.5v-1.2M274.5 340.5v-2.1M276.5 340.5v-1.3M278.5 340.5v-4.6M279.5 340.5v-1.4M299.8 340.5v-1.7M302.8 340.5v-1.2M309.8 340.5v-1.5M313.8 340.5v-1.1M314.8 340.5v-2.9M315.8 340.5v-2.0M318.8 340.5v-4.4M325.5 340.5v-5.8M331.5 340.5v-1.4M334.5 340.5v-1.7M335.5 340.5v-1.0M338.5 340.5v-1.6M340.5 340.5v-12.4M341.5 340.5v-3.1M356.5 340.5v-4.4M359.4 340.5v-2.6M367.4 340.5v-1.6M368.4 340.5v-1.6M369.4 340.5v-1.4M374.4 340.5v-3.6M375.4 340.5v-4.1M376.4 340.5v-4.0M377.4 340.5v-3.1M380.4 340.5v-1.9M383.4 340.5v-2.5M385.4 340.5v-2.2M389.4 340.5v-1.2M394.3 340.5v-2.4M398.3 340.5v-1.7M406.3 340.5v-1.1M407.3 340.5v-3.1M413.3 340.5v-5.3M414.3 340.5v-1.5M415.3 340.5v-1.9M424.5 340.5v-3.0M425.5 340.5v-1.9M428.5 340.5v-10.3M433.5 340.5v-3.4M437.5 340.5v-0.9M439.5 340.5v-1.3M440.5 340.5v-8.7M441.5 340.5v-1.7M446.5 340.5v-2.5M448.5 340.5v-1.8M449.5 340.5v-2.6M450.5 340.5v-1.5M452.5 340.5v-1.4M458.5 340.5v-2.4M462.5 340.5v-3.3M463.5 340.5v-1.5M475.5 340.5v-1.4M481.5 340.5v-2.7M484.5 340.5v-6.1M486.5 340.5v-11.0M495.5 340.5v-7.1M496.5 340.5v-4.5M497.5 340.5v-15.8M498.5 340.5v-13.9M501.5 340.5v-15.8M502.5 340.5v-5.4M503.5 340.5v-8.2M504.5 340.5v-12.9M505.5 340.5v-4.1M507.5 340.5v-13.7M513.5 340.5v-7.5M514.5 340.5v-5.5M515.5 340.5v-4.2M519.5 340.5v-6.9M520.5 340.5v-4.2M521.5 340.5v-8.1M526.5 340.5v-6.7M528.5 340.5v-2.1M529.5 340.5v-1.5M531.5 340.5v-5.2M533.5 340.5v-10.3M538.5 340.5v-3.5M539.5 340.5v-2.2M540.5 340.5v-3.2M541.5 340.5v-9.7M543.5 340.5v-9.5M550.5 340.5v-6.6M553.5 340.5v-4.7M555.5 340.5v-5.9M557.5 340.5v-7.3M561.5 340.5v-16.0M562.5 340.5v-3.9M565.5 340.5v-16.9M567.5 340.5v-4.3M568.5 340.5v-6.8M569.5 340.5v-4.7M572.5 340.5v-2.1M573.5 340.5v-1.6M575.5 340.5v-2.5M576.5 340.5v-2.2M580.3 340.5v-3.3M583.3 340.5v-5.6M586.3 340.5v-5.2M590.3 340.5v-3.6M591.3 340.5v-3.7M593.3 340.5v-16.5M595.3 340.5v-16.6M596.3 340.5v-4.5M598.3 340.5v-3.0M599.3 340.5v-3.0M605.7 340.5v-7.8M606.7 340.5v-5.0M609.7 340.5v-1.5M613.7 340.5v-7.6M614.7 340.5v-17.2M623.3 340.5v-4.6M625.3 340.5v-8.4M626.3 340.5v-14.6M627.3 340.5v-10.1M628.3 340.5v-13.0M629.3 340.5v-9.6M631.3 340.5v-3.0M640.5 340.5v-8.3M641.5 340.5v-9.6M643.5 340.5v-8.4M644.5 340.5v-6.5M646.5 340.5v-4.4M647.5 340.5v-3.2M654.0 340.5v-3.2M657.0 340.5v-3.3M660.0 340.5v-7.0M661.0 340.5v-6.4M662.0 340.5v-15.6M668.3 340.5v-3.7M669.3 340.5v-1.4M672.3 340.5v-1.3M678.7 340.5v-8.6M679.7 340.5v-8.6M680.7 340.5v-8.1M681.7 340.5v-7.9M682.7 340.5v-4.5M67.5 340.5v-8.5M72.5 340.5v-8.0M91.5 340.5v-15.5M95.5 340.5v-10.0M99.5 340.5v-11.0M102.5 340.5v-9.5M110.5 340.5v-10.5M124.5 340.5v-9.5M128.5 340.5v-17.5M168.5 340.5v-14.5M174.5 340.5v-8.0M190.5 340.5v-9.0M199.5 340.5v-10.0M208.5 340.5v-13.0M259.5 340.5v-15.5M291.5 340.5v-14.5M327.5 340.5v-14.0M330.5 340.5v-15.0M347.5 340.5v-16.0M343.5 340.5v-9.0M425.5 340.5v-20.0M450.5 340.5v-11.0M485.5 340.5v-14.0M490.5 340.5v-17.0M496.5 340.5v-12.0" stroke="#2828EE" stroke-width="0.85" fill="none"/>
<path d="M56.1 340.5v1.1M58.1 340.5v1.1M61.1 340.5v2.6M62.1 340.5v2.9M73.1 340.5v1.5M74.1 340.5v1.4M75.1 340.5v2.0M76.1 340.5v1.5M87.1 340.5v1.3M89.1 340.5v3.6M90.1 340.5v1.5M93.1 340.5v1.5M98.1 340.5v1.3M103.1 340.5v2.1M110.7 340.5v0.6M113.7 340.5v0.7M114.7 340.5v0.6M122.7 340.5v0.7M127.7 340.5v1.8M130.7 340.5v1.2M136.7 340.5v1.1M137.7 340.5v1.1M139.7 340.5v1.6M144.7 340.5v0.9M147.7 340.5v5.2M153.7 340.5v1.6M157.7 340.5v0.9M167.7 340.5v1.0M170.7 340.5v1.3M174.7 340.5v1.5M175.7 340.5v2.6M183.7 340.5v1.4M188.7 340.5v1.3M193.7 340.5v0.9M194.7 340.5v1.1M195.7 340.5v1.0M197.7 340.5v1.4M210.0 340.5v2.2M213.0 340.5v1.5M215.0 340.5v2.2M217.0 340.5v7.2M231.0 340.5v1.6M237.0 340.5v2.9M239.0 340.5v2.2M241.0 340.5v2.0M242.0 340.5v2.2M252.5 340.5v0.8M253.5 340.5v1.0M255.5 340.5v11.1M258.5 340.5v1.8M262.5 340.5v2.9M266.5 340.5v2.0M267.5 340.5v2.0M268.5 340.5v2.6M269.5 340.5v1.5M271.5 340.5v2.3M274.5 340.5v1.2M277.5 340.5v1.3M283.5 340.5v2.5M287.8 340.5v0.8M290.8 340.5v1.1M293.8 340.5v0.9M298.8 340.5v0.8M306.8 340.5v1.4M313.8 340.5v2.2M330.5 340.5v1.5M337.5 340.5v1.1M347.5 340.5v1.7M352.5 340.5v1.8M353.5 340.5v7.3M358.5 340.5v1.1M359.4 340.5v1.4M362.4 340.5v1.2M367.4 340.5v1.5M370.4 340.5v0.9M373.4 340.5v1.3M374.4 340.5v2.3M384.4 340.5v1.9M387.4 340.5v1.4M397.3 340.5v1.0M399.3 340.5v1.2M408.3 340.5v1.5M415.3 340.5v1.9M418.3 340.5v1.9M419.3 340.5v2.7M438.5 340.5v1.2M440.5 340.5v1.4M456.5 340.5v1.2M460.5 340.5v1.8M464.5 340.5v1.7M467.5 340.5v1.2M470.5 340.5v1.5M471.5 340.5v1.4M476.5 340.5v1.4M477.5 340.5v1.8M488.5 340.5v1.8M496.5 340.5v0.8M519.5 340.5v1.1M533.5 340.5v0.8M539.5 340.5v1.8M548.5 340.5v1.0M564.5 340.5v0.7M580.3 340.5v0.7M594.3 340.5v2.5M596.3 340.5v0.8M606.7 340.5v2.3M607.7 340.5v0.9M609.7 340.5v1.2M614.7 340.5v1.1M616.7 340.5v1.7M623.3 340.5v0.9M629.3 340.5v1.1M630.3 340.5v0.8M639.5 340.5v2.0M641.5 340.5v2.1M642.5 340.5v1.1M645.5 340.5v1.5M54.1 340.5v21.0" stroke="#F59898" stroke-width="0.85" fill="none"/>
<path d="M54.1 340.5v1.1M60.1 340.5v1.7M65.1 340.5v1.3M67.1 340.5v0.9M68.1 340.5v1.1M77.1 340.5v2.6M78.1 340.5v2.6M79.1 340.5v2.8M86.1 340.5v1.9M92.1 340.5v2.1M95.1 340.5v0.9M97.1 340.5v0.8M99.1 340.5v1.5M100.1 340.5v1.3M104.1 340.5v2.0M106.1 340.5v3.3M107.1 340.5v2.6M115.7 340.5v0.9M116.7 340.5v0.9M119.7 340.5v1.1M120.7 340.5v0.9M123.7 340.5v1.4M125.7 340.5v1.2M129.7 340.5v2.4M131.7 340.5v1.7M132.7 340.5v1.9M135.7 340.5v1.4M149.7 340.5v1.0M154.7 340.5v2.1M156.7 340.5v1.4M158.7 340.5v3.7M161.7 340.5v1.4M164.7 340.5v1.0M172.7 340.5v1.2M176.7 340.5v1.6M177.7 340.5v2.7M179.7 340.5v1.5M182.7 340.5v1.3M184.7 340.5v1.7M189.7 340.5v1.3M190.7 340.5v1.4M199.7 340.5v1.0M209.0 340.5v2.4M214.0 340.5v1.6M216.0 340.5v1.7M218.0 340.5v1.4M219.0 340.5v1.2M220.0 340.5v1.1M222.0 340.5v1.0M226.0 340.5v1.3M229.0 340.5v2.4M232.0 340.5v1.2M238.0 340.5v2.6M245.0 340.5v0.9M246.5 340.5v2.6M247.5 340.5v2.2M250.5 340.5v0.7M259.5 340.5v2.9M260.5 340.5v3.4M261.5 340.5v3.0M263.5 340.5v3.7M272.5 340.5v1.1M273.5 340.5v1.9M275.5 340.5v1.5M276.5 340.5v2.3M282.5 340.5v1.4M285.5 340.5v12.6M289.8 340.5v0.9M294.8 340.5v1.2M302.8 340.5v2.6M304.8 340.5v2.4M305.8 340.5v8.3M307.8 340.5v2.1M312.8 340.5v1.2M315.8 340.5v2.8M316.8 340.5v2.2M318.8 340.5v2.7M320.8 340.5v1.5M328.5 340.5v2.9M329.5 340.5v1.6M332.5 340.5v0.7M336.5 340.5v0.9M340.5 340.5v1.1M341.5 340.5v1.2M351.5 340.5v1.2M354.5 340.5v1.6M355.5 340.5v1.2M357.5 340.5v0.9M363.4 340.5v1.2M364.4 340.5v1.7M365.4 340.5v1.5M366.4 340.5v9.7M369.4 340.5v1.3M371.4 340.5v1.4M372.4 340.5v1.7M376.4 340.5v1.3M377.4 340.5v7.1M381.4 340.5v2.0M382.4 340.5v2.3M383.4 340.5v3.5M385.4 340.5v1.7M386.4 340.5v1.6M389.4 340.5v1.4M390.4 340.5v1.4M391.3 340.5v1.5M392.3 340.5v2.8M409.3 340.5v0.8M410.3 340.5v1.4M424.5 340.5v0.9M430.5 340.5v1.5M431.5 340.5v0.9M439.5 340.5v1.4M452.5 340.5v0.7M459.5 340.5v1.0M463.5 340.5v1.9M468.5 340.5v1.0M469.5 340.5v1.6M473.5 340.5v1.9M474.5 340.5v4.5M475.5 340.5v1.5M482.5 340.5v0.8M492.5 340.5v1.3M495.5 340.5v1.0M500.5 340.5v1.1M501.5 340.5v1.2M504.5 340.5v1.5M505.5 340.5v0.8M517.5 340.5v2.1M521.5 340.5v0.9M540.5 340.5v1.2M546.5 340.5v0.8M566.5 340.5v1.0M573.5 340.5v0.8M575.5 340.5v1.0M592.3 340.5v1.6M601.7 340.5v1.3M604.7 340.5v3.6M608.7 340.5v1.1M611.7 340.5v4.0M615.7 340.5v1.3M626.3 340.5v1.1M637.5 340.5v5.6M653.0 340.5v1.1M667.3 340.5v1.0M677.7 340.5v0.9M683.7 340.5v1.1M59.5 340.5v6.5M62.5 340.5v9.5M90.5 340.5v6.0M183.5 340.5v20.5M189.5 340.5v7.0M195.5 340.5v7.0M246.5 340.5v10.0M264.5 340.5v16.5M292.5 340.5v17.0M294.5 340.5v10.0M319.5 340.5v8.0M391.5 340.5v12.0M425.5 340.5v10.0M437.5 340.5v9.0M450.5 340.5v17.0M485.5 340.5v10.0M505.5 340.5v9.0M547.5 340.5v11.0M558.5 340.5v10.0M628.5 340.5v16.0M636.5 340.5v16.0" stroke="#E82A2A" stroke-width="0.85" fill="none"/>
<path d="M54.1 389.3v0.4M55.1 389.3v0.4M57.1 389.3v0.4M58.1 389.3v0.6M59.1 389.3v0.4M60.1 389.3v0.4M61.1 389.3v0.5M62.1 389.3v0.5M63.1 389.3v0.5M64.1 389.3v0.6M65.1 389.3v0.6M66.1 389.3v0.4M67.1 389.3v0.4M68.1 389.3v0.6M69.1 389.3v0.5M70.1 389.3v0.6M71.1 389.3v0.4M72.1 389.3v0.4M73.1 389.3v0.4M74.1 389.3v0.5M75.1 389.3v0.5M76.1 389.3v0.5M77.1 389.3v0.5M78.1 389.3v0.4M79.1 389.3v0.4M85.1 389.3v0.4M86.1 389.3v0.4M87.1 389.3v0.6M88.1 389.3v0.5M89.1 389.3v0.4M90.1 389.3v0.5M91.1 389.3v0.6M92.1 389.3v0.6M93.1 389.3v0.5M94.1 389.3v0.6M95.1 389.3v0.4M96.1 389.3v0.6M97.1 389.3v0.4M98.1 389.3v0.4M99.1 389.3v0.4M100.1 389.3v0.6M101.1 389.3v0.5M102.1 389.3v0.5M104.1 389.3v0.5M105.1 389.3v0.6M106.1 389.3v0.6M107.1 389.3v0.4M205.0 389.3v0.8M206.0 389.3v1.1M207.0 389.3v1.1M208.0 389.3v1.0M209.0 389.3v0.8M210.0 389.3v0.7M211.0 389.3v0.9M212.0 389.3v0.9M213.0 389.3v1.0M214.0 389.3v0.8M215.0 389.3v0.7M216.0 389.3v1.2M217.0 389.3v1.1M218.0 389.3v0.9M219.0 389.3v0.9M220.0 389.3v1.2M221.0 389.3v0.9M222.0 389.3v0.9M223.0 389.3v1.0M224.0 389.3v1.2M226.0 389.3v1.0M227.0 389.3v0.7M228.0 389.3v0.9M229.0 389.3v1.0M230.0 389.3v1.1M231.0 389.3v0.8M232.0 389.3v0.8M233.0 389.3v1.0M234.0 389.3v0.8M235.0 389.3v1.1M236.0 389.3v1.0M237.0 389.3v1.2M238.0 389.3v1.1M239.0 389.3v0.8M240.0 389.3v0.9M241.0 389.3v0.8M242.0 389.3v1.0M243.0 389.3v0.8M244.0 389.3v0.9M245.0 389.3v1.2M246.5 389.3v1.1M248.5 389.3v1.5M249.5 389.3v1.3M250.5 389.3v1.1M251.5 389.3v1.5M252.5 389.3v1.4M253.5 389.3v1.4M254.5 389.3v1.2M255.5 389.3v1.4M256.5 389.3v1.8M257.5 389.3v1.6M258.5 389.3v1.4M259.5 389.3v1.6M260.5 389.3v1.1M261.5 389.3v1.2M262.5 389.3v1.2M263.5 389.3v1.4M264.5 389.3v1.5M266.5 389.3v1.5M267.5 389.3v1.2M268.5 389.3v1.7M269.5 389.3v1.1M270.5 389.3v1.2M271.5 389.3v1.2M272.5 389.3v1.8M273.5 389.3v1.7M274.5 389.3v1.4M275.5 389.3v1.3M276.5 389.3v1.5M277.5 389.3v1.2M278.5 389.3v1.2M279.5 389.3v1.5M280.5 389.3v1.5M281.5 389.3v1.2M282.5 389.3v1.1M283.5 389.3v1.7M284.5 389.3v1.4M285.5 389.3v1.5M286.8 389.3v1.0M287.8 389.3v0.9M288.8 389.3v0.8M289.8 389.3v0.7M290.8 389.3v1.0M292.8 389.3v0.7M293.8 389.3v0.7M294.8 389.3v1.1M295.8 389.3v0.7M296.8 389.3v1.1M297.8 389.3v1.1M298.8 389.3v0.8M299.8 389.3v0.7M300.8 389.3v0.8M301.8 389.3v1.1M302.8 389.3v1.1M303.8 389.3v0.7M304.8 389.3v1.1M305.8 389.3v0.9M306.8 389.3v0.9M307.8 389.3v1.0M308.8 389.3v0.8M309.8 389.3v1.0M310.8 389.3v0.8M311.8 389.3v0.8M312.8 389.3v1.0M313.8 389.3v0.8M314.8 389.3v0.9M315.8 389.3v1.0M316.8 389.3v1.2M317.8 389.3v0.7M318.8 389.3v0.8M319.8 389.3v1.0M320.8 389.3v1.1M321.8 389.3v1.0M322.8 389.3v0.8" stroke="#E82A2A" stroke-width="1.05" fill="none"/>
<path d="M55.1 389.3v-1.8M59.1 389.3v-4.1M71.1 389.3v-1.5M72.1 389.3v-3.5M92.1 389.3v-1.0M99.1 389.3v-3.1M113.7 389.3v-1.0M119.7 389.3v-7.9M124.7 389.3v-1.5M132.7 389.3v-2.1M135.7 389.3v-1.7M157.7 389.3v-1.7M162.7 389.3v-1.1M163.7 389.3v-1.8M177.7 389.3v-2.6M179.7 389.3v-1.8M186.7 389.3v-1.7M192.7 389.3v-1.4M203.7 389.3v-1.3M221.0 389.3v-1.4M225.0 389.3v-2.0M245.0 389.3v-0.9M248.5 389.3v-1.2M251.5 389.3v-0.8M255.5 389.3v-6.6M257.5 389.3v-1.1M259.5 389.3v-1.1M293.8 389.3v-1.3M295.8 389.3v-1.0M308.8 389.3v-1.4M338.5 389.3v-3.8M349.5 389.3v-0.9M361.4 389.3v-8.4M363.4 389.3v-4.3M411.3 389.3v-1.6M412.3 389.3v-1.9M430.5 389.3v-1.8M437.5 389.3v-3.4M440.5 389.3v-2.8M441.5 389.3v-2.0M443.5 389.3v-3.9M447.5 389.3v-1.6M459.5 389.3v-3.6M460.5 389.3v-2.6M462.5 389.3v-1.1M464.5 389.3v-1.0M473.5 389.3v-2.8M474.5 389.3v-2.0M482.5 389.3v-7.1M486.5 389.3v-8.3M487.5 389.3v-5.3M497.5 389.3v-5.3M502.5 389.3v-10.0M507.5 389.3v-6.7M515.5 389.3v-7.3M518.5 389.3v-6.2M520.5 389.3v-5.1M523.5 389.3v-12.0M524.5 389.3v-13.2M529.5 389.3v-3.5M531.5 389.3v-3.4M541.5 389.3v-10.5M547.5 389.3v-7.8M552.5 389.3v-4.6M562.5 389.3v-7.3M567.5 389.3v-10.6M569.5 389.3v-8.4M573.5 389.3v-2.8M574.5 389.3v-6.1M575.5 389.3v-10.2M581.3 389.3v-8.8M582.3 389.3v-18.1M591.3 389.3v-17.3M595.3 389.3v-3.5M604.7 389.3v-14.2M606.7 389.3v-8.2M612.7 389.3v-14.6M613.7 389.3v-11.7M625.3 389.3v-3.3M639.5 389.3v-4.7M640.5 389.3v-4.0M658.0 389.3v-12.3M660.0 389.3v-15.4M662.0 389.3v-15.7M671.3 389.3v-6.8M678.7 389.3v-3.4M682.7 389.3v-4.1M54.1 389.3v-15.0" stroke="#8C8CF4" stroke-width="0.85" fill="none"/>
<path d="M57.1 389.3v-3.6M58.1 389.3v-2.6M79.1 389.3v-1.1M87.1 389.3v-0.8M88.1 389.3v-1.2M91.1 389.3v-1.5M93.1 389.3v-1.3M94.1 389.3v-5.0M95.1 389.3v-2.1M98.1 389.3v-9.6M109.7 389.3v-1.3M111.7 389.3v-1.4M114.7 389.3v-2.2M116.7 389.3v-2.0M129.7 389.3v-0.8M133.7 389.3v-2.6M136.7 389.3v-9.3M148.7 389.3v-1.0M152.7 389.3v-2.0M153.7 389.3v-1.8M171.7 389.3v-1.2M178.7 389.3v-1.2M194.7 389.3v-1.5M195.7 389.3v-1.4M198.7 389.3v-2.4M201.7 389.3v-6.7M206.0 389.3v-0.8M211.0 389.3v-1.1M219.0 389.3v-1.0M220.0 389.3v-1.0M223.0 389.3v-1.6M246.5 389.3v-1.3M253.5 389.3v-1.1M260.5 389.3v-1.7M261.5 389.3v-1.6M266.5 389.3v-0.9M272.5 389.3v-1.2M275.5 389.3v-4.7M285.5 389.3v-5.7M298.8 389.3v-1.8M305.8 389.3v-2.5M306.8 389.3v-3.9M311.8 389.3v-1.2M313.8 389.3v-1.3M318.8 389.3v-1.8M326.5 389.3v-2.9M327.5 389.3v-2.4M328.5 389.3v-6.1M329.5 389.3v-3.6M332.5 389.3v-1.9M333.5 389.3v-3.0M335.5 389.3v-2.5M336.5 389.3v-3.1M337.5 389.3v-5.0M341.5 389.3v-2.0M345.5 389.3v-1.8M346.5 389.3v-1.9M348.5 389.3v-7.7M352.5 389.3v-13.4M359.4 389.3v-4.9M360.4 389.3v-4.1M364.4 389.3v-3.8M365.4 389.3v-2.7M366.4 389.3v-2.2M368.4 389.3v-1.2M371.4 389.3v-1.6M373.4 389.3v-2.8M374.4 389.3v-3.1M375.4 389.3v-2.0M382.4 389.3v-1.8M384.4 389.3v-1.4M387.4 389.3v-9.4M388.4 389.3v-1.8M389.4 389.3v-3.1M390.4 389.3v-2.4M394.3 389.3v-1.1M395.3 389.3v-0.9M396.3 389.3v-1.2M399.3 389.3v-2.0M413.3 389.3v-1.9M414.3 389.3v-1.4M420.3 389.3v-1.1M422.5 389.3v-9.9M423.5 389.3v-1.8M425.5 389.3v-1.8M427.5 389.3v-9.9M434.5 389.3v-1.7M442.5 389.3v-3.5M445.5 389.3v-3.0M450.5 389.3v-9.1M453.5 389.3v-12.9M454.5 389.3v-3.8M455.5 389.3v-2.5M457.5 389.3v-4.6M470.5 389.3v-4.0M472.5 389.3v-3.6M478.5 389.3v-1.6M481.5 389.3v-5.3M489.5 389.3v-7.3M491.5 389.3v-15.6M492.5 389.3v-8.9M493.5 389.3v-12.7M494.5 389.3v-5.6M495.5 389.3v-10.2M498.5 389.3v-13.4M499.5 389.3v-9.7M500.5 389.3v-15.9M501.5 389.3v-14.3M503.5 389.3v-16.1M505.5 389.3v-6.9M506.5 389.3v-9.4M514.5 389.3v-18.0M516.5 389.3v-5.9M519.5 389.3v-7.8M521.5 389.3v-7.8M525.5 389.3v-9.1M526.5 389.3v-12.6M528.5 389.3v-17.5M530.5 389.3v-2.7M533.5 389.3v-6.4M538.5 389.3v-14.6M544.5 389.3v-9.5M545.5 389.3v-10.0M546.5 389.3v-13.2M549.5 389.3v-12.7M550.5 389.3v-10.8M551.5 389.3v-4.2M555.5 389.3v-2.6M557.5 389.3v-8.6M563.5 389.3v-2.8M568.5 389.3v-16.2M570.5 389.3v-11.4M571.5 389.3v-19.0M578.5 389.3v-13.5M580.3 389.3v-13.6M583.3 389.3v-15.0M584.3 389.3v-18.2M585.3 389.3v-17.0M586.3 389.3v-10.4M590.3 389.3v-7.3M596.3 389.3v-3.6M598.3 389.3v-9.5M601.7 389.3v-18.1M602.7 389.3v-18.1M607.7 389.3v-15.9M609.7 389.3v-14.2M611.7 389.3v-11.8M614.7 389.3v-8.1M616.7 389.3v-9.1M621.3 389.3v-3.7M622.3 389.3v-3.8M623.3 389.3v-3.0M624.3 389.3v-4.5M627.3 389.3v-2.9M629.3 389.3v-6.6M631.3 389.3v-8.0M632.3 389.3v-18.4M633.3 389.3v-6.3M635.3 389.3v-18.2M637.5 389.3v-4.0M644.5 389.3v-16.9M646.5 389.3v-17.8M649.0 389.3v-10.3M651.0 389.3v-8.8M652.0 389.3v-7.9M654.0 389.3v-12.9M655.0 389.3v-8.5M656.0 389.3v-7.7M657.0 389.3v-9.0M661.0 389.3v-10.6M666.3 389.3v-3.6M680.7 389.3v-12.3M681.7 389.3v-8.3" stroke="#2828EE" stroke-width="0.85" fill="none"/>
<path d="M54.1 389.3v3.1M56.1 389.3v2.3M59.1 389.3v1.8M68.1 389.3v0.9M79.1 389.3v1.0M86.1 389.3v2.2M88.1 389.3v2.1M97.1 389.3v0.9M98.1 389.3v2.1M103.1 389.3v1.0M112.7 389.3v0.9M143.7 389.3v1.1M145.7 389.3v1.3M148.7 389.3v2.3M150.7 389.3v1.0M154.7 389.3v1.1M155.7 389.3v0.9M160.7 389.3v1.9M164.7 389.3v10.1M169.7 389.3v2.0M171.7 389.3v1.9M187.7 389.3v1.9M189.7 389.3v2.2M190.7 389.3v2.4M191.7 389.3v2.8M197.7 389.3v3.1M202.7 389.3v1.9M209.0 389.3v2.1M213.0 389.3v1.6M215.0 389.3v1.6M222.0 389.3v1.9M225.0 389.3v3.2M226.0 389.3v2.1M240.0 389.3v2.0M242.0 389.3v1.9M246.5 389.3v1.1M255.5 389.3v1.6M270.5 389.3v2.5M276.5 389.3v1.1M277.5 389.3v2.0M280.5 389.3v1.9M281.5 389.3v2.1M283.5 389.3v8.5M285.5 389.3v1.8M292.8 389.3v0.9M297.8 389.3v1.8M299.8 389.3v3.7M311.8 389.3v4.9M318.8 389.3v4.3M321.8 389.3v4.1M324.5 389.3v2.0M349.5 389.3v1.8M360.4 389.3v1.2M364.4 389.3v4.2M367.4 389.3v1.4M373.4 389.3v1.6M386.4 389.3v2.0M395.3 389.3v0.8M396.3 389.3v1.1M398.3 389.3v2.2M411.3 389.3v1.5M417.3 389.3v1.2M429.5 389.3v3.2M447.5 389.3v1.4M453.5 389.3v1.8M455.5 389.3v2.2M458.5 389.3v2.7M459.5 389.3v1.9M467.5 389.3v2.1M468.5 389.3v0.9M475.5 389.3v2.0M478.5 389.3v0.9M479.5 389.3v0.7M483.5 389.3v1.6M487.5 389.3v1.6M492.5 389.3v0.7M499.5 389.3v1.3M500.5 389.3v1.1M504.5 389.3v0.8M546.5 389.3v0.8M551.5 389.3v1.0M555.5 389.3v1.5M561.5 389.3v1.1M563.5 389.3v1.9M564.5 389.3v1.1M601.7 389.3v2.0M603.7 389.3v2.2M605.7 389.3v1.3M609.7 389.3v1.2M610.7 389.3v0.8M612.7 389.3v0.7M629.3 389.3v8.6M632.3 389.3v3.3M639.5 389.3v1.5M644.5 389.3v2.9M645.5 389.3v1.5M670.3 389.3v1.0M672.3 389.3v1.4M54.1 389.3v17.0" stroke="#F59898" stroke-width="0.85" fill="none"/>
<path d="M55.1 389.3v2.7M60.1 389.3v1.6M62.1 389.3v0.9M65.1 389.3v1.7M66.1 389.3v1.6M69.1 389.3v1.2M70.1 389.3v0.9M74.1 389.3v4.2M76.1 389.3v2.4M77.1 389.3v5.8M78.1 389.3v0.9M85.1 389.3v0.9M87.1 389.3v1.2M91.1 389.3v3.3M95.1 389.3v1.3M99.1 389.3v2.5M100.1 389.3v2.2M101.1 389.3v1.9M108.7 389.3v2.4M113.7 389.3v0.8M115.7 389.3v1.2M116.7 389.3v1.2M120.7 389.3v1.0M130.7 389.3v0.9M140.7 389.3v0.9M146.7 389.3v1.0M147.7 389.3v1.7M161.7 389.3v0.9M163.7 389.3v1.3M166.7 389.3v1.5M174.7 389.3v1.3M176.7 389.3v3.1M177.7 389.3v3.7M179.7 389.3v11.8M182.7 389.3v1.5M183.7 389.3v2.3M184.7 389.3v1.9M185.7 389.3v1.4M186.7 389.3v2.6M188.7 389.3v1.9M192.7 389.3v2.0M194.7 389.3v2.6M196.7 389.3v1.4M199.7 389.3v2.7M201.7 389.3v3.0M203.7 389.3v1.0M206.0 389.3v10.4M211.0 389.3v2.6M214.0 389.3v1.8M216.0 389.3v2.2M217.0 389.3v2.5M221.0 389.3v1.8M223.0 389.3v2.7M227.0 389.3v1.8M229.0 389.3v1.1M233.0 389.3v1.7M239.0 389.3v1.4M245.0 389.3v4.0M247.5 389.3v1.1M248.5 389.3v1.0M252.5 389.3v1.7M253.5 389.3v1.3M254.5 389.3v4.0M256.5 389.3v3.0M261.5 389.3v1.5M266.5 389.3v1.6M268.5 389.3v3.4M269.5 389.3v3.7M271.5 389.3v3.1M272.5 389.3v1.4M275.5 389.3v1.1M284.5 389.3v1.2M287.8 389.3v10.5M289.8 389.3v1.3M291.8 389.3v1.0M295.8 389.3v1.2M298.8 389.3v2.3M302.8 389.3v2.8M303.8 389.3v3.4M305.8 389.3v2.4M309.8 389.3v1.7M314.8 389.3v2.3M315.8 389.3v2.5M317.8 389.3v2.1M320.8 389.3v3.5M325.5 389.3v1.4M326.5 389.3v1.6M327.5 389.3v0.8M329.5 389.3v1.0M332.5 389.3v0.8M346.5 389.3v2.0M348.5 389.3v1.3M354.5 389.3v1.0M357.5 389.3v1.1M361.4 389.3v1.2M370.4 389.3v2.1M375.4 389.3v0.9M376.4 389.3v0.8M378.4 389.3v1.0M380.4 389.3v1.7M381.4 389.3v2.1M382.4 389.3v2.4M387.4 389.3v2.2M389.4 389.3v1.7M390.4 389.3v1.5M397.3 389.3v1.5M399.3 389.3v1.5M404.3 389.3v1.6M406.3 389.3v1.3M414.3 389.3v0.7M420.3 389.3v0.9M421.5 389.3v1.9M425.5 389.3v0.7M430.5 389.3v2.7M434.5 389.3v1.4M436.5 389.3v1.8M438.5 389.3v1.6M439.5 389.3v2.2M441.5 389.3v2.4M448.5 389.3v1.6M454.5 389.3v2.5M456.5 389.3v1.7M457.5 389.3v2.3M463.5 389.3v1.2M464.5 389.3v1.6M471.5 389.3v1.6M486.5 389.3v0.9M490.5 389.3v1.4M503.5 389.3v2.4M506.5 389.3v1.4M514.5 389.3v0.8M520.5 389.3v1.1M524.5 389.3v1.2M530.5 389.3v0.8M533.5 389.3v1.3M556.5 389.3v1.2M565.5 389.3v1.6M569.5 389.3v1.0M575.5 389.3v2.3M577.5 389.3v2.2M578.5 389.3v2.0M582.3 389.3v1.1M604.7 389.3v1.9M606.7 389.3v1.9M615.7 389.3v2.2M616.7 389.3v2.4M628.3 389.3v1.8M634.3 389.3v1.4M637.5 389.3v2.2M662.0 389.3v1.5M666.3 389.3v0.8M671.3 389.3v1.6M676.7 389.3v0.7" stroke="#E82A2A" stroke-width="0.85" fill="none"/>
<path d="M258.5 431.6v4.4M259.5 431.6v3.7M260.5 431.6v4.7M261.5 431.6v4.1M262.5 431.6v3.4M263.5 431.6v2.8M264.5 431.6v3.7M265.5 431.6v2.9M266.5 431.6v4.0M267.5 431.6v3.5M268.5 431.6v3.8M269.5 431.6v2.8M271.5 431.6v3.7M272.5 431.6v4.1M273.5 431.6v3.3M274.5 431.6v4.4M275.5 431.6v4.4M276.5 431.6v3.3M277.5 431.6v2.9M278.5 431.6v4.6M279.5 431.6v3.6M280.5 431.6v4.4M281.5 431.6v4.7M282.5 431.6v2.8M283.5 431.6v4.5M284.5 431.6v3.2M285.5 431.6v4.1M286.8 431.6v1.1M287.8 431.6v1.8M288.8 431.6v1.4M289.8 431.6v1.7M290.8 431.6v1.4M291.8 431.6v1.1M292.8 431.6v1.2M293.8 431.6v1.6M294.8 431.6v1.8M295.8 431.6v1.8M296.8 431.6v1.4M297.8 431.6v1.6M298.8 431.6v1.4M299.8 431.6v1.4M300.8 431.6v1.7M301.8 431.6v1.2M302.8 431.6v1.1M303.8 431.6v1.5M304.8 431.6v1.5M305.8 431.6v1.6M306.8 431.6v1.2M307.8 431.6v1.5M308.8 431.6v1.3M309.8 431.6v1.1M310.8 431.6v1.6M311.8 431.6v1.4M312.8 431.6v1.1M313.8 431.6v1.6M315.8 431.6v1.7M316.8 431.6v1.2M317.8 431.6v1.3M318.8 431.6v1.4M319.8 431.6v1.2M320.8 431.6v1.3M321.8 431.6v1.6M322.8 431.6v1.3M359.4 431.6v1.1M360.4 431.6v1.1M361.4 431.6v1.1M363.4 431.6v1.0M364.4 431.6v1.0M365.4 431.6v0.9M366.4 431.6v1.0M367.4 431.6v0.9M368.4 431.6v0.9M369.4 431.6v1.1M370.4 431.6v0.9M371.4 431.6v1.1M373.4 431.6v1.0M374.4 431.6v1.2M375.4 431.6v1.0M376.4 431.6v0.8M377.4 431.6v1.0M378.4 431.6v1.0M379.4 431.6v1.2M380.4 431.6v0.8M381.4 431.6v0.9M382.4 431.6v1.2M384.4 431.6v1.1M385.4 431.6v0.8M386.4 431.6v1.0M387.4 431.6v1.2M388.4 431.6v0.9M389.4 431.6v0.8M390.4 431.6v1.1" stroke="#E82A2A" stroke-width="1.05" fill="none"/>
<path d="M57.1 431.6v-4.5M59.1 431.6v-4.8M60.1 431.6v-3.7M73.1 431.6v-1.8M77.1 431.6v-4.4M86.1 431.6v-9.1M88.1 431.6v-2.9M97.1 431.6v-2.2M100.1 431.6v-2.1M118.7 431.6v-1.2M125.7 431.6v-2.3M136.7 431.6v-1.3M139.7 431.6v-1.6M146.7 431.6v-1.5M154.7 431.6v-3.1M165.7 431.6v-3.3M172.7 431.6v-2.2M175.7 431.6v-2.1M192.7 431.6v-1.7M202.7 431.6v-3.1M217.0 431.6v-1.8M222.0 431.6v-0.8M245.0 431.6v-1.1M257.5 431.6v-1.8M265.5 431.6v-1.5M267.5 431.6v-6.1M268.5 431.6v-1.9M271.5 431.6v-4.0M278.5 431.6v-1.5M294.8 431.6v-2.0M296.8 431.6v-1.7M311.8 431.6v-0.8M325.5 431.6v-1.3M329.5 431.6v-1.6M334.5 431.6v-2.1M337.5 431.6v-3.0M339.5 431.6v-5.2M345.5 431.6v-1.5M348.5 431.6v-1.4M349.5 431.6v-1.1M352.5 431.6v-12.3M358.5 431.6v-3.0M368.4 431.6v-3.3M383.4 431.6v-11.6M418.3 431.6v-1.5M421.5 431.6v-1.3M423.5 431.6v-10.8M427.5 431.6v-4.4M449.5 431.6v-4.2M450.5 431.6v-1.5M455.5 431.6v-6.9M482.5 431.6v-3.4M486.5 431.6v-4.9M490.5 431.6v-10.1M493.5 431.6v-5.7M505.5 431.6v-6.9M507.5 431.6v-10.6M520.5 431.6v-4.5M522.5 431.6v-1.7M525.5 431.6v-6.1M526.5 431.6v-19.1M532.5 431.6v-13.4M554.5 431.6v-12.6M557.5 431.6v-9.7M562.5 431.6v-17.4M565.5 431.6v-17.3M574.5 431.6v-5.0M577.5 431.6v-6.9M581.3 431.6v-13.9M582.3 431.6v-10.4M583.3 431.6v-8.6M584.3 431.6v-6.3M587.3 431.6v-19.5M594.3 431.6v-7.6M613.7 431.6v-17.9M619.3 431.6v-13.0M620.3 431.6v-5.8M627.3 431.6v-4.2M630.3 431.6v-4.4M633.3 431.6v-2.6M642.5 431.6v-8.4M654.0 431.6v-12.2M658.0 431.6v-6.4M660.0 431.6v-19.0M661.0 431.6v-2.5M670.3 431.6v-2.6M683.7 431.6v-13.5M54.1 431.6v-15.0" stroke="#8C8CF4" stroke-width="0.85" fill="none"/>
<path d="M55.1 431.6v-3.5M58.1 431.6v-2.2M62.1 431.6v-3.1M63.1 431.6v-3.7M68.1 431.6v-5.4M70.1 431.6v-3.3M72.1 431.6v-4.0M74.1 431.6v-5.8M75.1 431.6v-4.7M78.1 431.6v-5.2M79.1 431.6v-4.3M85.1 431.6v-3.2M90.1 431.6v-4.0M91.1 431.6v-6.6M93.1 431.6v-3.1M96.1 431.6v-12.9M104.1 431.6v-2.3M105.1 431.6v-3.3M110.7 431.6v-1.6M113.7 431.6v-1.0M115.7 431.6v-1.5M119.7 431.6v-2.0M124.7 431.6v-2.4M126.7 431.6v-2.9M127.7 431.6v-1.9M129.7 431.6v-5.5M133.7 431.6v-1.7M140.7 431.6v-1.3M145.7 431.6v-1.5M151.7 431.6v-1.9M157.7 431.6v-2.4M158.7 431.6v-3.6M159.7 431.6v-2.9M169.7 431.6v-2.6M176.7 431.6v-3.4M182.7 431.6v-1.0M183.7 431.6v-1.9M185.7 431.6v-1.4M191.7 431.6v-2.0M194.7 431.6v-1.8M197.7 431.6v-2.6M198.7 431.6v-2.6M210.0 431.6v-1.0M219.0 431.6v-1.4M225.0 431.6v-0.8M227.0 431.6v-1.6M230.0 431.6v-2.0M239.0 431.6v-4.2M240.0 431.6v-1.9M241.0 431.6v-1.7M243.0 431.6v-1.0M250.5 431.6v-1.5M272.5 431.6v-0.7M276.5 431.6v-0.8M285.5 431.6v-1.3M291.8 431.6v-1.8M293.8 431.6v-1.5M299.8 431.6v-1.7M303.8 431.6v-1.4M319.8 431.6v-1.1M322.8 431.6v-2.3M326.5 431.6v-2.0M327.5 431.6v-1.1M328.5 431.6v-9.5M333.5 431.6v-3.2M336.5 431.6v-3.9M338.5 431.6v-4.8M341.5 431.6v-2.5M342.5 431.6v-3.2M343.5 431.6v-4.6M346.5 431.6v-9.2M350.5 431.6v-1.0M351.5 431.6v-1.4M359.4 431.6v-3.9M360.4 431.6v-2.4M361.4 431.6v-1.9M362.4 431.6v-4.1M363.4 431.6v-2.1M365.4 431.6v-4.2M366.4 431.6v-4.7M367.4 431.6v-3.7M370.4 431.6v-1.5M374.4 431.6v-3.4M380.4 431.6v-1.9M384.4 431.6v-1.7M386.4 431.6v-3.4M388.4 431.6v-1.3M397.3 431.6v-2.0M408.3 431.6v-1.4M409.3 431.6v-1.6M415.3 431.6v-2.1M425.5 431.6v-2.4M428.5 431.6v-6.0M429.5 431.6v-4.0M433.5 431.6v-11.6M435.5 431.6v-5.9M437.5 431.6v-5.5M440.5 431.6v-7.5M442.5 431.6v-1.5M443.5 431.6v-1.9M444.5 431.6v-4.7M448.5 431.6v-4.9M451.5 431.6v-2.6M453.5 431.6v-13.8M454.5 431.6v-2.1M466.5 431.6v-6.1M469.5 431.6v-1.9M470.5 431.6v-2.1M472.5 431.6v-1.9M473.5 431.6v-3.7M476.5 431.6v-6.9M478.5 431.6v-1.7M479.5 431.6v-1.7M480.5 431.6v-6.8M483.5 431.6v-2.0M485.5 431.6v-5.3M488.5 431.6v-8.2M489.5 431.6v-4.3M492.5 431.6v-3.8M497.5 431.6v-5.8M499.5 431.6v-7.1M500.5 431.6v-11.7M501.5 431.6v-6.2M502.5 431.6v-6.0M503.5 431.6v-3.4M504.5 431.6v-4.0M508.5 431.6v-7.3M513.5 431.6v-3.6M514.5 431.6v-2.2M515.5 431.6v-3.2M517.5 431.6v-13.6M521.5 431.6v-1.8M523.5 431.6v-3.6M528.5 431.6v-10.4M529.5 431.6v-8.0M530.5 431.6v-11.5M540.5 431.6v-10.7M541.5 431.6v-6.2M542.5 431.6v-7.1M544.5 431.6v-10.4M545.5 431.6v-6.0M546.5 431.6v-10.8M547.5 431.6v-3.0M548.5 431.6v-9.9M552.5 431.6v-3.7M555.5 431.6v-8.0M561.5 431.6v-17.3M563.5 431.6v-10.7M564.5 431.6v-3.4M570.5 431.6v-6.7M571.5 431.6v-2.1M572.5 431.6v-4.8M576.5 431.6v-10.3M578.5 431.6v-7.8M580.3 431.6v-16.3M586.3 431.6v-6.1M593.3 431.6v-6.6M597.3 431.6v-5.7M600.7 431.6v-11.9M603.7 431.6v-11.2M604.7 431.6v-10.8M606.7 431.6v-2.3M607.7 431.6v-5.7M611.7 431.6v-2.2M612.7 431.6v-4.2M614.7 431.6v-5.4M616.7 431.6v-3.9M618.3 431.6v-13.7M621.3 431.6v-12.0M624.3 431.6v-5.4M625.3 431.6v-5.9M626.3 431.6v-4.7M629.3 431.6v-2.2M636.5 431.6v-2.4M637.5 431.6v-5.1M641.5 431.6v-3.4M643.5 431.6v-4.9M644.5 431.6v-7.9M646.5 431.6v-9.9M647.5 431.6v-7.2M650.0 431.6v-14.8M651.0 431.6v-7.9M652.0 431.6v-17.9M653.0 431.6v-11.6M656.0 431.6v-5.4M662.0 431.6v-1.8M666.3 431.6v-6.2M668.3 431.6v-5.2M671.3 431.6v-1.8M672.3 431.6v-17.7M677.7 431.6v-4.6M678.7 431.6v-18.1M680.7 431.6v-8.0M681.7 431.6v-4.6" stroke="#2828EE" stroke-width="0.85" fill="none"/>
<path d="M54.1 431.6v1.6M75.1 431.6v2.6M91.1 431.6v0.8M115.7 431.6v1.5M118.7 431.6v1.0M123.7 431.6v1.0M138.7 431.6v0.9M140.7 431.6v1.7M144.7 431.6v2.0M158.7 431.6v1.3M161.7 431.6v3.3M167.7 431.6v2.4M169.7 431.6v2.9M177.7 431.6v1.2M179.7 431.6v2.7M188.7 431.6v1.9M195.7 431.6v2.3M201.7 431.6v3.2M214.0 431.6v0.7M218.0 431.6v1.4M219.0 431.6v1.1M226.0 431.6v3.3M229.0 431.6v0.8M232.0 431.6v2.4M234.0 431.6v1.8M235.0 431.6v2.6M241.0 431.6v1.0M243.0 431.6v2.1M248.5 431.6v2.5M254.5 431.6v2.9M265.5 431.6v0.8M275.5 431.6v9.2M280.5 431.6v3.6M284.5 431.6v2.1M286.8 431.6v3.3M289.8 431.6v1.0M293.8 431.6v1.5M295.8 431.6v1.6M300.8 431.6v2.0M305.8 431.6v1.5M306.8 431.6v1.3M309.8 431.6v1.9M310.8 431.6v1.8M313.8 431.6v1.7M315.8 431.6v1.1M322.8 431.6v0.8M328.5 431.6v2.1M330.5 431.6v1.7M332.5 431.6v1.4M337.5 431.6v7.4M354.5 431.6v1.6M355.5 431.6v2.0M356.5 431.6v2.6M367.4 431.6v2.2M369.4 431.6v5.1M372.4 431.6v2.2M380.4 431.6v3.0M382.4 431.6v1.8M384.4 431.6v1.9M386.4 431.6v1.2M391.3 431.6v2.5M395.3 431.6v9.0M412.3 431.6v1.1M419.3 431.6v2.1M426.5 431.6v1.1M436.5 431.6v1.3M440.5 431.6v2.5M447.5 431.6v1.2M462.5 431.6v0.8M473.5 431.6v2.2M499.5 431.6v1.0M524.5 431.6v1.9M553.5 431.6v1.7M563.5 431.6v1.7M572.5 431.6v0.7M585.3 431.6v1.3M609.7 431.6v1.8M621.3 431.6v1.4M626.3 431.6v1.0M629.3 431.6v1.2M634.3 431.6v1.7M635.3 431.6v1.1M636.5 431.6v1.5M642.5 431.6v2.5M54.1 431.6v17.0" stroke="#F59898" stroke-width="0.85" fill="none"/>
<path d="M55.1 431.6v1.5M56.1 431.6v1.4M67.1 431.6v1.0M71.1 431.6v1.6M72.1 431.6v1.7M78.1 431.6v1.8M85.1 431.6v1.6M87.1 431.6v1.5M89.1 431.6v0.8M90.1 431.6v0.8M96.1 431.6v1.1M100.1 431.6v0.7M103.1 431.6v1.6M111.7 431.6v2.0M113.7 431.6v2.0M117.7 431.6v1.3M124.7 431.6v0.7M141.7 431.6v1.6M153.7 431.6v1.3M159.7 431.6v0.8M162.7 431.6v2.3M164.7 431.6v2.6M166.7 431.6v1.7M170.7 431.6v2.2M171.7 431.6v0.9M182.7 431.6v3.0M184.7 431.6v1.9M185.7 431.6v2.0M191.7 431.6v4.1M192.7 431.6v3.8M193.7 431.6v2.5M194.7 431.6v3.7M198.7 431.6v3.6M199.7 431.6v1.9M200.7 431.6v1.8M203.7 431.6v1.7M207.0 431.6v1.6M210.0 431.6v1.2M221.0 431.6v1.7M225.0 431.6v5.6M227.0 431.6v0.8M228.0 431.6v4.8M238.0 431.6v8.9M239.0 431.6v0.8M242.0 431.6v1.7M246.5 431.6v1.4M247.5 431.6v0.9M250.5 431.6v3.6M255.5 431.6v1.4M259.5 431.6v1.4M262.5 431.6v2.7M271.5 431.6v2.2M278.5 431.6v1.2M282.5 431.6v3.1M283.5 431.6v3.4M285.5 431.6v1.7M287.8 431.6v2.6M297.8 431.6v1.0M298.8 431.6v2.4M301.8 431.6v3.1M304.8 431.6v2.4M312.8 431.6v1.7M314.8 431.6v4.5M336.5 431.6v1.2M338.5 431.6v5.3M339.5 431.6v1.4M340.5 431.6v1.1M341.5 431.6v1.6M344.5 431.6v2.5M350.5 431.6v4.3M358.5 431.6v2.6M359.4 431.6v1.2M363.4 431.6v6.3M364.4 431.6v1.0M371.4 431.6v1.3M376.4 431.6v1.8M378.4 431.6v6.1M387.4 431.6v1.5M389.4 431.6v6.0M390.4 431.6v1.4M396.3 431.6v2.3M406.3 431.6v2.2M411.3 431.6v1.4M416.3 431.6v1.1M418.3 431.6v2.0M421.5 431.6v1.2M423.5 431.6v1.9M430.5 431.6v1.4M432.5 431.6v1.0M434.5 431.6v0.8M445.5 431.6v1.4M453.5 431.6v1.2M459.5 431.6v0.9M463.5 431.6v0.8M474.5 431.6v5.4M476.5 431.6v1.3M504.5 431.6v0.9M552.5 431.6v2.2M554.5 431.6v2.4M555.5 431.6v1.4M562.5 431.6v1.6M565.5 431.6v1.6M586.3 431.6v1.5M590.3 431.6v0.8M591.3 431.6v1.6M602.7 431.6v1.1M606.7 431.6v0.8M625.3 431.6v1.8M628.3 431.6v1.2M630.3 431.6v0.8M631.3 431.6v1.0M632.3 431.6v0.9M637.5 431.6v1.5M640.5 431.6v1.7M641.5 431.6v4.7M643.5 431.6v1.3M645.5 431.6v1.4M646.5 431.6v1.7M662.0 431.6v1.2M668.3 431.6v1.1M677.7 431.6v1.4" stroke="#E82A2A" stroke-width="0.85" fill="none"/>
<path d="M54.1 473.9v2.3M55.1 473.9v2.2M56.1 473.9v2.1M57.1 473.9v2.2M58.1 473.9v2.0M59.1 473.9v2.0M60.1 473.9v1.7M61.1 473.9v2.2M62.1 473.9v1.5M63.1 473.9v2.3M64.1 473.9v1.8M65.1 473.9v2.3M66.1 473.9v2.0M67.1 473.9v1.8M68.1 473.9v1.9M69.1 473.9v1.4M71.1 473.9v2.1M72.1 473.9v1.7M73.1 473.9v1.6M74.1 473.9v1.9M75.1 473.9v1.8M76.1 473.9v2.4M77.1 473.9v1.8M78.1 473.9v1.8M79.1 473.9v1.8M85.1 473.9v2.3M86.1 473.9v2.2M87.1 473.9v1.6M88.1 473.9v2.2M89.1 473.9v2.0M91.1 473.9v2.2M92.1 473.9v1.9M93.1 473.9v1.8M94.1 473.9v1.8M95.1 473.9v1.9M96.1 473.9v1.8M97.1 473.9v1.8M98.1 473.9v1.4M99.1 473.9v2.1M100.1 473.9v2.1M102.1 473.9v1.5M103.1 473.9v1.5M104.1 473.9v2.2M105.1 473.9v2.1M106.1 473.9v1.8M107.1 473.9v1.5M108.7 473.9v0.9M109.7 473.9v1.2M110.7 473.9v0.8M111.7 473.9v0.8M112.7 473.9v0.8M113.7 473.9v0.7M114.7 473.9v1.0M115.7 473.9v0.8M116.7 473.9v0.9M117.7 473.9v0.7M119.7 473.9v0.9M120.7 473.9v1.1M121.7 473.9v1.0M122.7 473.9v0.8M123.7 473.9v1.0M124.7 473.9v0.7M125.7 473.9v0.7M126.7 473.9v0.8M127.7 473.9v1.0M129.7 473.9v1.0M130.7 473.9v1.0M131.7 473.9v0.8M132.7 473.9v1.1M133.7 473.9v1.0M134.7 473.9v0.7M135.7 473.9v1.0M136.7 473.9v0.7M137.7 473.9v1.1M138.7 473.9v0.8M140.7 473.9v1.2M141.7 473.9v1.1M144.7 473.9v1.0M145.7 473.9v1.2M146.7 473.9v0.8M147.7 473.9v0.7M148.7 473.9v1.1M149.7 473.9v1.0M150.7 473.9v1.1M151.7 473.9v1.1M152.7 473.9v0.9M153.7 473.9v1.2M154.7 473.9v1.0M155.7 473.9v0.8M156.7 473.9v0.7M157.7 473.9v0.8M158.7 473.9v1.1M159.7 473.9v1.1M160.7 473.9v0.8M161.7 473.9v0.9M162.7 473.9v0.9M163.7 473.9v0.9M165.7 473.9v1.1M166.7 473.9v1.2M169.7 473.9v0.9M170.7 473.9v0.9M171.7 473.9v1.2M172.7 473.9v0.7M173.7 473.9v0.9M174.7 473.9v1.1M175.7 473.9v1.0M176.7 473.9v0.8M177.7 473.9v0.8M178.7 473.9v1.2M179.7 473.9v0.7M182.7 473.9v1.0M183.7 473.9v0.9M184.7 473.9v0.9M185.7 473.9v0.7M186.7 473.9v0.8M187.7 473.9v0.8M188.7 473.9v0.7M189.7 473.9v0.8M190.7 473.9v1.0M191.7 473.9v0.8M192.7 473.9v1.1M193.7 473.9v0.7M194.7 473.9v1.2M196.7 473.9v0.8M197.7 473.9v0.8M198.7 473.9v1.1M199.7 473.9v1.1M201.7 473.9v0.9M202.7 473.9v0.8M203.7 473.9v0.9M205.0 473.9v2.9M206.0 473.9v3.5M207.0 473.9v4.8M208.0 473.9v3.7M209.0 473.9v2.9M210.0 473.9v3.0M211.0 473.9v4.0M212.0 473.9v3.6M213.0 473.9v4.2M214.0 473.9v4.3M215.0 473.9v3.9M216.0 473.9v3.9M217.0 473.9v3.5M218.0 473.9v2.9M219.0 473.9v4.4M220.0 473.9v4.3M221.0 473.9v4.2M222.0 473.9v3.2M223.0 473.9v3.3M224.0 473.9v4.7M225.0 473.9v4.5M226.0 473.9v4.3M227.0 473.9v4.4M228.0 473.9v3.9M229.0 473.9v3.7M231.0 473.9v3.3M232.0 473.9v4.5M233.0 473.9v3.1M234.0 473.9v4.4M235.0 473.9v3.1M237.0 473.9v3.8M238.0 473.9v3.2M239.0 473.9v3.2M240.0 473.9v4.1M241.0 473.9v4.5M242.0 473.9v3.3M243.0 473.9v3.4M244.0 473.9v2.8M245.0 473.9v4.7M258.5 473.9v4.8M259.5 473.9v4.7M260.5 473.9v5.7M261.5 473.9v4.2M262.5 473.9v5.0M264.5 473.9v3.7M265.5 473.9v4.1M266.5 473.9v5.0M267.5 473.9v4.3M268.5 473.9v5.7M269.5 473.9v5.0M270.5 473.9v5.2M271.5 473.9v5.3M272.5 473.9v4.0M273.5 473.9v3.7M274.5 473.9v4.8M275.5 473.9v5.8M277.5 473.9v5.6M278.5 473.9v3.8M279.5 473.9v5.5M280.5 473.9v4.1M282.5 473.9v4.8M283.5 473.9v3.7M284.5 473.9v4.5M285.5 473.9v3.9M286.8 473.9v2.0M287.8 473.9v1.9M288.8 473.9v2.4M289.8 473.9v2.9M290.8 473.9v2.8M291.8 473.9v2.0M292.8 473.9v1.8M294.8 473.9v2.4M295.8 473.9v2.9M296.8 473.9v2.5M297.8 473.9v2.9M298.8 473.9v2.6M299.8 473.9v2.3M300.8 473.9v2.8M301.8 473.9v2.0M302.8 473.9v2.1M303.8 473.9v2.2M304.8 473.9v2.0M305.8 473.9v1.9M306.8 473.9v2.2M307.8 473.9v2.5M308.8 473.9v1.8M309.8 473.9v2.1M310.8 473.9v2.9M311.8 473.9v2.8M312.8 473.9v2.9M313.8 473.9v2.4M314.8 473.9v2.4M315.8 473.9v2.7M316.8 473.9v2.6M317.8 473.9v2.7M319.8 473.9v2.5M320.8 473.9v2.2M321.8 473.9v2.3M322.8 473.9v2.3M324.5 473.9v0.9M325.5 473.9v0.9M326.5 473.9v1.0M327.5 473.9v1.2M328.5 473.9v1.0M329.5 473.9v1.2M330.5 473.9v0.9M331.5 473.9v1.0M332.5 473.9v1.2M333.5 473.9v0.8M334.5 473.9v1.1M335.5 473.9v0.8M336.5 473.9v1.0M337.5 473.9v1.1M338.5 473.9v0.9M339.5 473.9v1.2M340.5 473.9v1.1M341.5 473.9v0.9M342.5 473.9v0.8M343.5 473.9v0.8M344.5 473.9v0.9M345.5 473.9v0.9M346.5 473.9v0.9M347.5 473.9v1.0M348.5 473.9v1.1M349.5 473.9v1.1M350.5 473.9v1.1M351.5 473.9v0.8M352.5 473.9v0.8M353.5 473.9v1.0M354.5 473.9v1.0M355.5 473.9v1.2M356.5 473.9v1.1M357.5 473.9v0.9M358.5 473.9v1.1M359.4 473.9v4.2M360.4 473.9v4.0M361.4 473.9v3.5M362.4 473.9v3.6M363.4 473.9v4.2M364.4 473.9v3.1M365.4 473.9v2.9M366.4 473.9v3.8M367.4 473.9v3.7M368.4 473.9v2.9M369.4 473.9v2.5M370.4 473.9v3.2M371.4 473.9v4.1M391.3 473.9v0.7M392.3 473.9v1.0M393.3 473.9v1.1M394.3 473.9v1.1M396.3 473.9v0.9M398.3 473.9v0.8M399.3 473.9v1.1M404.3 473.9v1.1M405.3 473.9v0.9M406.3 473.9v1.2M407.3 473.9v0.8M408.3 473.9v1.0M409.3 473.9v1.0M411.3 473.9v0.8M412.3 473.9v0.7M413.3 473.9v1.0M414.3 473.9v1.1M415.3 473.9v1.1M416.3 473.9v1.1M417.3 473.9v1.1M418.3 473.9v0.8M419.3 473.9v1.1M420.3 473.9v0.9M421.5 473.9v0.7M422.5 473.9v1.1M423.5 473.9v0.8M424.5 473.9v1.0M425.5 473.9v0.9M426.5 473.9v1.1M427.5 473.9v0.7M428.5 473.9v1.1M429.5 473.9v1.0M430.5 473.9v1.2M431.5 473.9v0.9M432.5 473.9v1.1M433.5 473.9v1.0M434.5 473.9v0.7M435.5 473.9v0.9M436.5 473.9v1.2M437.5 473.9v0.8M438.5 473.9v0.8M439.5 473.9v0.8M440.5 473.9v0.7M441.5 473.9v1.0M442.5 473.9v1.2M443.5 473.9v1.1M444.5 473.9v0.9M445.5 473.9v1.0M446.5 473.9v0.9M447.5 473.9v0.9M448.5 473.9v1.0M449.5 473.9v0.8M450.5 473.9v0.7M451.5 473.9v0.8M452.5 473.9v1.0M453.5 473.9v1.1M454.5 473.9v1.0M455.5 473.9v1.1M456.5 473.9v0.9M457.5 473.9v1.0M458.5 473.9v0.9M459.5 473.9v1.2M460.5 473.9v0.9M461.5 473.9v0.9M462.5 473.9v0.9M463.5 473.9v0.7M464.5 473.9v0.8M465.5 473.9v1.1M466.5 473.9v1.0M467.5 473.9v0.8M468.5 473.9v1.2M469.5 473.9v0.8M470.5 473.9v0.8M471.5 473.9v0.7M472.5 473.9v1.0M473.5 473.9v1.2M474.5 473.9v1.1M475.5 473.9v1.1M476.5 473.9v1.2M477.5 473.9v0.8M478.5 473.9v1.1M479.5 473.9v1.1" stroke="#E82A2A" stroke-width="1.05" fill="none"/>
<path d="M99.1 473.9v-1.9M101.1 473.9v-3.6M104.1 473.9v-1.9M107.1 473.9v-2.1M108.7 473.9v-1.9M113.7 473.9v-2.1M127.7 473.9v-0.9M154.7 473.9v-0.7M182.7 473.9v-2.0M189.7 473.9v-1.3M192.7 473.9v-1.8M197.7 473.9v-1.5M206.0 473.9v-2.1M229.0 473.9v-1.3M235.0 473.9v-1.0M247.5 473.9v-2.1M252.5 473.9v-1.3M265.5 473.9v-3.2M266.5 473.9v-3.2M270.5 473.9v-3.4M313.8 473.9v-1.3M356.5 473.9v-3.3M361.4 473.9v-1.5M368.4 473.9v-3.3M390.4 473.9v-6.4M392.3 473.9v-1.3M394.3 473.9v-2.0M397.3 473.9v-1.6M415.3 473.9v-10.7M436.5 473.9v-2.5M447.5 473.9v-1.5M449.5 473.9v-2.3M471.5 473.9v-1.7M479.5 473.9v-7.4M485.5 473.9v-4.4M489.5 473.9v-4.3M491.5 473.9v-4.4M494.5 473.9v-8.7M506.5 473.9v-8.8M507.5 473.9v-4.2M513.5 473.9v-2.7M516.5 473.9v-3.8M521.5 473.9v-12.7M550.5 473.9v-18.0M551.5 473.9v-13.1M553.5 473.9v-11.4M554.5 473.9v-4.1M555.5 473.9v-10.9M565.5 473.9v-2.3M568.5 473.9v-17.3M569.5 473.9v-5.2M572.5 473.9v-7.6M609.7 473.9v-2.6M610.7 473.9v-18.2M613.7 473.9v-19.1M618.3 473.9v-5.8M623.3 473.9v-8.3M645.5 473.9v-4.3M647.5 473.9v-4.0M669.3 473.9v-3.0M680.7 473.9v-7.9M54.1 473.9v-15.0" stroke="#8C8CF4" stroke-width="0.85" fill="none"/>
<path d="M59.1 473.9v-2.3M65.1 473.9v-2.7M69.1 473.9v-2.2M71.1 473.9v-2.6M72.1 473.9v-3.2M73.1 473.9v-1.9M77.1 473.9v-8.1M85.1 473.9v-3.3M93.1 473.9v-3.0M103.1 473.9v-3.7M111.7 473.9v-2.0M118.7 473.9v-1.6M119.7 473.9v-8.1M121.7 473.9v-2.2M123.7 473.9v-1.0M141.7 473.9v-1.0M143.7 473.9v-0.9M153.7 473.9v-1.0M155.7 473.9v-0.9M159.7 473.9v-0.9M162.7 473.9v-1.6M165.7 473.9v-12.1M167.7 473.9v-1.9M169.7 473.9v-1.9M172.7 473.9v-2.2M173.7 473.9v-2.5M174.7 473.9v-5.5M177.7 473.9v-3.9M179.7 473.9v-2.5M183.7 473.9v-2.1M193.7 473.9v-1.6M195.7 473.9v-1.2M196.7 473.9v-0.9M207.0 473.9v-5.7M208.0 473.9v-1.3M212.0 473.9v-1.2M218.0 473.9v-6.5M232.0 473.9v-4.8M240.0 473.9v-2.2M248.5 473.9v-3.3M249.5 473.9v-2.3M250.5 473.9v-2.1M257.5 473.9v-1.1M258.5 473.9v-3.0M259.5 473.9v-2.6M262.5 473.9v-1.4M268.5 473.9v-3.2M271.5 473.9v-3.6M272.5 473.9v-2.4M275.5 473.9v-3.9M276.5 473.9v-3.4M278.5 473.9v-2.4M281.5 473.9v-2.0M282.5 473.9v-3.3M284.5 473.9v-1.8M303.8 473.9v-0.8M308.8 473.9v-9.6M314.8 473.9v-1.1M320.8 473.9v-1.4M324.5 473.9v-10.6M327.5 473.9v-2.0M334.5 473.9v-1.4M335.5 473.9v-0.7M339.5 473.9v-8.4M342.5 473.9v-1.5M349.5 473.9v-2.4M362.4 473.9v-2.1M363.4 473.9v-9.0M364.4 473.9v-0.8M370.4 473.9v-10.5M374.4 473.9v-1.6M376.4 473.9v-2.1M378.4 473.9v-2.5M382.4 473.9v-2.6M387.4 473.9v-0.9M396.3 473.9v-2.1M398.3 473.9v-2.4M399.3 473.9v-2.7M405.3 473.9v-1.4M406.3 473.9v-1.4M408.3 473.9v-1.3M414.3 473.9v-1.9M428.5 473.9v-13.8M430.5 473.9v-1.5M434.5 473.9v-1.8M440.5 473.9v-1.3M451.5 473.9v-1.8M454.5 473.9v-1.6M455.5 473.9v-12.8M456.5 473.9v-3.6M459.5 473.9v-2.7M463.5 473.9v-3.9M467.5 473.9v-2.5M472.5 473.9v-1.0M480.5 473.9v-4.9M481.5 473.9v-8.0M487.5 473.9v-3.9M488.5 473.9v-6.1M492.5 473.9v-5.8M495.5 473.9v-17.1M496.5 473.9v-4.3M497.5 473.9v-12.3M498.5 473.9v-9.7M499.5 473.9v-4.2M500.5 473.9v-9.8M502.5 473.9v-6.8M503.5 473.9v-2.9M504.5 473.9v-4.5M508.5 473.9v-18.0M515.5 473.9v-4.5M517.5 473.9v-4.7M518.5 473.9v-6.4M520.5 473.9v-12.1M523.5 473.9v-4.5M524.5 473.9v-8.3M525.5 473.9v-8.0M526.5 473.9v-7.6M527.5 473.9v-7.1M531.5 473.9v-19.4M532.5 473.9v-9.3M533.5 473.9v-16.8M539.5 473.9v-4.6M540.5 473.9v-10.8M541.5 473.9v-8.6M543.5 473.9v-7.3M546.5 473.9v-17.2M547.5 473.9v-19.1M548.5 473.9v-19.5M549.5 473.9v-14.5M552.5 473.9v-12.8M557.5 473.9v-16.3M562.5 473.9v-2.4M564.5 473.9v-2.4M570.5 473.9v-5.8M574.5 473.9v-6.7M576.5 473.9v-1.5M577.5 473.9v-3.8M582.3 473.9v-4.7M585.3 473.9v-4.2M587.3 473.9v-5.4M590.3 473.9v-3.7M594.3 473.9v-7.0M596.3 473.9v-6.5M597.3 473.9v-4.9M598.3 473.9v-19.1M599.3 473.9v-9.9M603.7 473.9v-9.5M604.7 473.9v-6.5M605.7 473.9v-7.8M611.7 473.9v-5.4M612.7 473.9v-8.8M614.7 473.9v-3.8M615.7 473.9v-12.4M616.7 473.9v-16.7M621.3 473.9v-7.5M622.3 473.9v-7.8M624.3 473.9v-7.3M625.3 473.9v-7.1M627.3 473.9v-17.2M628.3 473.9v-17.6M631.3 473.9v-18.3M632.3 473.9v-5.5M633.3 473.9v-13.3M634.3 473.9v-8.4M635.3 473.9v-15.5M637.5 473.9v-8.2M638.5 473.9v-8.9M639.5 473.9v-5.3M640.5 473.9v-4.9M642.5 473.9v-3.9M643.5 473.9v-1.6M644.5 473.9v-2.3M649.0 473.9v-6.6M650.0 473.9v-13.8M651.0 473.9v-10.0M652.0 473.9v-14.8M654.0 473.9v-15.7M655.0 473.9v-14.8M657.0 473.9v-9.0M658.0 473.9v-16.7M659.0 473.9v-18.9M661.0 473.9v-19.2M679.7 473.9v-3.2M681.7 473.9v-9.7M682.7 473.9v-4.6M683.7 473.9v-7.0" stroke="#2828EE" stroke-width="0.85" fill="none"/>
<path d="M63.1 473.9v2.9M76.1 473.9v1.4M86.1 473.9v1.4M88.1 473.9v1.9M91.1 473.9v9.1M102.1 473.9v1.4M109.7 473.9v1.2M111.7 473.9v1.4M113.7 473.9v0.9M114.7 473.9v1.2M117.7 473.9v2.9M120.7 473.9v0.8M121.7 473.9v1.7M124.7 473.9v7.9M129.7 473.9v1.1M130.7 473.9v2.1M134.7 473.9v3.2M135.7 473.9v9.7M139.7 473.9v10.7M146.7 473.9v1.4M149.7 473.9v1.5M166.7 473.9v3.0M173.7 473.9v0.8M176.7 473.9v0.9M177.7 473.9v2.0M179.7 473.9v2.1M194.7 473.9v1.2M196.7 473.9v5.2M210.0 473.9v1.3M211.0 473.9v2.5M214.0 473.9v14.3M217.0 473.9v3.1M220.0 473.9v3.3M222.0 473.9v2.2M224.0 473.9v4.3M226.0 473.9v4.9M227.0 473.9v2.6M229.0 473.9v2.4M230.0 473.9v3.4M237.0 473.9v2.8M238.0 473.9v12.8M242.0 473.9v1.5M244.0 473.9v4.2M247.5 473.9v2.0M250.5 473.9v1.9M251.5 473.9v14.4M261.5 473.9v2.3M264.5 473.9v1.6M267.5 473.9v1.6M274.5 473.9v2.1M277.5 473.9v2.9M281.5 473.9v3.2M299.8 473.9v1.2M302.8 473.9v2.5M303.8 473.9v3.5M306.8 473.9v1.6M320.8 473.9v0.9M327.5 473.9v3.5M328.5 473.9v4.4M333.5 473.9v2.7M338.5 473.9v1.7M340.5 473.9v2.7M346.5 473.9v1.2M347.5 473.9v1.2M357.5 473.9v8.8M360.4 473.9v1.4M367.4 473.9v1.2M379.4 473.9v2.6M385.4 473.9v1.0M387.4 473.9v3.5M392.3 473.9v2.0M394.3 473.9v2.0M398.3 473.9v3.7M399.3 473.9v2.7M404.3 473.9v2.8M407.3 473.9v1.5M414.3 473.9v2.6M417.3 473.9v1.9M418.3 473.9v1.0M429.5 473.9v2.3M431.5 473.9v1.6M433.5 473.9v0.8M445.5 473.9v1.8M448.5 473.9v2.3M454.5 473.9v2.9M456.5 473.9v2.4M458.5 473.9v3.8M459.5 473.9v4.1M465.5 473.9v3.2M471.5 473.9v1.2M472.5 473.9v0.9M474.5 473.9v1.9M477.5 473.9v1.1M479.5 473.9v1.2M490.5 473.9v0.7M494.5 473.9v6.5M496.5 473.9v1.0M525.5 473.9v1.4M527.5 473.9v1.6M528.5 473.9v1.3M529.5 473.9v1.2M533.5 473.9v1.1M545.5 473.9v1.4M549.5 473.9v1.4M551.5 473.9v1.5M554.5 473.9v0.9M585.3 473.9v1.3M620.3 473.9v0.9M626.3 473.9v2.5M627.3 473.9v2.7M628.3 473.9v1.0M649.0 473.9v0.9M681.7 473.9v1.0M54.1 473.9v17.0" stroke="#F59898" stroke-width="0.85" fill="none"/>
<path d="M54.1 473.9v2.1M59.1 473.9v5.7M64.1 473.9v2.0M66.1 473.9v1.0M71.1 473.9v2.4M74.1 473.9v2.6M75.1 473.9v2.2M85.1 473.9v1.8M87.1 473.9v8.6M89.1 473.9v1.5M90.1 473.9v11.2M92.1 473.9v2.6M98.1 473.9v2.6M101.1 473.9v1.1M104.1 473.9v1.4M112.7 473.9v1.5M116.7 473.9v2.4M122.7 473.9v2.5M123.7 473.9v3.1M140.7 473.9v0.9M142.7 473.9v9.0M144.7 473.9v7.7M148.7 473.9v1.7M151.7 473.9v1.7M156.7 473.9v2.3M158.7 473.9v2.2M160.7 473.9v1.6M161.7 473.9v3.6M162.7 473.9v10.8M167.7 473.9v2.4M170.7 473.9v1.3M172.7 473.9v11.6M175.7 473.9v1.2M178.7 473.9v1.7M185.7 473.9v2.0M186.7 473.9v1.6M187.7 473.9v2.1M188.7 473.9v5.9M190.7 473.9v4.8M192.7 473.9v1.1M200.7 473.9v2.6M201.7 473.9v2.5M205.0 473.9v2.5M209.0 473.9v7.9M213.0 473.9v3.5M215.0 473.9v2.0M216.0 473.9v14.6M218.0 473.9v3.5M219.0 473.9v3.3M225.0 473.9v4.8M231.0 473.9v2.9M232.0 473.9v1.5M234.0 473.9v2.0M239.0 473.9v3.5M240.0 473.9v2.7M241.0 473.9v1.7M248.5 473.9v1.3M253.5 473.9v0.8M254.5 473.9v10.6M257.5 473.9v3.0M258.5 473.9v3.7M268.5 473.9v1.6M269.5 473.9v5.0M273.5 473.9v1.2M278.5 473.9v2.2M279.5 473.9v1.8M282.5 473.9v3.4M283.5 473.9v2.6M284.5 473.9v2.3M286.8 473.9v2.6M288.8 473.9v2.1M291.8 473.9v2.6M298.8 473.9v1.1M300.8 473.9v1.8M301.8 473.9v2.5M304.8 473.9v3.0M305.8 473.9v3.6M307.8 473.9v2.3M309.8 473.9v11.1M311.8 473.9v9.3M313.8 473.9v1.7M318.8 473.9v3.2M319.8 473.9v1.4M321.8 473.9v1.2M326.5 473.9v2.3M329.5 473.9v2.9M330.5 473.9v4.2M331.5 473.9v2.9M332.5 473.9v2.7M334.5 473.9v3.5M335.5 473.9v3.4M337.5 473.9v2.7M344.5 473.9v11.5M354.5 473.9v2.7M356.5 473.9v1.7M359.4 473.9v0.9M363.4 473.9v1.1M365.4 473.9v1.6M369.4 473.9v1.5M371.4 473.9v3.0M372.4 473.9v1.9M374.4 473.9v2.3M377.4 473.9v2.5M380.4 473.9v1.5M381.4 473.9v13.6M383.4 473.9v1.1M384.4 473.9v1.9M386.4 473.9v2.4M388.4 473.9v6.1M389.4 473.9v3.3M390.4 473.9v3.5M413.3 473.9v5.7M416.3 473.9v2.4M419.3 473.9v0.8M420.3 473.9v1.5M421.5 473.9v1.1M423.5 473.9v1.3M424.5 473.9v1.4M425.5 473.9v0.7M428.5 473.9v1.8M432.5 473.9v1.2M435.5 473.9v1.5M439.5 473.9v1.2M447.5 473.9v2.5M449.5 473.9v2.7M452.5 473.9v1.9M453.5 473.9v2.6M461.5 473.9v4.0M462.5 473.9v1.8M463.5 473.9v2.7M464.5 473.9v1.3M469.5 473.9v1.0M470.5 473.9v1.1M473.5 473.9v2.2M482.5 473.9v2.2M484.5 473.9v7.3M485.5 473.9v2.2M486.5 473.9v2.1M487.5 473.9v1.5M499.5 473.9v1.1M500.5 473.9v1.1M505.5 473.9v0.9M508.5 473.9v1.7M516.5 473.9v1.5M521.5 473.9v3.7M526.5 473.9v1.5M531.5 473.9v1.6M538.5 473.9v1.4M539.5 473.9v2.2M540.5 473.9v1.6M544.5 473.9v4.0M548.5 473.9v1.7M550.5 473.9v2.6M553.5 473.9v1.5M564.5 473.9v1.2M570.5 473.9v1.7M572.5 473.9v1.8M577.5 473.9v3.0M578.5 473.9v1.7M580.3 473.9v1.2M590.3 473.9v1.9M591.3 473.9v1.3M592.3 473.9v1.3M593.3 473.9v1.4M599.3 473.9v1.9M603.7 473.9v1.8M604.7 473.9v1.5M608.7 473.9v0.9M613.7 473.9v1.3M615.7 473.9v1.4M616.7 473.9v4.7M625.3 473.9v2.1M639.5 473.9v0.9M642.5 473.9v0.9M643.5 473.9v5.8M644.5 473.9v4.8M647.5 473.9v1.6M658.0 473.9v1.0M659.0 473.9v1.0M670.3 473.9v0.8M676.7 473.9v1.4M683.7 473.9v0.7" stroke="#E82A2A" stroke-width="0.85" fill="none"/>
<path d="M290.8 516.4v3.4M291.8 516.4v4.1M292.8 516.4v3.3M293.8 516.4v3.6M294.8 516.4v3.7M295.8 516.4v2.6M296.8 516.4v2.6M297.8 516.4v2.5M298.8 516.4v2.6M299.8 516.4v2.5M300.8 516.4v3.4M301.8 516.4v3.0M302.8 516.4v2.7M303.8 516.4v3.0M304.8 516.4v2.9M305.8 516.4v2.9M306.8 516.4v3.4M307.8 516.4v3.1M308.8 516.4v3.8M309.8 516.4v3.5M310.8 516.4v2.8M311.8 516.4v2.9M312.8 516.4v3.9M313.8 516.4v3.2M314.8 516.4v3.1M315.8 516.4v2.8M316.8 516.4v2.8M317.8 516.4v2.8M318.8 516.4v3.0M319.8 516.4v3.1" stroke="#E82A2A" stroke-width="1.05" fill="none"/>
<path d="M55.1 516.4v-1.5M61.1 516.4v-0.7M65.1 516.4v-2.7M73.1 516.4v-2.4M76.1 516.4v-2.9M89.1 516.4v-0.9M92.1 516.4v-5.5M94.1 516.4v-0.7M99.1 516.4v-1.3M116.7 516.4v-3.4M118.7 516.4v-2.4M138.7 516.4v-1.5M144.7 516.4v-3.3M159.7 516.4v-2.4M161.7 516.4v-1.7M172.7 516.4v-1.5M187.7 516.4v-2.9M208.0 516.4v-1.1M235.0 516.4v-2.5M239.0 516.4v-1.6M250.5 516.4v-1.5M261.5 516.4v-1.2M262.5 516.4v-1.9M282.5 516.4v-2.5M306.8 516.4v-0.7M333.5 516.4v-3.8M346.5 516.4v-2.2M347.5 516.4v-11.1M358.5 516.4v-1.8M365.4 516.4v-1.0M391.3 516.4v-3.0M398.3 516.4v-1.9M427.5 516.4v-2.3M438.5 516.4v-10.7M451.5 516.4v-1.5M455.5 516.4v-1.1M457.5 516.4v-1.2M467.5 516.4v-1.2M468.5 516.4v-2.4M473.5 516.4v-1.8M474.5 516.4v-1.6M475.5 516.4v-0.9M479.5 516.4v-1.3M487.5 516.4v-5.6M492.5 516.4v-8.3M493.5 516.4v-6.8M498.5 516.4v-3.3M506.5 516.4v-3.1M514.5 516.4v-11.0M525.5 516.4v-3.6M531.5 516.4v-19.2M539.5 516.4v-18.8M545.5 516.4v-15.8M546.5 516.4v-18.9M552.5 516.4v-15.0M554.5 516.4v-7.8M563.5 516.4v-7.6M569.5 516.4v-18.0M575.5 516.4v-4.7M577.5 516.4v-10.2M582.3 516.4v-10.0M591.3 516.4v-4.8M594.3 516.4v-10.3M599.3 516.4v-10.8M601.7 516.4v-8.5M603.7 516.4v-13.3M606.7 516.4v-10.7M610.7 516.4v-5.6M613.7 516.4v-2.2M630.3 516.4v-6.2M631.3 516.4v-8.0M634.3 516.4v-16.7M635.3 516.4v-16.0M651.0 516.4v-10.1M655.0 516.4v-17.8M660.0 516.4v-3.7M667.3 516.4v-9.7M669.3 516.4v-11.2M670.3 516.4v-7.8M672.3 516.4v-9.9M676.7 516.4v-4.9M683.7 516.4v-16.0M54.1 516.4v-15.0" stroke="#8C8CF4" stroke-width="0.85" fill="none"/>
<path d="M63.1 516.4v-1.4M66.1 516.4v-2.8M67.1 516.4v-2.7M75.1 516.4v-2.4M77.1 516.4v-2.5M86.1 516.4v-8.9M95.1 516.4v-1.0M103.1 516.4v-1.2M106.1 516.4v-2.2M109.7 516.4v-5.7M117.7 516.4v-1.8M119.7 516.4v-2.2M120.7 516.4v-1.4M129.7 516.4v-1.0M130.7 516.4v-7.9M143.7 516.4v-1.5M145.7 516.4v-3.0M146.7 516.4v-3.0M147.7 516.4v-1.7M151.7 516.4v-1.6M154.7 516.4v-3.3M155.7 516.4v-2.1M156.7 516.4v-4.0M158.7 516.4v-1.5M166.7 516.4v-1.7M177.7 516.4v-1.3M179.7 516.4v-2.1M184.7 516.4v-3.5M193.7 516.4v-2.3M195.7 516.4v-3.5M196.7 516.4v-1.5M197.7 516.4v-3.3M198.7 516.4v-2.1M201.7 516.4v-7.9M209.0 516.4v-1.5M211.0 516.4v-5.1M213.0 516.4v-0.9M223.0 516.4v-7.1M234.0 516.4v-1.0M237.0 516.4v-0.8M253.5 516.4v-1.1M256.5 516.4v-1.3M259.5 516.4v-1.1M268.5 516.4v-3.3M271.5 516.4v-2.6M272.5 516.4v-2.7M274.5 516.4v-3.0M279.5 516.4v-1.3M290.8 516.4v-7.6M294.8 516.4v-1.8M313.8 516.4v-1.1M317.8 516.4v-1.1M319.8 516.4v-1.5M322.8 516.4v-2.2M324.5 516.4v-1.1M330.5 516.4v-2.0M334.5 516.4v-4.3M335.5 516.4v-4.1M337.5 516.4v-3.4M339.5 516.4v-10.1M344.5 516.4v-2.7M351.5 516.4v-1.9M354.5 516.4v-1.4M362.4 516.4v-1.2M366.4 516.4v-0.9M372.4 516.4v-1.4M375.4 516.4v-3.2M379.4 516.4v-1.6M387.4 516.4v-0.9M388.4 516.4v-1.4M392.3 516.4v-2.1M396.3 516.4v-3.6M399.3 516.4v-1.0M407.3 516.4v-1.8M410.3 516.4v-0.8M413.3 516.4v-5.8M414.3 516.4v-2.8M419.3 516.4v-1.4M421.5 516.4v-1.7M423.5 516.4v-2.0M426.5 516.4v-2.3M430.5 516.4v-1.2M433.5 516.4v-3.9M434.5 516.4v-1.3M436.5 516.4v-2.2M437.5 516.4v-2.2M442.5 516.4v-1.0M448.5 516.4v-9.3M453.5 516.4v-1.4M454.5 516.4v-1.0M458.5 516.4v-2.0M461.5 516.4v-5.0M464.5 516.4v-3.6M471.5 516.4v-1.8M476.5 516.4v-1.6M477.5 516.4v-1.7M480.5 516.4v-6.1M482.5 516.4v-3.5M484.5 516.4v-5.3M485.5 516.4v-3.0M488.5 516.4v-8.4M489.5 516.4v-17.2M490.5 516.4v-8.0M491.5 516.4v-4.2M494.5 516.4v-16.9M499.5 516.4v-4.2M503.5 516.4v-2.5M513.5 516.4v-2.9M515.5 516.4v-11.0M516.5 516.4v-11.0M517.5 516.4v-17.0M518.5 516.4v-7.3M526.5 516.4v-18.5M527.5 516.4v-5.7M528.5 516.4v-5.9M529.5 516.4v-7.6M538.5 516.4v-5.5M541.5 516.4v-6.7M543.5 516.4v-3.2M544.5 516.4v-12.6M548.5 516.4v-6.8M549.5 516.4v-11.0M550.5 516.4v-13.6M551.5 516.4v-14.1M555.5 516.4v-6.7M565.5 516.4v-2.9M566.5 516.4v-6.3M573.5 516.4v-3.5M574.5 516.4v-5.0M576.5 516.4v-4.0M578.5 516.4v-16.6M581.3 516.4v-18.7M584.3 516.4v-10.0M585.3 516.4v-5.0M590.3 516.4v-2.3M598.3 516.4v-5.4M600.7 516.4v-7.8M602.7 516.4v-11.6M604.7 516.4v-10.7M605.7 516.4v-15.0M611.7 516.4v-18.1M614.7 516.4v-2.0M615.7 516.4v-1.7M623.3 516.4v-7.4M624.3 516.4v-7.9M626.3 516.4v-19.1M627.3 516.4v-7.7M628.3 516.4v-10.0M629.3 516.4v-9.9M632.3 516.4v-18.7M633.3 516.4v-11.4M636.5 516.4v-5.8M637.5 516.4v-5.8M638.5 516.4v-10.6M639.5 516.4v-14.2M640.5 516.4v-13.9M641.5 516.4v-12.2M642.5 516.4v-4.6M644.5 516.4v-3.2M646.5 516.4v-6.0M647.5 516.4v-6.9M649.0 516.4v-9.9M652.0 516.4v-8.9M654.0 516.4v-6.6M657.0 516.4v-10.1M658.0 516.4v-11.7M659.0 516.4v-7.9M661.0 516.4v-10.5M662.0 516.4v-8.9M666.3 516.4v-9.0M668.3 516.4v-7.6M671.3 516.4v-13.8M678.7 516.4v-4.1M680.7 516.4v-17.0M681.7 516.4v-10.0M682.7 516.4v-11.5" stroke="#2828EE" stroke-width="0.85" fill="none"/>
<path d="M58.1 516.4v0.9M60.1 516.4v1.1M61.1 516.4v1.0M64.1 516.4v4.0M68.1 516.4v1.4M70.1 516.4v0.9M75.1 516.4v2.3M87.1 516.4v0.7M91.1 516.4v1.7M98.1 516.4v1.3M101.1 516.4v2.8M103.1 516.4v1.9M111.7 516.4v1.3M139.7 516.4v1.1M147.7 516.4v0.8M155.7 516.4v5.6M178.7 516.4v1.8M186.7 516.4v1.3M191.7 516.4v2.3M192.7 516.4v1.5M193.7 516.4v2.8M196.7 516.4v1.7M199.7 516.4v2.0M200.7 516.4v0.9M205.0 516.4v2.1M208.0 516.4v1.3M216.0 516.4v1.2M218.0 516.4v6.8M220.0 516.4v1.5M223.0 516.4v2.7M228.0 516.4v1.2M233.0 516.4v6.2M234.0 516.4v1.7M242.0 516.4v1.0M247.5 516.4v1.2M250.5 516.4v2.4M256.5 516.4v2.4M257.5 516.4v1.7M269.5 516.4v2.3M272.5 516.4v1.9M275.5 516.4v7.5M280.5 516.4v1.5M286.8 516.4v2.2M293.8 516.4v1.9M296.8 516.4v10.7M297.8 516.4v2.6M300.8 516.4v2.9M306.8 516.4v1.1M316.8 516.4v1.8M317.8 516.4v9.2M331.5 516.4v1.2M344.5 516.4v2.3M350.5 516.4v1.3M359.4 516.4v0.7M361.4 516.4v1.2M362.4 516.4v1.2M363.4 516.4v1.6M375.4 516.4v0.8M388.4 516.4v0.9M390.4 516.4v1.0M391.3 516.4v2.1M396.3 516.4v2.1M398.3 516.4v1.1M413.3 516.4v2.1M417.3 516.4v1.4M440.5 516.4v1.8M442.5 516.4v2.4M444.5 516.4v1.7M450.5 516.4v1.7M451.5 516.4v0.9M459.5 516.4v2.5M486.5 516.4v1.2M493.5 516.4v1.3M494.5 516.4v0.8M508.5 516.4v1.1M540.5 516.4v1.0M577.5 516.4v1.1M620.3 516.4v1.9M625.3 516.4v0.9M651.0 516.4v4.0M652.0 516.4v0.9M655.0 516.4v0.9M54.1 516.4v17.0" stroke="#F59898" stroke-width="0.85" fill="none"/>
<path d="M56.1 516.4v0.7M57.1 516.4v1.0M73.1 516.4v2.0M74.1 516.4v8.5M89.1 516.4v1.3M92.1 516.4v7.8M97.1 516.4v1.8M105.1 516.4v0.9M106.1 516.4v0.8M123.7 516.4v1.5M130.7 516.4v1.7M134.7 516.4v1.3M135.7 516.4v2.0M140.7 516.4v0.7M142.7 516.4v0.9M145.7 516.4v1.2M149.7 516.4v1.1M150.7 516.4v0.9M165.7 516.4v2.4M169.7 516.4v0.8M172.7 516.4v0.8M185.7 516.4v1.8M195.7 516.4v1.9M206.0 516.4v2.1M207.0 516.4v1.6M217.0 516.4v1.7M222.0 516.4v1.5M224.0 516.4v2.3M230.0 516.4v1.0M235.0 516.4v0.9M245.0 516.4v0.9M252.5 516.4v2.0M253.5 516.4v1.4M255.5 516.4v1.2M258.5 516.4v1.0M263.5 516.4v2.5M268.5 516.4v1.7M273.5 516.4v2.7M285.5 516.4v1.5M287.8 516.4v2.1M295.8 516.4v2.6M299.8 516.4v2.9M302.8 516.4v1.2M308.8 516.4v1.5M311.8 516.4v2.5M312.8 516.4v2.8M313.8 516.4v1.6M315.8 516.4v2.7M320.8 516.4v1.0M321.8 516.4v2.4M328.5 516.4v2.3M336.5 516.4v1.8M338.5 516.4v7.8M340.5 516.4v1.1M352.5 516.4v1.8M353.5 516.4v2.0M354.5 516.4v1.9M355.5 516.4v1.1M358.5 516.4v7.9M364.4 516.4v1.2M372.4 516.4v3.9M379.4 516.4v1.6M382.4 516.4v1.5M404.3 516.4v2.1M406.3 516.4v0.8M408.3 516.4v1.3M409.3 516.4v1.0M412.3 516.4v1.3M414.3 516.4v1.1M418.3 516.4v1.1M425.5 516.4v1.9M426.5 516.4v1.1M430.5 516.4v0.9M431.5 516.4v1.0M437.5 516.4v2.0M439.5 516.4v2.4M441.5 516.4v1.3M446.5 516.4v2.1M449.5 516.4v1.4M452.5 516.4v1.7M456.5 516.4v4.9M458.5 516.4v1.2M466.5 516.4v2.0M468.5 516.4v1.1M470.5 516.4v1.3M473.5 516.4v0.9M474.5 516.4v2.1M477.5 516.4v2.2M479.5 516.4v2.4M491.5 516.4v1.3M495.5 516.4v1.1M499.5 516.4v1.0M501.5 516.4v0.9M515.5 516.4v1.0M517.5 516.4v2.4M518.5 516.4v1.4M520.5 516.4v0.9M543.5 516.4v1.1M548.5 516.4v2.0M553.5 516.4v0.9M565.5 516.4v2.3M568.5 516.4v1.7M592.3 516.4v1.1M612.7 516.4v0.9M621.3 516.4v1.4M626.3 516.4v1.5M628.3 516.4v1.8M629.3 516.4v1.8M633.3 516.4v2.0M638.5 516.4v2.3M640.5 516.4v1.4M642.5 516.4v2.0M643.5 516.4v2.0M644.5 516.4v3.0M669.3 516.4v1.2M682.7 516.4v0.7" stroke="#E82A2A" stroke-width="0.85" fill="none"/>
<g font-family='"Liberation Sans", sans-serif'>
<rect x="80.30" y="605.17" width="3.30" height="130.43" fill="#FF0000" />
<rect x="83.60" y="610.69" width="3.30" height="124.91" fill="#2D5599" />
<line x1="83.60" y1="735.60" x2="83.60" y2="738.60" stroke="#444" stroke-width="0.8" />
<text x="83.60" y="746.71" font-size="9.2" text-anchor="middle" fill="#222" >1</text>
<rect x="93.60" y="709.68" width="3.30" height="25.92" fill="#FF0000" />
<rect x="96.90" y="613.70" width="3.30" height="121.90" fill="#2D5599" />
<line x1="96.90" y1="735.60" x2="96.90" y2="738.60" stroke="#444" stroke-width="0.8" />
<text x="96.90" y="746.71" font-size="9.2" text-anchor="middle" fill="#222" >2</text>
<rect x="106.90" y="617.71" width="3.30" height="117.89" fill="#FF0000" />
<rect x="110.20" y="636.27" width="3.30" height="99.33" fill="#2D5599" />
<line x1="110.20" y1="735.60" x2="110.20" y2="738.60" stroke="#444" stroke-width="0.8" />
<text x="110.20" y="746.71" font-size="9.2" text-anchor="middle" fill="#222" >3</text>
<rect x="123.50" y="639.78" width="3.30" height="95.82" fill="#2D5599" />
<line x1="123.50" y1="735.60" x2="123.50" y2="738.60" stroke="#444" stroke-width="0.8" />
<text x="123.50" y="746.71" font-size="9.2" text-anchor="middle" fill="#222" >4</text>
<rect x="133.50" y="722.22" width="3.30" height="13.38" fill="#FF0000" />
<rect x="136.80" y="644.80" width="3.30" height="90.80" fill="#2D5599" />
<line x1="136.80" y1="735.60" x2="136.80" y2="738.60" stroke="#444" stroke-width="0.8" />
<text x="136.80" y="746.71" font-size="9.2" text-anchor="middle" fill="#222" >5</text>
<rect x="146.80" y="683.34" width="3.30" height="52.26" fill="#FF0000" />
<rect x="150.10" y="649.82" width="3.30" height="85.78" fill="#2D5599" />
<line x1="150.10" y1="735.60" x2="150.10" y2="738.60" stroke="#444" stroke-width="0.8" />
<text x="150.10" y="746.71" font-size="9.2" text-anchor="middle" fill="#222" >6</text>
<rect x="160.10" y="709.68" width="3.30" height="25.92" fill="#FF0000" />
<rect x="163.40" y="655.84" width="3.30" height="79.76" fill="#2D5599" />
<line x1="163.40" y1="735.60" x2="163.40" y2="738.60" stroke="#444" stroke-width="0.8" />
<text x="163.40" y="746.71" font-size="9.2" text-anchor="middle" fill="#222" >7</text>
<rect x="173.40" y="670.38" width="3.30" height="65.22" fill="#FF0000" />
<rect x="176.70" y="662.36" width="3.30" height="73.24" fill="#2D5599" />
<line x1="176.70" y1="735.60" x2="176.70" y2="738.60" stroke="#444" stroke-width="0.8" />
<text x="176.70" y="746.71" font-size="9.2" text-anchor="middle" fill="#222" >8</text>
<rect x="190.00" y="664.87" width="3.30" height="70.74" fill="#2D5599" />
<line x1="190.00" y1="735.60" x2="190.00" y2="738.60" stroke="#444" stroke-width="0.8" />
<text x="190.00" y="746.71" font-size="9.2" text-anchor="middle" fill="#222" >9</text>
<rect x="200.00" y="722.22" width="3.30" height="13.38" fill="#FF0000" />
<rect x="203.30" y="667.37" width="3.30" height="68.23" fill="#2D5599" />
<line x1="203.30" y1="735.60" x2="203.30" y2="738.60" stroke="#444" stroke-width="0.8" />
<text x="203.30" y="746.71" font-size="9.2" text-anchor="middle" fill="#222" >10</text>
<rect x="213.30" y="683.34" width="3.30" height="52.26" fill="#FF0000" />
<rect x="216.60" y="667.88" width="3.30" height="67.73" fill="#2D5599" />
<line x1="216.60" y1="735.60" x2="216.60" y2="738.60" stroke="#444" stroke-width="0.8" />
<text x="216.60" y="746.71" font-size="9.2" text-anchor="middle" fill="#222" >11</text>
<rect x="226.60" y="722.22" width="3.30" height="13.38" fill="#FF0000" />
<rect x="229.90" y="668.38" width="3.30" height="67.22" fill="#2D5599" />
<line x1="229.90" y1="735.60" x2="229.90" y2="738.60" stroke="#444" stroke-width="0.8" />
<text x="229.90" y="746.71" font-size="9.2" text-anchor="middle" fill="#222" >12</text>
<rect x="239.90" y="722.22" width="3.30" height="13.38" fill="#FF0000" />
<rect x="243.20" y="677.91" width="3.30" height="57.69" fill="#2D5599" />
<line x1="243.20" y1="735.60" x2="243.20" y2="738.60" stroke="#444" stroke-width="0.8" />
<text x="243.20" y="746.71" font-size="9.2" text-anchor="middle" fill="#222" >13</text>
<rect x="253.20" y="696.30" width="3.30" height="39.30" fill="#FF0000" />
<rect x="256.50" y="681.92" width="3.30" height="53.68" fill="#2D5599" />
<line x1="256.50" y1="735.60" x2="256.50" y2="738.60" stroke="#444" stroke-width="0.8" />
<text x="256.50" y="746.71" font-size="9.2" text-anchor="middle" fill="#222" >14</text>
<rect x="266.50" y="709.68" width="3.30" height="25.92" fill="#FF0000" />
<rect x="269.80" y="683.93" width="3.30" height="51.67" fill="#2D5599" />
<line x1="269.80" y1="735.60" x2="269.80" y2="738.60" stroke="#444" stroke-width="0.8" />
<text x="269.80" y="746.71" font-size="9.2" text-anchor="middle" fill="#222" >15</text>
<rect x="279.80" y="709.68" width="3.30" height="25.92" fill="#FF0000" />
<rect x="283.10" y="690.45" width="3.30" height="45.15" fill="#2D5599" />
<line x1="283.10" y1="735.60" x2="283.10" y2="738.60" stroke="#444" stroke-width="0.8" />
<text x="283.10" y="746.71" font-size="9.2" text-anchor="middle" fill="#222" >16</text>
<rect x="293.10" y="657.01" width="3.30" height="78.59" fill="#FF0000" />
<rect x="296.40" y="694.97" width="3.30" height="40.63" fill="#2D5599" />
<line x1="296.40" y1="735.60" x2="296.40" y2="738.60" stroke="#444" stroke-width="0.8" />
<text x="296.40" y="746.71" font-size="9.2" text-anchor="middle" fill="#222" >17</text>
<rect x="309.70" y="696.47" width="3.30" height="39.13" fill="#2D5599" />
<line x1="309.70" y1="735.60" x2="309.70" y2="738.60" stroke="#444" stroke-width="0.8" />
<text x="309.70" y="746.71" font-size="9.2" text-anchor="middle" fill="#222" >18</text>
<rect x="319.70" y="657.01" width="3.30" height="78.59" fill="#FF0000" />
<rect x="323.00" y="706.00" width="3.30" height="29.60" fill="#2D5599" />
<line x1="323.00" y1="735.60" x2="323.00" y2="738.60" stroke="#444" stroke-width="0.8" />
<text x="323.00" y="746.71" font-size="9.2" text-anchor="middle" fill="#222" >19</text>
<rect x="333.00" y="683.34" width="3.30" height="52.26" fill="#FF0000" />
<rect x="336.30" y="704.00" width="3.30" height="31.61" fill="#2D5599" />
<line x1="336.30" y1="735.60" x2="336.30" y2="738.60" stroke="#444" stroke-width="0.8" />
<text x="336.30" y="746.71" font-size="9.2" text-anchor="middle" fill="#222" >20</text>
<rect x="349.60" y="711.52" width="3.30" height="24.08" fill="#2D5599" />
<line x1="349.60" y1="735.60" x2="349.60" y2="738.60" stroke="#444" stroke-width="0.8" />
<text x="349.60" y="746.71" font-size="9.2" text-anchor="middle" fill="#222" >21</text>
<rect x="359.60" y="722.22" width="3.30" height="13.38" fill="#FF0000" />
<rect x="362.90" y="710.01" width="3.30" height="25.59" fill="#2D5599" />
<line x1="362.90" y1="735.60" x2="362.90" y2="738.60" stroke="#444" stroke-width="0.8" />
<text x="362.90" y="746.71" font-size="9.2" text-anchor="middle" fill="#222" >22</text>
<line x1="76.90" y1="585.10" x2="76.90" y2="735.60" stroke="#FF0000" stroke-width="0.9" />
<line x1="73.80" y1="735.60" x2="76.90" y2="735.60" stroke="#FF0000" stroke-width="0.9" />
<text x="73.60" y="738.22" font-size="9.5" text-anchor="end" fill="#FF0000" textLength="11.6" lengthAdjust="spacingAndGlyphs">0.0</text>
<line x1="73.80" y1="718.88" x2="76.90" y2="718.88" stroke="#FF0000" stroke-width="0.9" />
<text x="73.60" y="721.50" font-size="9.5" text-anchor="end" fill="#FF0000" textLength="11.6" lengthAdjust="spacingAndGlyphs">2.0</text>
<line x1="73.80" y1="702.16" x2="76.90" y2="702.16" stroke="#FF0000" stroke-width="0.9" />
<text x="73.60" y="704.78" font-size="9.5" text-anchor="end" fill="#FF0000" textLength="11.6" lengthAdjust="spacingAndGlyphs">4.0</text>
<line x1="73.80" y1="685.43" x2="76.90" y2="685.43" stroke="#FF0000" stroke-width="0.9" />
<text x="73.60" y="688.05" font-size="9.5" text-anchor="end" fill="#FF0000" textLength="11.6" lengthAdjust="spacingAndGlyphs">6.0</text>
<line x1="73.80" y1="668.71" x2="76.90" y2="668.71" stroke="#FF0000" stroke-width="0.9" />
<text x="73.60" y="671.33" font-size="9.5" text-anchor="end" fill="#FF0000" textLength="11.6" lengthAdjust="spacingAndGlyphs">8.0</text>
<line x1="73.80" y1="651.99" x2="76.90" y2="651.99" stroke="#FF0000" stroke-width="0.9" />
<text x="73.60" y="654.61" font-size="9.5" text-anchor="end" fill="#FF0000" textLength="16.2" lengthAdjust="spacingAndGlyphs">10.0</text>
<line x1="73.80" y1="635.27" x2="76.90" y2="635.27" stroke="#FF0000" stroke-width="0.9" />
<text x="73.60" y="637.89" font-size="9.5" text-anchor="end" fill="#FF0000" textLength="16.2" lengthAdjust="spacingAndGlyphs">12.0</text>
<line x1="73.80" y1="618.54" x2="76.90" y2="618.54" stroke="#FF0000" stroke-width="0.9" />
<text x="73.60" y="621.16" font-size="9.5" text-anchor="end" fill="#FF0000" textLength="16.2" lengthAdjust="spacingAndGlyphs">14.0</text>
<line x1="73.80" y1="601.82" x2="76.90" y2="601.82" stroke="#FF0000" stroke-width="0.9" />
<text x="73.60" y="604.44" font-size="9.5" text-anchor="end" fill="#FF0000" textLength="16.2" lengthAdjust="spacingAndGlyphs">16.0</text>
<line x1="73.80" y1="585.10" x2="76.90" y2="585.10" stroke="#FF0000" stroke-width="0.9" />
<text x="73.60" y="587.72" font-size="9.5" text-anchor="end" fill="#FF0000" textLength="16.2" lengthAdjust="spacingAndGlyphs">18.0</text>
<line x1="76.90" y1="735.60" x2="369.20" y2="735.60" stroke="#333" stroke-width="1" />
<line x1="369.20" y1="585.10" x2="369.20" y2="735.60" stroke="#5A77B0" stroke-width="0.9" />
<line x1="369.20" y1="735.60" x2="372.20" y2="735.60" stroke="#5A77B0" stroke-width="0.9" />
<text x="372.20" y="738.42" font-size="9.5" text-anchor="start" fill="#5A77B0" textLength="4.9" lengthAdjust="spacingAndGlyphs">0</text>
<line x1="369.20" y1="710.52" x2="372.20" y2="710.52" stroke="#5A77B0" stroke-width="0.9" />
<text x="372.20" y="713.34" font-size="9.5" text-anchor="start" fill="#5A77B0" textLength="9.7" lengthAdjust="spacingAndGlyphs">50</text>
<line x1="369.20" y1="685.43" x2="372.20" y2="685.43" stroke="#5A77B0" stroke-width="0.9" />
<text x="372.20" y="688.25" font-size="9.5" text-anchor="start" fill="#5A77B0" textLength="14.6" lengthAdjust="spacingAndGlyphs">100</text>
<line x1="369.20" y1="660.35" x2="372.20" y2="660.35" stroke="#5A77B0" stroke-width="0.9" />
<text x="372.20" y="663.17" font-size="9.5" text-anchor="start" fill="#5A77B0" textLength="14.6" lengthAdjust="spacingAndGlyphs">150</text>
<line x1="369.20" y1="635.27" x2="372.20" y2="635.27" stroke="#5A77B0" stroke-width="0.9" />
<text x="372.20" y="638.09" font-size="9.5" text-anchor="start" fill="#5A77B0" textLength="14.6" lengthAdjust="spacingAndGlyphs">200</text>
<line x1="369.20" y1="610.18" x2="372.20" y2="610.18" stroke="#5A77B0" stroke-width="0.9" />
<text x="372.20" y="613.00" font-size="9.5" text-anchor="start" fill="#5A77B0" textLength="14.6" lengthAdjust="spacingAndGlyphs">250</text>
<line x1="369.20" y1="585.10" x2="372.20" y2="585.10" stroke="#5A77B0" stroke-width="0.9" />
<text x="372.20" y="587.92" font-size="9.5" text-anchor="start" fill="#5A77B0" textLength="14.6" lengthAdjust="spacingAndGlyphs">300</text>
<text x="220.00" y="760.46" font-size="9.9" text-anchor="middle" fill="#222" >Chromosomes</text>
<text transform="translate(50.5,655.0) rotate(-90)" font-size="9.8" text-anchor="middle" fill="#FF0000">Fraction of chromothripsis-like patterns (%)</text>
<text transform="translate(400.4,659.3) rotate(-90)" font-size="10.6" text-anchor="middle" fill="#5A77B0">Chromosome size (Mb)</text>
<rect x="67.00" y="768.60" width="9.90" height="9.90" fill="#FF0000" />
<text x="81.00" y="777.00" font-size="9.27" text-anchor="start" fill="#222" >Fraction of chromothripsis-like patterns (%)</text>
<rect x="268.40" y="768.60" width="9.90" height="9.90" fill="#2D5599" />
<text x="281.30" y="777.00" font-size="9.27" text-anchor="start" fill="#222" >Chromosome size (Mb)</text>
</g>
</svg></body></html>
